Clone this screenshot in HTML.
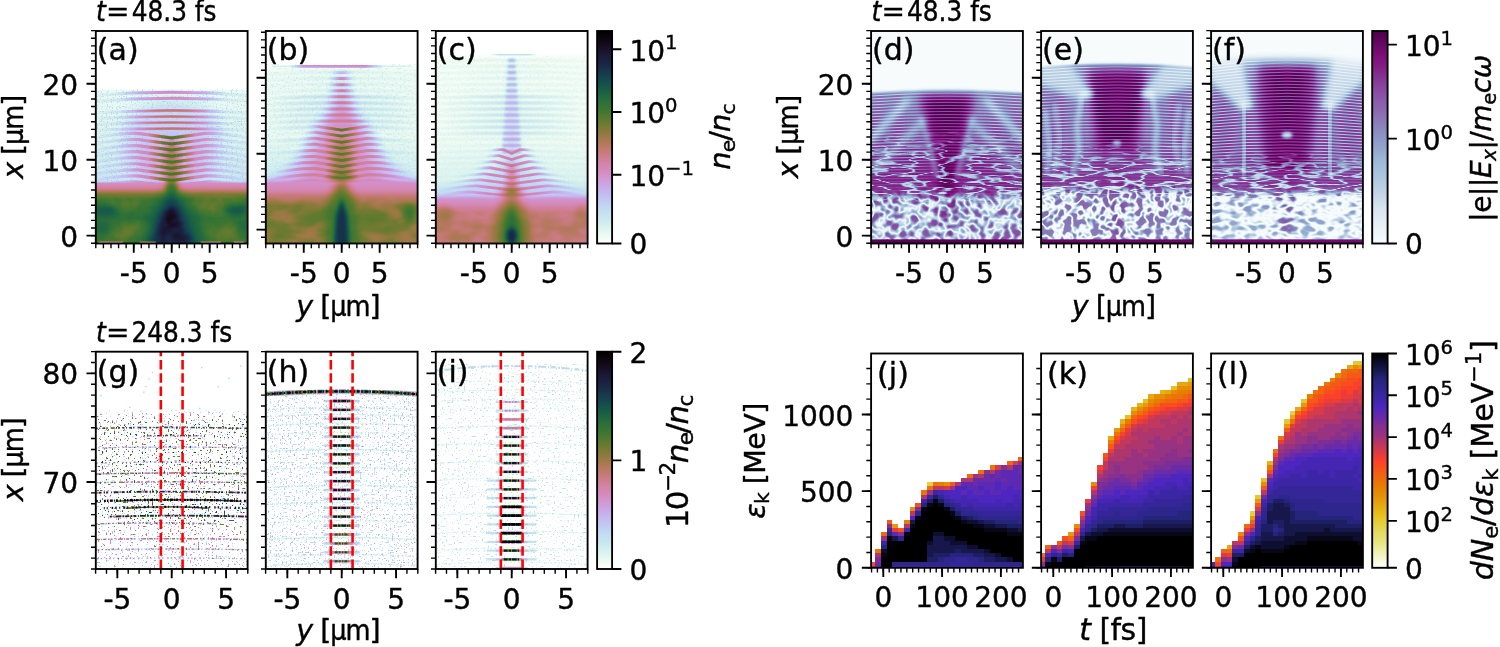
<!DOCTYPE html>
<html><head><meta charset="utf-8"><title>figure</title>
<style>html,body{margin:0;padding:0;background:#fff;overflow:hidden}svg{display:block}</style></head>
<body>
<svg width="1500" height="647" viewBox="0 0 1500 647" font-family="'DejaVu Sans','Liberation Sans',sans-serif" fill="#000">
<defs><linearGradient id="cb1" x1="0" y1="0" x2="0" y2="1"><stop offset="0" stop-color="#000000"/><stop offset="0.03" stop-color="#0b040c"/><stop offset="0.06" stop-color="#140a1b"/><stop offset="0.09" stop-color="#19122b"/><stop offset="0.12" stop-color="#1b1c3a"/><stop offset="0.16" stop-color="#192845"/><stop offset="0.19" stop-color="#17364c"/><stop offset="0.22" stop-color="#15444f"/><stop offset="0.25" stop-color="#15524c"/><stop offset="0.28" stop-color="#195e47"/><stop offset="0.31" stop-color="#22693f"/><stop offset="0.34" stop-color="#2f7137"/><stop offset="0.38" stop-color="#417731"/><stop offset="0.41" stop-color="#577a2f"/><stop offset="0.44" stop-color="#6f7b31"/><stop offset="0.47" stop-color="#877a3a"/><stop offset="0.5" stop-color="#9f7948"/><stop offset="0.53" stop-color="#b3795b"/><stop offset="0.56" stop-color="#c37a73"/><stop offset="0.59" stop-color="#ce7d8c"/><stop offset="0.62" stop-color="#d383a6"/><stop offset="0.66" stop-color="#d48cbe"/><stop offset="0.69" stop-color="#d297d2"/><stop offset="0.72" stop-color="#cca4e2"/><stop offset="0.75" stop-color="#c7b2ed"/><stop offset="0.78" stop-color="#c3c1f2"/><stop offset="0.81" stop-color="#c1cff3"/><stop offset="0.84" stop-color="#c4dcf2"/><stop offset="0.88" stop-color="#cae7f0"/><stop offset="0.91" stop-color="#d4efef"/><stop offset="0.94" stop-color="#e2f6f0"/><stop offset="0.97" stop-color="#f0fbf5"/><stop offset="1" stop-color="#ffffff"/></linearGradient><linearGradient id="cb2" x1="0" y1="0" x2="0" y2="1"><stop offset="0" stop-color="#4d004b"/><stop offset="0.03" stop-color="#580356"/><stop offset="0.06" stop-color="#650762"/><stop offset="0.09" stop-color="#730b6e"/><stop offset="0.12" stop-color="#800f7b"/><stop offset="0.16" stop-color="#831a83"/><stop offset="0.19" stop-color="#84278c"/><stop offset="0.22" stop-color="#863394"/><stop offset="0.25" stop-color="#88409c"/><stop offset="0.28" stop-color="#894ba2"/><stop offset="0.31" stop-color="#8a55a7"/><stop offset="0.34" stop-color="#8b60ac"/><stop offset="0.38" stop-color="#8c6ab1"/><stop offset="0.41" stop-color="#8c75b6"/><stop offset="0.44" stop-color="#8c80bb"/><stop offset="0.47" stop-color="#8c8bc0"/><stop offset="0.5" stop-color="#8c95c6"/><stop offset="0.53" stop-color="#909fcb"/><stop offset="0.56" stop-color="#95a8d0"/><stop offset="0.59" stop-color="#99b2d5"/><stop offset="0.62" stop-color="#9ebcda"/><stop offset="0.66" stop-color="#a6c2dd"/><stop offset="0.69" stop-color="#aec7e0"/><stop offset="0.72" stop-color="#b6cde3"/><stop offset="0.75" stop-color="#bfd3e6"/><stop offset="0.78" stop-color="#c7d9e9"/><stop offset="0.81" stop-color="#cfdfed"/><stop offset="0.84" stop-color="#d8e6f0"/><stop offset="0.88" stop-color="#e0ecf4"/><stop offset="0.91" stop-color="#e6f0f6"/><stop offset="0.94" stop-color="#ebf4f8"/><stop offset="0.97" stop-color="#f1f8fb"/><stop offset="1" stop-color="#f7fcfd"/></linearGradient><linearGradient id="cb3" x1="0" y1="0" x2="0" y2="1"><stop offset="0" stop-color="#000000"/><stop offset="0.03" stop-color="#0b040c"/><stop offset="0.06" stop-color="#140a1b"/><stop offset="0.09" stop-color="#19122b"/><stop offset="0.12" stop-color="#1b1c3a"/><stop offset="0.16" stop-color="#192845"/><stop offset="0.19" stop-color="#17364c"/><stop offset="0.22" stop-color="#15444f"/><stop offset="0.25" stop-color="#15524c"/><stop offset="0.28" stop-color="#195e47"/><stop offset="0.31" stop-color="#22693f"/><stop offset="0.34" stop-color="#2f7137"/><stop offset="0.38" stop-color="#417731"/><stop offset="0.41" stop-color="#577a2f"/><stop offset="0.44" stop-color="#6f7b31"/><stop offset="0.47" stop-color="#877a3a"/><stop offset="0.5" stop-color="#9f7948"/><stop offset="0.53" stop-color="#b3795b"/><stop offset="0.56" stop-color="#c37a73"/><stop offset="0.59" stop-color="#ce7d8c"/><stop offset="0.62" stop-color="#d383a6"/><stop offset="0.66" stop-color="#d48cbe"/><stop offset="0.69" stop-color="#d297d2"/><stop offset="0.72" stop-color="#cca4e2"/><stop offset="0.75" stop-color="#c7b2ed"/><stop offset="0.78" stop-color="#c3c1f2"/><stop offset="0.81" stop-color="#c1cff3"/><stop offset="0.84" stop-color="#c4dcf2"/><stop offset="0.88" stop-color="#cae7f0"/><stop offset="0.91" stop-color="#d4efef"/><stop offset="0.94" stop-color="#e2f6f0"/><stop offset="0.97" stop-color="#f0fbf5"/><stop offset="1" stop-color="#ffffff"/></linearGradient><linearGradient id="cb4" x1="0" y1="0" x2="0" y2="1"><stop offset="0" stop-color="#000000"/><stop offset="0.03" stop-color="#08081c"/><stop offset="0.06" stop-color="#12123c"/><stop offset="0.09" stop-color="#1c1c5c"/><stop offset="0.12" stop-color="#25257c"/><stop offset="0.16" stop-color="#2f268e"/><stop offset="0.19" stop-color="#38269e"/><stop offset="0.22" stop-color="#4226ae"/><stop offset="0.25" stop-color="#4c26be"/><stop offset="0.28" stop-color="#5e29b1"/><stop offset="0.31" stop-color="#712ca1"/><stop offset="0.34" stop-color="#843091"/><stop offset="0.38" stop-color="#983381"/><stop offset="0.41" stop-color="#b1366b"/><stop offset="0.44" stop-color="#ca3954"/><stop offset="0.47" stop-color="#e43c3e"/><stop offset="0.5" stop-color="#fd4028"/><stop offset="0.53" stop-color="#f94f1d"/><stop offset="0.56" stop-color="#f35f14"/><stop offset="0.59" stop-color="#ec6f0a"/><stop offset="0.62" stop-color="#e67f00"/><stop offset="0.66" stop-color="#e68f06"/><stop offset="0.69" stop-color="#e69f0d"/><stop offset="0.72" stop-color="#e6af13"/><stop offset="0.75" stop-color="#e6bf19"/><stop offset="0.78" stop-color="#e6c932"/><stop offset="0.81" stop-color="#e6d24c"/><stop offset="0.84" stop-color="#e6dc66"/><stop offset="0.88" stop-color="#e6e57f"/><stop offset="0.91" stop-color="#ecec9f"/><stop offset="0.94" stop-color="#f2f2bf"/><stop offset="0.97" stop-color="#f9f9df"/><stop offset="1" stop-color="#ffffff"/></linearGradient><filter id="cmCH" filterUnits="userSpaceOnUse" x="0" y="0" width="1500" height="647" color-interpolation-filters="sRGB"><feComponentTransfer><feFuncR type="table" tableValues="1.000 0.965 0.928 0.885 0.851 0.821 0.792 0.775 0.763 0.758 0.760 0.767 0.780 0.794 0.807 0.822 0.830 0.833 0.829 0.818 0.798 0.764 0.727 0.683 0.622 0.566 0.507 0.435 0.375 0.318 0.255 0.209 0.170 0.133 0.110 0.094 0.084 0.082 0.084 0.090 0.096 0.102 0.104 0.102 0.095 0.079 0.058 0.032 0.000"/><feFuncG type="table" tableValues="1.000 0.990 0.979 0.963 0.948 0.930 0.904 0.879 0.850 0.812 0.778 0.743 0.700 0.664 0.630 0.592 0.563 0.538 0.514 0.498 0.487 0.478 0.474 0.474 0.475 0.477 0.480 0.481 0.479 0.475 0.466 0.453 0.437 0.412 0.386 0.358 0.320 0.287 0.252 0.211 0.177 0.146 0.111 0.085 0.063 0.040 0.024 0.011 0.000"/><feFuncB type="table" tableValues="1.000 0.974 0.955 0.941 0.936 0.936 0.941 0.946 0.952 0.955 0.953 0.946 0.928 0.904 0.873 0.824 0.776 0.722 0.651 0.588 0.524 0.450 0.391 0.338 0.282 0.245 0.216 0.194 0.185 0.184 0.193 0.206 0.224 0.247 0.266 0.284 0.299 0.307 0.307 0.299 0.283 0.261 0.226 0.192 0.154 0.107 0.068 0.032 0.000"/></feComponentTransfer></filter><filter id="cmBP" filterUnits="userSpaceOnUse" x="0" y="0" width="1500" height="647" color-interpolation-filters="sRGB"><feComponentTransfer><feFuncR type="table" tableValues="0.969 0.954 0.940 0.923 0.909 0.895 0.878 0.858 0.837 0.813 0.793 0.772 0.748 0.728 0.707 0.683 0.663 0.642 0.619 0.608 0.597 0.583 0.572 0.561 0.549 0.549 0.549 0.549 0.549 0.549 0.549 0.546 0.544 0.541 0.538 0.536 0.533 0.528 0.524 0.519 0.515 0.510 0.500 0.468 0.436 0.398 0.366 0.334 0.302"/><feFuncG type="table" tableValues="0.988 0.978 0.969 0.957 0.947 0.937 0.925 0.910 0.894 0.876 0.861 0.845 0.827 0.813 0.798 0.781 0.767 0.753 0.736 0.712 0.689 0.661 0.637 0.614 0.586 0.559 0.533 0.501 0.474 0.448 0.416 0.391 0.365 0.334 0.308 0.282 0.250 0.220 0.189 0.152 0.121 0.090 0.057 0.048 0.039 0.028 0.018 0.009 0.000"/><feFuncB type="table" tableValues="0.992 0.987 0.981 0.974 0.969 0.963 0.957 0.948 0.939 0.929 0.920 0.912 0.902 0.894 0.887 0.878 0.871 0.863 0.854 0.842 0.829 0.815 0.802 0.790 0.775 0.762 0.749 0.734 0.721 0.708 0.693 0.680 0.668 0.653 0.641 0.629 0.613 0.592 0.572 0.548 0.527 0.507 0.481 0.451 0.421 0.385 0.354 0.324 0.294"/></feComponentTransfer></filter><filter id="bl0_6" x="-30%" y="-30%" width="160%" height="160%" color-interpolation-filters="sRGB"><feGaussianBlur stdDeviation="0.6"/></filter><filter id="bl1" x="-30%" y="-30%" width="160%" height="160%" color-interpolation-filters="sRGB"><feGaussianBlur stdDeviation="1"/></filter><filter id="bl1_5" x="-30%" y="-30%" width="160%" height="160%" color-interpolation-filters="sRGB"><feGaussianBlur stdDeviation="1.5"/></filter><filter id="bl2" x="-30%" y="-30%" width="160%" height="160%" color-interpolation-filters="sRGB"><feGaussianBlur stdDeviation="2"/></filter><filter id="bl3" x="-30%" y="-30%" width="160%" height="160%" color-interpolation-filters="sRGB"><feGaussianBlur stdDeviation="3"/></filter><filter id="bl4" x="-30%" y="-30%" width="160%" height="160%" color-interpolation-filters="sRGB"><feGaussianBlur stdDeviation="4"/></filter><filter id="bl6" x="-30%" y="-30%" width="160%" height="160%" color-interpolation-filters="sRGB"><feGaussianBlur stdDeviation="6"/></filter><filter id="bl9" x="-30%" y="-30%" width="160%" height="160%" color-interpolation-filters="sRGB"><feGaussianBlur stdDeviation="9"/></filter><filter id="blh" x="-30%" y="-30%" width="160%" height="160%" color-interpolation-filters="sRGB"><feGaussianBlur stdDeviation="6 1.2"/></filter><filter id="nzd1" x="0" y="0" width="1" height="1" color-interpolation-filters="sRGB"><feTurbulence type="fractalNoise" baseFrequency="0.1" numOctaves="2" seed="7"/><feColorMatrix type="matrix" values="0 0 0 0 0 0 0 0 0 0 0 0 0 0 0 1 0 0 0 0"/><feComponentTransfer><feFuncA type="table" tableValues="0 0 0 0.05 0.5 1 0.5 0.05 0 0 0"/></feComponentTransfer></filter><filter id="nzd2" x="0" y="0" width="1" height="1" color-interpolation-filters="sRGB"><feTurbulence type="fractalNoise" baseFrequency="0.035 0.17" numOctaves="2" seed="3"/><feColorMatrix type="matrix" values="0 0 0 0 0 0 0 0 0 0 0 0 0 0 0 1 0 0 0 0"/><feComponentTransfer><feFuncA type="table" tableValues="0 0 0 0 0 0 0 0 0 0 0 0 0 0 0 0 0 0 0.33 0.75 1 0.75 0.33 0 0 0 0 0 0 0 0 0 0 0 0 0 0 0 0 0 0"/></feComponentTransfer></filter><linearGradient id="mkd1g" gradientUnits="userSpaceOnUse" x1="0" y1="185" x2="0" y2="243"><stop offset="0" stop-color="#000000"/><stop offset="0.12" stop-color="#1a1a1a"/><stop offset="0.27" stop-color="#ffffff"/><stop offset="1" stop-color="#ffffff"/></linearGradient><mask id="mkd1" maskUnits="userSpaceOnUse" x="0" y="0" width="1500" height="647"><rect x="0" y="0" width="1500" height="185.5" fill="#000000"/><rect x="0" y="242.5" width="1500" height="404.5" fill="#ffffff"/><rect x="0" y="185" width="1500" height="58" fill="url(#mkd1g)"/></mask><linearGradient id="mkd2g" gradientUnits="userSpaceOnUse" x1="0" y1="128" x2="0" y2="205"><stop offset="0" stop-color="#000000"/><stop offset="0.35" stop-color="#999999"/><stop offset="0.85" stop-color="#cccccc"/><stop offset="1" stop-color="#000000"/></linearGradient><mask id="mkd2" maskUnits="userSpaceOnUse" x="0" y="0" width="1500" height="647"><rect x="0" y="0" width="1500" height="128.5" fill="#000000"/><rect x="0" y="204.5" width="1500" height="442.5" fill="#000000"/><rect x="0" y="128" width="1500" height="77" fill="url(#mkd2g)"/></mask><linearGradient id="mkdfg" gradientUnits="userSpaceOnUse" x1="0" y1="90.3" x2="0" y2="200"><stop offset="0" stop-color="#ffffff"/><stop offset="0.55" stop-color="#ffffff"/><stop offset="0.78" stop-color="#4c4c4c"/><stop offset="1" stop-color="#000000"/></linearGradient><mask id="mkdf" maskUnits="userSpaceOnUse" x="0" y="0" width="1500" height="647"><rect x="0" y="0" width="1500" height="90.8" fill="#ffffff"/><rect x="0" y="199.5" width="1500" height="447.5" fill="#000000"/><rect x="0" y="90.3" width="1500" height="109.7" fill="url(#mkdfg)"/></mask><clipPath id="cpd"><rect x="871.1" y="31" width="151.8" height="212.5"/></clipPath><linearGradient id="fgd" gradientUnits="userSpaceOnUse" x1="0" y1="84.3" x2="0" y2="243.5"><stop offset="0" stop-color="#262626"/><stop offset="0.06" stop-color="#9e9e9e"/><stop offset="0.26" stop-color="#bdbdbd"/><stop offset="0.46" stop-color="#d6d6d6"/><stop offset="0.7" stop-color="#d6d6d6"/><stop offset="0.75" stop-color="#bdbdbd"/><stop offset="1" stop-color="#b2b2b2"/></linearGradient><linearGradient id="fsd" gradientUnits="userSpaceOnUse" x1="871.1" y1="0" x2="1022.9" y2="0"><stop offset="0" stop-color="#080808" stop-opacity="0.66"/><stop offset="0.3" stop-color="#080808" stop-opacity="0.66"/><stop offset="0.42" stop-color="#080808" stop-opacity="0.32"/><stop offset="0.58" stop-color="#080808" stop-opacity="0.32"/><stop offset="0.7" stop-color="#080808" stop-opacity="0.66"/><stop offset="1" stop-color="#080808" stop-opacity="0.66"/></linearGradient><filter id="nze1" x="0" y="0" width="1" height="1" color-interpolation-filters="sRGB"><feTurbulence type="fractalNoise" baseFrequency="0.11" numOctaves="2" seed="11"/><feColorMatrix type="matrix" values="0 0 0 0 0 0 0 0 0 0 0 0 0 0 0 1 0 0 0 0"/><feComponentTransfer><feFuncA type="table" tableValues="0 0 0 0 0 0 0 0 0 0 0 0 0 0 0.08 0.27 0.46 0.65 0.85 1 1 1 0.85 0.65 0.46 0.27 0.08 0 0 0 0 0 0 0 0 0 0 0 0 0 0"/></feComponentTransfer></filter><filter id="nze2" x="0" y="0" width="1" height="1" color-interpolation-filters="sRGB"><feTurbulence type="fractalNoise" baseFrequency="0.035 0.17" numOctaves="2" seed="5"/><feColorMatrix type="matrix" values="0 0 0 0 0 0 0 0 0 0 0 0 0 0 0 1 0 0 0 0"/><feComponentTransfer><feFuncA type="table" tableValues="0 0 0 0 0 0 0 0 0 0 0 0 0 0 0 0 0 0 0.33 0.75 1 0.75 0.33 0 0 0 0 0 0 0 0 0 0 0 0 0 0 0 0 0 0"/></feComponentTransfer></filter><linearGradient id="mke1g" gradientUnits="userSpaceOnUse" x1="0" y1="180" x2="0" y2="243"><stop offset="0" stop-color="#000000"/><stop offset="0.1" stop-color="#1a1a1a"/><stop offset="0.22" stop-color="#ffffff"/><stop offset="1" stop-color="#ffffff"/></linearGradient><mask id="mke1" maskUnits="userSpaceOnUse" x="0" y="0" width="1500" height="647"><rect x="0" y="0" width="1500" height="180.5" fill="#000000"/><rect x="0" y="242.5" width="1500" height="404.5" fill="#ffffff"/><rect x="0" y="180" width="1500" height="63" fill="url(#mke1g)"/></mask><linearGradient id="mke2g" gradientUnits="userSpaceOnUse" x1="0" y1="140" x2="0" y2="200"><stop offset="0" stop-color="#000000"/><stop offset="0.4" stop-color="#b2b2b2"/><stop offset="0.85" stop-color="#e6e6e6"/><stop offset="1" stop-color="#000000"/></linearGradient><mask id="mke2" maskUnits="userSpaceOnUse" x="0" y="0" width="1500" height="647"><rect x="0" y="0" width="1500" height="140.5" fill="#000000"/><rect x="0" y="199.5" width="1500" height="447.5" fill="#000000"/><rect x="0" y="140" width="1500" height="60" fill="url(#mke2g)"/></mask><linearGradient id="mkefg" gradientUnits="userSpaceOnUse" x1="0" y1="63.8" x2="0" y2="195"><stop offset="0" stop-color="#ffffff"/><stop offset="0.62" stop-color="#ffffff"/><stop offset="0.82" stop-color="#595959"/><stop offset="1" stop-color="#000000"/></linearGradient><mask id="mkef" maskUnits="userSpaceOnUse" x="0" y="0" width="1500" height="647"><rect x="0" y="0" width="1500" height="64.3" fill="#ffffff"/><rect x="0" y="194.5" width="1500" height="452.5" fill="#000000"/><rect x="0" y="63.8" width="1500" height="131.2" fill="url(#mkefg)"/></mask><clipPath id="cpe"><rect x="1041.1" y="31" width="151.8" height="212.5"/></clipPath><linearGradient id="fge" gradientUnits="userSpaceOnUse" x1="0" y1="57.8" x2="0" y2="243.5"><stop offset="0.01" stop-color="#141414"/><stop offset="0.04" stop-color="#8c8c8c"/><stop offset="0.23" stop-color="#adadad"/><stop offset="0.5" stop-color="#bdbdbd"/><stop offset="0.7" stop-color="#d1d1d1"/><stop offset="0.74" stop-color="#a8a8a8"/><stop offset="1" stop-color="#8f8f8f"/></linearGradient><linearGradient id="fse" gradientUnits="userSpaceOnUse" x1="1041.1" y1="0" x2="1192.9" y2="0"><stop offset="0" stop-color="#080808" stop-opacity="0.68"/><stop offset="0.3" stop-color="#080808" stop-opacity="0.68"/><stop offset="0.42" stop-color="#080808" stop-opacity="0.36"/><stop offset="0.58" stop-color="#080808" stop-opacity="0.36"/><stop offset="0.7" stop-color="#080808" stop-opacity="0.68"/><stop offset="1" stop-color="#080808" stop-opacity="0.68"/></linearGradient><filter id="nzf1" x="0" y="0" width="1" height="1" color-interpolation-filters="sRGB"><feTurbulence type="fractalNoise" baseFrequency="0.07 0.12" numOctaves="2" seed="21"/><feColorMatrix type="matrix" values="0 0 0 0 0 0 0 0 0 0 0 0 0 0 0 1 0 0 0 0"/><feComponentTransfer><feFuncA type="table" tableValues="0 0 0 0 0 0 0 0 0 0 0 0 0 0.1 0.27 0.43 0.6 0.77 0.93 1 1 1 0.93 0.77 0.6 0.43 0.27 0.1 0 0 0 0 0 0 0 0 0 0 0 0 0"/></feComponentTransfer></filter><filter id="nzf2" x="0" y="0" width="1" height="1" color-interpolation-filters="sRGB"><feTurbulence type="fractalNoise" baseFrequency="0.035 0.17" numOctaves="2" seed="9"/><feColorMatrix type="matrix" values="0 0 0 0 0 0 0 0 0 0 0 0 0 0 0 1 0 0 0 0"/><feComponentTransfer><feFuncA type="table" tableValues="0 0 0 0 0 0 0 0 0 0 0 0 0 0 0 0 0 0 0.33 0.75 1 0.75 0.33 0 0 0 0 0 0 0 0 0 0 0 0 0 0 0 0 0 0"/></feComponentTransfer></filter><linearGradient id="mkf1g" gradientUnits="userSpaceOnUse" x1="0" y1="184" x2="0" y2="243"><stop offset="0" stop-color="#000000"/><stop offset="0.1" stop-color="#1a1a1a"/><stop offset="0.22" stop-color="#ffffff"/><stop offset="1" stop-color="#ffffff"/></linearGradient><mask id="mkf1" maskUnits="userSpaceOnUse" x="0" y="0" width="1500" height="647"><rect x="0" y="0" width="1500" height="184.5" fill="#000000"/><rect x="0" y="242.5" width="1500" height="404.5" fill="#ffffff"/><rect x="0" y="184" width="1500" height="59" fill="url(#mkf1g)"/></mask><linearGradient id="mkf2g" gradientUnits="userSpaceOnUse" x1="0" y1="150" x2="0" y2="204"><stop offset="0" stop-color="#000000"/><stop offset="0.4" stop-color="#b2b2b2"/><stop offset="0.85" stop-color="#e6e6e6"/><stop offset="1" stop-color="#000000"/></linearGradient><mask id="mkf2" maskUnits="userSpaceOnUse" x="0" y="0" width="1500" height="647"><rect x="0" y="0" width="1500" height="150.5" fill="#000000"/><rect x="0" y="203.5" width="1500" height="443.5" fill="#000000"/><rect x="0" y="150" width="1500" height="54" fill="url(#mkf2g)"/></mask><linearGradient id="mkffg" gradientUnits="userSpaceOnUse" x1="0" y1="57" x2="0" y2="200"><stop offset="0" stop-color="#ffffff"/><stop offset="0.66" stop-color="#ffffff"/><stop offset="0.84" stop-color="#595959"/><stop offset="1" stop-color="#000000"/></linearGradient><mask id="mkff" maskUnits="userSpaceOnUse" x="0" y="0" width="1500" height="647"><rect x="0" y="0" width="1500" height="57.5" fill="#ffffff"/><rect x="0" y="199.5" width="1500" height="447.5" fill="#000000"/><rect x="0" y="57" width="1500" height="143" fill="url(#mkffg)"/></mask><clipPath id="cpf"><rect x="1211.1" y="31" width="151.8" height="212.5"/></clipPath><linearGradient id="fgf" gradientUnits="userSpaceOnUse" x1="0" y1="51" x2="0" y2="243.5"><stop offset="-0.01" stop-color="#080808"/><stop offset="0.04" stop-color="#474747"/><stop offset="0.1" stop-color="#949494"/><stop offset="0.25" stop-color="#b2b2b2"/><stop offset="0.51" stop-color="#c2c2c2"/><stop offset="0.72" stop-color="#cccccc"/><stop offset="0.77" stop-color="#858585"/><stop offset="1" stop-color="#666666"/></linearGradient><linearGradient id="fsf" gradientUnits="userSpaceOnUse" x1="1211.1" y1="0" x2="1362.9" y2="0"><stop offset="0" stop-color="#080808" stop-opacity="0.68"/><stop offset="0.3" stop-color="#080808" stop-opacity="0.68"/><stop offset="0.42" stop-color="#080808" stop-opacity="0.36"/><stop offset="0.58" stop-color="#080808" stop-opacity="0.36"/><stop offset="0.7" stop-color="#080808" stop-opacity="0.68"/><stop offset="1" stop-color="#080808" stop-opacity="0.68"/></linearGradient><clipPath id="cpa"><rect x="95.8" y="31" width="151.8" height="212.5"/></clipPath><linearGradient id="abg" gradientUnits="userSpaceOnUse" x1="0" y1="88" x2="0" y2="190"><stop offset="0" stop-color="#0b0b0b"/><stop offset="0.04" stop-color="#0b0b0b"/><stop offset="0.5" stop-color="#121212"/><stop offset="0.9" stop-color="#1f1f1f"/><stop offset="1" stop-color="#333333"/></linearGradient><filter id="nza" x="0" y="0" width="1" height="1" color-interpolation-filters="sRGB"><feTurbulence type="fractalNoise" baseFrequency="0.8" numOctaves="1" seed="4"/><feColorMatrix type="matrix" values="0 0 0 0 0.27 0 0 0 0 0.27 0 0 0 0 0.27 1 0 0 0 0"/><feComponentTransfer><feFuncA type="table" tableValues="0 0 0 0 0 0 0 0 0 0 0 0 0 0 0 0 0 0 0 0 0 0 0 0.04 0.25 0.46 0.67 0.88 1 1 1 1 1 1 1 1 1 1 1 1 1"/></feComponentTransfer></filter><clipPath id="cpaz"><rect x="95.8" y="89.6" width="151.8" height="153.9"/></clipPath><linearGradient id="afg1" gradientUnits="userSpaceOnUse" x1="95.8" y1="0" x2="247.6" y2="0"><stop offset="0" stop-color="#5e5e5e" stop-opacity="0.08"/><stop offset="0.15" stop-color="#5e5e5e" stop-opacity="0.22"/><stop offset="0.28" stop-color="#5e5e5e" stop-opacity="0.7"/><stop offset="0.5" stop-color="#5e5e5e" stop-opacity="0.95"/><stop offset="0.72" stop-color="#5e5e5e" stop-opacity="0.7"/><stop offset="0.85" stop-color="#5e5e5e" stop-opacity="0.22"/><stop offset="1" stop-color="#5e5e5e" stop-opacity="0.08"/></linearGradient><linearGradient id="afg2" gradientUnits="userSpaceOnUse" x1="95.8" y1="0" x2="247.6" y2="0"><stop offset="0" stop-color="#5e5e5e" stop-opacity="0.1"/><stop offset="0.15" stop-color="#5e5e5e" stop-opacity="0.3"/><stop offset="0.3" stop-color="#5e5e5e" stop-opacity="0.9"/><stop offset="0.5" stop-color="#5e5e5e" stop-opacity="1"/><stop offset="0.7" stop-color="#5e5e5e" stop-opacity="0.9"/><stop offset="0.85" stop-color="#5e5e5e" stop-opacity="0.3"/><stop offset="1" stop-color="#5e5e5e" stop-opacity="0.1"/></linearGradient><linearGradient id="afg3" gradientUnits="userSpaceOnUse" x1="95.8" y1="0" x2="247.6" y2="0"><stop offset="0" stop-color="#a1a1a1" stop-opacity="0"/><stop offset="0.34" stop-color="#a1a1a1" stop-opacity="0"/><stop offset="0.44" stop-color="#a1a1a1" stop-opacity="0.8"/><stop offset="0.5" stop-color="#a1a1a1" stop-opacity="1"/><stop offset="0.56" stop-color="#a1a1a1" stop-opacity="0.8"/><stop offset="0.66" stop-color="#a1a1a1" stop-opacity="0"/><stop offset="1" stop-color="#a1a1a1" stop-opacity="0"/></linearGradient><linearGradient id="afg4" gradientUnits="userSpaceOnUse" x1="95.8" y1="0" x2="247.6" y2="0"><stop offset="0" stop-color="#808080" stop-opacity="0"/><stop offset="0.25" stop-color="#808080" stop-opacity="0"/><stop offset="0.4" stop-color="#808080" stop-opacity="0.7"/><stop offset="0.6" stop-color="#808080" stop-opacity="0.7"/><stop offset="0.75" stop-color="#808080" stop-opacity="0"/><stop offset="1" stop-color="#808080" stop-opacity="0"/></linearGradient><linearGradient id="abb" gradientUnits="userSpaceOnUse" x1="0" y1="181" x2="0" y2="243.5"><stop offset="0" stop-color="#4c4c4c" stop-opacity="0"/><stop offset="0.04" stop-color="#575757" stop-opacity="1"/><stop offset="0.11" stop-color="#616161" stop-opacity="1"/><stop offset="0.16" stop-color="#757575" stop-opacity="1"/><stop offset="0.22" stop-color="#919191" stop-opacity="1"/><stop offset="0.3" stop-color="#a1a1a1" stop-opacity="1"/><stop offset="0.6" stop-color="#a8a8a8" stop-opacity="1"/><stop offset="1" stop-color="#a1a1a1" stop-opacity="1"/></linearGradient><filter id="nza2" x="0" y="0" width="1" height="1" color-interpolation-filters="sRGB"><feTurbulence type="fractalNoise" baseFrequency="0.09" numOctaves="2" seed="8"/><feColorMatrix type="matrix" values="0 0 0 0 0.72 0 0 0 0 0.72 0 0 0 0 0.72 1 0 0 0 0"/><feComponentTransfer><feFuncA type="table" tableValues="0 0 0 0.2 0.6 1 1 1"/></feComponentTransfer></filter><clipPath id="cpb"><rect x="265.8" y="31" width="151.8" height="212.5"/></clipPath><linearGradient id="bbg" gradientUnits="userSpaceOnUse" x1="0" y1="60" x2="0" y2="188"><stop offset="0" stop-color="#000000"/><stop offset="0.05" stop-color="#080808"/><stop offset="0.6" stop-color="#0a0a0a"/><stop offset="0.9" stop-color="#1a1a1a"/><stop offset="1" stop-color="#333333"/></linearGradient><filter id="nzb" x="0" y="0" width="1" height="1" color-interpolation-filters="sRGB"><feTurbulence type="fractalNoise" baseFrequency="0.5" numOctaves="1" seed="14"/><feColorMatrix type="matrix" values="0 0 0 0 0.22 0 0 0 0 0.22 0 0 0 0 0.22 1 0 0 0 0"/><feComponentTransfer><feFuncA type="table" tableValues="0 0 0 0 0 0 0 0 0 0 0 0 0 0 0 0 0 0 0 0 0 0 0 0.21 0.42 0.62 0.83 1 1 1 1 1 1 1 1 1 1 1 1 1 1"/></feComponentTransfer></filter><linearGradient id="bfg0" gradientUnits="userSpaceOnUse" x1="265.8" y1="0" x2="417.6" y2="0"><stop offset="0" stop-color="#333333" stop-opacity="0.15"/><stop offset="0.3" stop-color="#333333" stop-opacity="0.3"/><stop offset="0.5" stop-color="#333333" stop-opacity="0.5"/><stop offset="0.7" stop-color="#333333" stop-opacity="0.3"/><stop offset="1" stop-color="#333333" stop-opacity="0.15"/></linearGradient><linearGradient id="bln" gradientUnits="userSpaceOnUse" x1="289.7" y1="0" x2="383.7" y2="0"><stop offset="0" stop-color="#737373" stop-opacity="0"/><stop offset="0.15" stop-color="#737373" stop-opacity="0.8"/><stop offset="0.8" stop-color="#737373" stop-opacity="0.9"/><stop offset="1" stop-color="#737373" stop-opacity="0"/></linearGradient><linearGradient id="bfgw" gradientUnits="userSpaceOnUse" x1="265.8" y1="0" x2="417.6" y2="0"><stop offset="0" stop-color="#4c4c4c" stop-opacity="0"/><stop offset="0.15" stop-color="#4c4c4c" stop-opacity="0.25"/><stop offset="0.5" stop-color="#4c4c4c" stop-opacity="0.6"/><stop offset="0.85" stop-color="#4c4c4c" stop-opacity="0.25"/><stop offset="1" stop-color="#4c4c4c" stop-opacity="0"/></linearGradient><mask id="cpbt" maskUnits="userSpaceOnUse" x="0" y="0" width="1500" height="647"><path d="M346.7 72L350.7 95L355.7 114L368.7 127L375.7 140L383.7 158L397.7 170L413.7 180L425.7 186L425.7 190L257.7 190L257.7 186L269.7 180L285.7 170L299.7 158L307.7 140L314.7 127L327.7 114L332.7 95L336.7 72z" fill="#fff" filter="url(#bl4)"/></mask><linearGradient id="bfg1" gradientUnits="userSpaceOnUse" x1="265.8" y1="0" x2="417.6" y2="0"><stop offset="0" stop-color="#666666" stop-opacity="0.2"/><stop offset="0.25" stop-color="#666666" stop-opacity="0.8"/><stop offset="0.5" stop-color="#666666" stop-opacity="1"/><stop offset="0.75" stop-color="#666666" stop-opacity="0.8"/><stop offset="1" stop-color="#666666" stop-opacity="0.2"/></linearGradient><linearGradient id="bfg2" gradientUnits="userSpaceOnUse" x1="265.8" y1="0" x2="417.6" y2="0"><stop offset="0" stop-color="#999999" stop-opacity="0"/><stop offset="0.38" stop-color="#999999" stop-opacity="0"/><stop offset="0.46" stop-color="#999999" stop-opacity="0.8"/><stop offset="0.5" stop-color="#999999" stop-opacity="1"/><stop offset="0.54" stop-color="#999999" stop-opacity="0.8"/><stop offset="0.62" stop-color="#999999" stop-opacity="0"/><stop offset="1" stop-color="#999999" stop-opacity="0"/></linearGradient><linearGradient id="bbb" gradientUnits="userSpaceOnUse" x1="0" y1="178" x2="0" y2="243.5"><stop offset="0" stop-color="#4c4c4c" stop-opacity="0"/><stop offset="0.08" stop-color="#545454" stop-opacity="1"/><stop offset="0.2" stop-color="#5e5e5e" stop-opacity="1"/><stop offset="0.3" stop-color="#757575" stop-opacity="1"/><stop offset="0.42" stop-color="#8c8c8c" stop-opacity="1"/><stop offset="0.7" stop-color="#919191" stop-opacity="1"/><stop offset="1" stop-color="#8c8c8c" stop-opacity="1"/></linearGradient><filter id="nzb2" x="0" y="0" width="1" height="1" color-interpolation-filters="sRGB"><feTurbulence type="fractalNoise" baseFrequency="0.05 0.09" numOctaves="2" seed="18"/><feColorMatrix type="matrix" values="0 0 0 0 0.42 0 0 0 0 0.42 0 0 0 0 0.42 1 0 0 0 0"/><feComponentTransfer><feFuncA type="table" tableValues="0 0 0 0.2 0.7 1 1 1"/></feComponentTransfer></filter><clipPath id="cpc"><rect x="435.8" y="31" width="151.8" height="212.5"/></clipPath><linearGradient id="cbg" gradientUnits="userSpaceOnUse" x1="0" y1="52" x2="0" y2="202"><stop offset="0" stop-color="#000000"/><stop offset="0.04" stop-color="#050505"/><stop offset="0.6" stop-color="#080808"/><stop offset="0.85" stop-color="#121212"/><stop offset="1" stop-color="#333333"/></linearGradient><filter id="nzc" x="0" y="0" width="1" height="1" color-interpolation-filters="sRGB"><feTurbulence type="fractalNoise" baseFrequency="0.5" numOctaves="1" seed="24"/><feColorMatrix type="matrix" values="0 0 0 0 0.2 0 0 0 0 0.2 0 0 0 0 0.2 1 0 0 0 0"/><feComponentTransfer><feFuncA type="table" tableValues="0 0 0 0 0 0 0 0 0 0 0 0 0 0 0 0 0 0 0 0 0 0 0 0.12 0.33 0.54 0.75 0.96 1 1 1 1 1 1 1 1 1 1 1 1 1"/></feComponentTransfer></filter><linearGradient id="cfg0" gradientUnits="userSpaceOnUse" x1="435.8" y1="0" x2="587.6" y2="0"><stop offset="0" stop-color="#292929" stop-opacity="0.2"/><stop offset="0.5" stop-color="#292929" stop-opacity="0.5"/><stop offset="1" stop-color="#292929" stop-opacity="0.2"/></linearGradient><linearGradient id="cln" gradientUnits="userSpaceOnUse" x1="489.7" y1="0" x2="537.7" y2="0"><stop offset="0" stop-color="#474747" stop-opacity="0"/><stop offset="0.2" stop-color="#474747" stop-opacity="0.55"/><stop offset="0.8" stop-color="#474747" stop-opacity="0.55"/><stop offset="1" stop-color="#474747" stop-opacity="0"/></linearGradient><linearGradient id="cfgw" gradientUnits="userSpaceOnUse" x1="435.8" y1="0" x2="587.6" y2="0"><stop offset="0" stop-color="#424242" stop-opacity="0"/><stop offset="0.2" stop-color="#424242" stop-opacity="0.2"/><stop offset="0.5" stop-color="#424242" stop-opacity="0.6"/><stop offset="0.8" stop-color="#424242" stop-opacity="0.2"/><stop offset="1" stop-color="#424242" stop-opacity="0"/></linearGradient><linearGradient id="cfg1" gradientUnits="userSpaceOnUse" x1="435.8" y1="0" x2="587.6" y2="0"><stop offset="0" stop-color="#616161" stop-opacity="0"/><stop offset="0.15" stop-color="#616161" stop-opacity="0.3"/><stop offset="0.35" stop-color="#616161" stop-opacity="0.9"/><stop offset="0.5" stop-color="#616161" stop-opacity="1"/><stop offset="0.65" stop-color="#616161" stop-opacity="0.9"/><stop offset="0.85" stop-color="#616161" stop-opacity="0.3"/><stop offset="1" stop-color="#616161" stop-opacity="0"/></linearGradient><linearGradient id="cfg2" gradientUnits="userSpaceOnUse" x1="435.8" y1="0" x2="587.6" y2="0"><stop offset="0" stop-color="#949494" stop-opacity="0"/><stop offset="0.42" stop-color="#949494" stop-opacity="0"/><stop offset="0.48" stop-color="#949494" stop-opacity="0.9"/><stop offset="0.52" stop-color="#949494" stop-opacity="0.9"/><stop offset="0.58" stop-color="#949494" stop-opacity="0"/><stop offset="1" stop-color="#949494" stop-opacity="0"/></linearGradient><mask id="cpct" maskUnits="userSpaceOnUse" x="0" y="0" width="1500" height="647"><path d="M519.1 58L521.2 110L524.7 140L530.3 158L548.5 175L579.3 188L629.7 197L629.7 203L393.7 203L393.7 197L444.1 188L474.9 175L493.1 158L498.7 140L502.2 110L504.3 58z" fill="#fff" filter="url(#bl4)"/></mask><linearGradient id="cbb" gradientUnits="userSpaceOnUse" x1="0" y1="194" x2="0" y2="243.5"><stop offset="0" stop-color="#474747" stop-opacity="0"/><stop offset="0.1" stop-color="#525252" stop-opacity="1"/><stop offset="0.25" stop-color="#5e5e5e" stop-opacity="1"/><stop offset="0.4" stop-color="#737373" stop-opacity="1"/><stop offset="0.7" stop-color="#787878" stop-opacity="1"/><stop offset="1" stop-color="#707070" stop-opacity="1"/></linearGradient><filter id="nzc2" x="0" y="0" width="1" height="1" color-interpolation-filters="sRGB"><feTurbulence type="fractalNoise" baseFrequency="0.05 0.09" numOctaves="2" seed="28"/><feColorMatrix type="matrix" values="0 0 0 0 0.38 0 0 0 0 0.38 0 0 0 0 0.38 1 0 0 0 0"/><feComponentTransfer><feFuncA type="table" tableValues="0 0 0 0.2 0.7 1 1 1"/></feComponentTransfer></filter><clipPath id="cpg"><rect x="95.8" y="351.7" width="151.8" height="217.3"/></clipPath><mask id="mkg" maskUnits="userSpaceOnUse" x="0" y="0" width="1500" height="647"><rect x="92.8" y="348.7" width="157.8" height="223.3" fill="#9e9e9e"/><g filter="url(#bl0_6)"><rect x="95.8" y="414.7" width="151.8" height="2.6" fill="#b2b2b2"/><rect x="95.8" y="423.82" width="151.8" height="2.6" fill="#c4c4c4"/><rect x="95.8" y="433.28" width="151.8" height="2.6" fill="#bebebe"/><rect x="95.8" y="442.71" width="151.8" height="2.6" fill="#767676"/><rect x="95.8" y="451.35" width="151.8" height="2.6" fill="#d3d3d3"/><rect x="95.8" y="460.3" width="151.8" height="2.6" fill="#cfcfcf"/><rect x="95.8" y="468.33" width="151.8" height="2.6" fill="#a3a3a3"/><rect x="95.8" y="476.58" width="151.8" height="2.6" fill="#aaaaaa"/><rect x="95.8" y="485.41" width="151.8" height="2.6" fill="#747474"/><rect x="95.8" y="493.61" width="151.8" height="2.6" fill="#8f8f8f"/><rect x="95.8" y="503.03" width="151.8" height="2.6" fill="#c1c1c1"/><rect x="95.8" y="511.13" width="151.8" height="2.6" fill="#c4c4c4"/><rect x="95.8" y="519.2" width="151.8" height="2.6" fill="#b2b2b2"/><rect x="95.8" y="527.25" width="151.8" height="2.6" fill="#737373"/><rect x="95.8" y="536.59" width="151.8" height="2.6" fill="#888888"/><rect x="95.8" y="544.79" width="151.8" height="2.6" fill="#d7d7d7"/><rect x="95.8" y="554.14" width="151.8" height="2.6" fill="#909090"/><rect x="95.8" y="563.63" width="151.8" height="2.6" fill="#aaaaaa"/></g></mask><linearGradient id="mkgvg" gradientUnits="userSpaceOnUse" x1="0" y1="408" x2="0" y2="569"><stop offset="0" stop-color="#000000"/><stop offset="0.07" stop-color="#ffffff"/><stop offset="0.7" stop-color="#ffffff"/><stop offset="0.82" stop-color="#999999"/><stop offset="1" stop-color="#737373"/></linearGradient><mask id="mkgv" maskUnits="userSpaceOnUse" x="0" y="0" width="1500" height="647"><rect x="0" y="0" width="1500" height="408.5" fill="#000000"/><rect x="0" y="568.5" width="1500" height="78.5" fill="#737373"/><rect x="0" y="408" width="1500" height="161" fill="url(#mkgvg)"/></mask><filter id="dtg1" x="0" y="0" width="1" height="1" color-interpolation-filters="sRGB"><feTurbulence type="fractalNoise" baseFrequency="0.5" numOctaves="1" seed="31"/><feColorMatrix type="matrix" values="0 0 0 0 0.97 0 0 0 0 0.97 0 0 0 0 0.97 1 0 0 0 0"/><feComponentTransfer><feFuncA type="table" tableValues="0 0 0 0 0 0 0 0 0 0 0 0 0 0 0 0 0 0 0 0 0 0 0 0 0 0 0 0.33 1 1 1 1 1 1 1 1 1 1 1 1 1"/></feComponentTransfer></filter><filter id="dtg2" x="0" y="0" width="1" height="1" color-interpolation-filters="sRGB"><feTurbulence type="fractalNoise" baseFrequency="0.5" numOctaves="1" seed="32"/><feColorMatrix type="matrix" values="0 0 0 0 0.36 0 0 0 0 0.36 0 0 0 0 0.36 1 0 0 0 0"/><feComponentTransfer><feFuncA type="table" tableValues="0 0 0 0 0 0 0 0 0 0 0 0 0 0 0 0 0 0 0 0 0 0 0 0 0 0 0 0 0 0.33 1 1 1 1 1 1 1 1 1 1 1"/></feComponentTransfer></filter><filter id="dtg3" x="0" y="0" width="1" height="1" color-interpolation-filters="sRGB"><feTurbulence type="fractalNoise" baseFrequency="0.5" numOctaves="1" seed="33"/><feColorMatrix type="matrix" values="0 0 0 0 0.2 0 0 0 0 0.2 0 0 0 0 0.2 1 0 0 0 0"/><feComponentTransfer><feFuncA type="table" tableValues="0 0 0 0 0 0 0 0 0 0 0 0 0 0 0 0 0 0 0 0 0 0 0 0 0 0 0 0 0.33 1 1 1 1 1 1 1 1 1 1 1 1"/></feComponentTransfer></filter><clipPath id="cph"><rect x="265.8" y="351.7" width="151.8" height="217.3"/></clipPath><mask id="mkh" maskUnits="userSpaceOnUse" x="0" y="0" width="1500" height="647"><rect x="262.8" y="348.7" width="157.8" height="223.3" fill="#4c4c4c"/><g filter="url(#bl1)"><rect x="265.8" y="399.4" width="151.8" height="3.2" fill="#909090"/><rect x="265.8" y="408.3" width="151.8" height="3.2" fill="#808080"/><rect x="265.8" y="417.2" width="151.8" height="3.2" fill="#adadad"/><rect x="265.8" y="426.1" width="151.8" height="3.2" fill="#797979"/><rect x="265.8" y="435" width="151.8" height="3.2" fill="#a3a3a3"/><rect x="265.8" y="443.9" width="151.8" height="3.2" fill="#939393"/><rect x="265.8" y="452.8" width="151.8" height="3.2" fill="#787878"/><rect x="265.8" y="461.7" width="151.8" height="3.2" fill="#a0a0a0"/><rect x="265.8" y="470.6" width="151.8" height="3.2" fill="#767676"/><rect x="265.8" y="479.5" width="151.8" height="3.2" fill="#999999"/><rect x="265.8" y="488.4" width="151.8" height="3.2" fill="#797979"/><rect x="265.8" y="497.3" width="151.8" height="3.2" fill="#7b7b7b"/><rect x="265.8" y="506.2" width="151.8" height="3.2" fill="#999999"/><rect x="265.8" y="515.1" width="151.8" height="3.2" fill="#bdbdbd"/><rect x="265.8" y="524" width="151.8" height="3.2" fill="#7e7e7e"/><rect x="265.8" y="532.9" width="151.8" height="3.2" fill="#878787"/><rect x="265.8" y="541.8" width="151.8" height="3.2" fill="#ababab"/><rect x="265.8" y="550.7" width="151.8" height="3.2" fill="#c7c7c7"/><rect x="265.8" y="559.6" width="151.8" height="3.2" fill="#a6a6a6"/><rect x="265.8" y="568.5" width="151.8" height="3.2" fill="#969696"/></g></mask><linearGradient id="mkhvg" gradientUnits="userSpaceOnUse" x1="0" y1="390" x2="0" y2="400"><stop offset="0" stop-color="#000000"/><stop offset="0.5" stop-color="#ffffff"/><stop offset="1" stop-color="#ffffff"/></linearGradient><mask id="mkhv" maskUnits="userSpaceOnUse" x="0" y="0" width="1500" height="647"><rect x="0" y="0" width="1500" height="390.5" fill="#000000"/><rect x="0" y="399.5" width="1500" height="247.5" fill="#ffffff"/><rect x="0" y="390" width="1500" height="10" fill="url(#mkhvg)"/></mask><filter id="dth2" x="0" y="0" width="1" height="1" color-interpolation-filters="sRGB"><feTurbulence type="fractalNoise" baseFrequency="0.5" numOctaves="1" seed="42"/><feColorMatrix type="matrix" values="0 0 0 0 0.36 0 0 0 0 0.36 0 0 0 0 0.36 1 0 0 0 0"/><feComponentTransfer><feFuncA type="table" tableValues="0 0 0 0 0 0 0 0 0 0 0 0 0 0 0 0 0 0 0 0 0 0 0 0 0 0 0 0.33 1 1 1 1 1 1 1 1 1 1 1 1 1"/></feComponentTransfer></filter><filter id="dth3" x="0" y="0" width="1" height="1" color-interpolation-filters="sRGB"><feTurbulence type="fractalNoise" baseFrequency="0.5" numOctaves="1" seed="43"/><feColorMatrix type="matrix" values="0 0 0 0 0.25 0 0 0 0 0.25 0 0 0 0 0.25 1 0 0 0 0"/><feComponentTransfer><feFuncA type="table" tableValues="0 0 0 0 0 0 0 0 0 0 0 0 0 0 0 0 0 0 0 0 0 0 0 0 0 0 0 0 0.83 1 1 1 1 1 1 1 1 1 1 1 1"/></feComponentTransfer></filter><filter id="dth4" x="0" y="0" width="1" height="1" color-interpolation-filters="sRGB"><feTurbulence type="fractalNoise" baseFrequency="0.5" numOctaves="1" seed="44"/><feColorMatrix type="matrix" values="0 0 0 0 0.9 0 0 0 0 0.9 0 0 0 0 0.9 1 0 0 0 0"/><feComponentTransfer><feFuncA type="table" tableValues="0 0 0 0 0 0 0 0 0 0 0 0 0 0 0 0 0 0 0 0 0 0 0 0 0 0 0 0 0 0.33 1 1 1 1 1 1 1 1 1 1 1"/></feComponentTransfer></filter><clipPath id="cpi"><rect x="435.8" y="351.7" width="151.8" height="217.3"/></clipPath><mask id="mki" maskUnits="userSpaceOnUse" x="0" y="0" width="1500" height="647"><rect x="432.8" y="348.7" width="157.8" height="223.3" fill="#2e2e2e"/><g filter="url(#bl1)"><rect x="435.8" y="374.3" width="151.8" height="2.6" fill="#707070"/><rect x="435.8" y="383.05" width="151.8" height="2.6" fill="#696969"/><rect x="435.8" y="391.8" width="151.8" height="2.6" fill="#575757"/><rect x="435.8" y="400.55" width="151.8" height="2.6" fill="#8f8f8f"/><rect x="435.8" y="409.3" width="151.8" height="2.6" fill="#4d4d4d"/><rect x="435.8" y="418.05" width="151.8" height="2.6" fill="#737373"/><rect x="435.8" y="426.8" width="151.8" height="2.6" fill="#919191"/><rect x="435.8" y="435.55" width="151.8" height="2.6" fill="#535353"/><rect x="435.8" y="444.3" width="151.8" height="2.6" fill="#777777"/><rect x="435.8" y="453.05" width="151.8" height="2.6" fill="#7c7c7c"/><rect x="435.8" y="461.8" width="151.8" height="2.6" fill="#505050"/><rect x="435.8" y="470.55" width="151.8" height="2.6" fill="#696969"/><rect x="435.8" y="479.3" width="151.8" height="2.6" fill="#828282"/><rect x="435.8" y="488.05" width="151.8" height="2.6" fill="#6f6f6f"/><rect x="435.8" y="496.8" width="151.8" height="2.6" fill="#848484"/><rect x="435.8" y="505.55" width="151.8" height="2.6" fill="#595959"/><rect x="435.8" y="514.3" width="151.8" height="2.6" fill="#5f5f5f"/><rect x="435.8" y="523.05" width="151.8" height="2.6" fill="#555555"/><rect x="435.8" y="531.8" width="151.8" height="2.6" fill="#737373"/><rect x="435.8" y="540.55" width="151.8" height="2.6" fill="#939393"/><rect x="435.8" y="549.3" width="151.8" height="2.6" fill="#7a7a7a"/><rect x="435.8" y="558.05" width="151.8" height="2.6" fill="#888888"/><rect x="435.8" y="566.8" width="151.8" height="2.6" fill="#6a6a6a"/></g></mask><filter id="dti2" x="0" y="0" width="1" height="1" color-interpolation-filters="sRGB"><feTurbulence type="fractalNoise" baseFrequency="0.5" numOctaves="1" seed="52"/><feColorMatrix type="matrix" values="0 0 0 0 0.32 0 0 0 0 0.32 0 0 0 0 0.32 1 0 0 0 0"/><feComponentTransfer><feFuncA type="table" tableValues="0 0 0 0 0 0 0 0 0 0 0 0 0 0 0 0 0 0 0 0 0 0 0 0 0 0 0 0 0.67 1 1 1 1 1 1 1 1 1 1 1 1"/></feComponentTransfer></filter><filter id="dti3" x="0" y="0" width="1" height="1" color-interpolation-filters="sRGB"><feTurbulence type="fractalNoise" baseFrequency="0.5" numOctaves="1" seed="53"/><feColorMatrix type="matrix" values="0 0 0 0 0.22 0 0 0 0 0.22 0 0 0 0 0.22 1 0 0 0 0"/><feComponentTransfer><feFuncA type="table" tableValues="0 0 0 0 0 0 0 0 0 0 0 0 0 0 0 0 0 0 0 0 0 0 0 0 0 0 0 0 0.5 1 1 1 1 1 1 1 1 1 1 1 1"/></feComponentTransfer></filter></defs>
<rect width="1500" height="647" fill="#fff"/>
<g shape-rendering="crispEdges">
<path fill="#e6cf42" d="M926.78 482.1H932.5V486.28H926.78z"/>
<path fill="#e6990a" d="M892.46 523.9H898.18V528.08H892.46z"/>
<path fill="#e68d05" d="M909.62 507.18H915.34V511.36H909.62zM943.94 482.1H949.66V486.28H943.94z"/>
<path fill="#e67f00" d="M903.9 519.72H909.62V523.9H903.9zM938.22 482.1H943.94V486.28H938.22z"/>
<path fill="#eb7308" d="M875.3 548.98H881.02V553.16H875.3zM921.06 490.46H926.78V494.64H921.06zM926.78 486.28H932.5V490.46H926.78zM932.5 482.1H938.22V486.28H932.5zM978.26 469.56H983.98V473.74H978.26zM989.7 465.38H995.42V469.56H989.7z"/>
<path fill="#ef670f" d="M881.02 532.26H886.74V536.44H881.02zM966.82 473.74H972.54V477.92H966.82zM1006.86 461.2H1012.58V465.38H1006.86zM1018.3 457.02H1022.9V461.2H1018.3z"/>
<path fill="#f55917" d="M898.18 528.08H903.9V532.26H898.18zM886.74 519.72H892.46V523.9H886.74zM949.66 482.1H955.38V486.28H949.66z"/>
<path fill="#fa4d1e" d="M871.1 561.52H875.3V565.7H871.1zM915.34 503H921.06V507.18H915.34z"/>
<path fill="#ea3d38" d="M892.46 528.08H898.18V532.26H892.46z"/>
<path fill="#d73b49" d="M943.94 486.28H949.66V490.46H943.94zM995.42 465.38H1001.14V469.56H995.42zM1012.58 461.2H1018.3V465.38H1012.58z"/>
<path fill="#c1385d" d="M909.62 511.36H915.34V515.54H909.62zM932.5 486.28H943.94V490.46H932.5z"/>
<path fill="#ad366e" d="M871.1 565.7H875.3V567.8H871.1zM875.3 553.16H881.02V557.34H875.3zM903.9 523.9H909.62V528.08H903.9zM921.06 494.64H926.78V498.82H921.06zM955.38 482.1H961.1V486.28H955.38zM961.1 477.92H972.54V482.1H961.1zM978.26 473.74H983.98V477.92H978.26zM989.7 469.56H995.42V473.74H989.7zM1006.86 465.38H1012.58V469.56H1006.86z"/>
<path fill="#983381" d="M881.02 536.44H886.74V540.62H881.02zM926.78 490.46H932.5V494.64H926.78zM949.66 486.28H955.38V490.46H949.66zM972.54 473.74H978.26V477.92H972.54zM1018.3 461.2H1022.9V465.38H1018.3z"/>
<path fill="#89308d" d="M898.18 532.26H903.9V536.44H898.18zM886.74 523.9H892.46V528.08H886.74zM983.98 469.56H989.7V473.74H983.98zM1001.14 465.38H1006.86V469.56H1001.14z"/>
<path fill="#7b2e99" d="M875.3 557.34H881.02V561.52H875.3zM915.34 507.18H921.06V511.36H915.34z"/>
<path fill="#6a2ba7" d="M875.3 561.52H881.02V565.7H875.3zM972.54 477.92H978.26V486.28H972.54zM978.26 477.92H995.42V482.1H978.26zM1001.14 477.92H1006.86V482.1H1001.14zM983.98 473.74H989.7V477.92H983.98zM995.42 469.56H1001.14V477.92H995.42zM1018.3 465.38H1022.9V473.74H1018.3z"/>
<path fill="#5b29b3" d="M875.3 565.7H881.02V567.8H875.3zM892.46 532.26H898.18V536.44H892.46zM961.1 490.46H966.82V494.64H961.1zM972.54 490.46H983.98V494.64H972.54zM989.7 490.46H1001.14V494.64H989.7zM966.82 486.28H978.26V490.46H966.82zM983.98 482.1H995.42V490.46H983.98zM1001.14 482.1H1006.86V490.46H1001.14zM1012.58 473.74H1022.9V490.46H1012.58zM961.1 482.1H972.54V486.28H961.1zM978.26 482.1H983.98V486.28H978.26zM1006.86 469.56H1012.58V486.28H1006.86zM995.42 477.92H1001.14V482.1H995.42zM989.7 473.74H995.42V477.92H989.7zM1001.14 469.56H1006.86V477.92H1001.14zM1012.58 465.38H1018.3V473.74H1012.58z"/>
<path fill="#4c26be" d="M1012.58 565.7H1018.3V567.8H1012.58zM909.62 515.54H915.34V519.72H909.62zM978.26 494.64H995.42V503H978.26zM1001.14 490.46H1012.58V503H1001.14zM949.66 490.46H961.1V498.82H949.66zM966.82 494.64H978.26V498.82H966.82zM995.42 494.64H1001.14V498.82H995.42zM1018.3 490.46H1022.9V498.82H1018.3zM943.94 490.46H949.66V494.64H943.94zM966.82 490.46H972.54V494.64H966.82zM983.98 490.46H989.7V494.64H983.98zM1012.58 490.46H1018.3V494.64H1012.58zM955.38 486.28H966.82V490.46H955.38zM978.26 486.28H983.98V490.46H978.26zM995.42 482.1H1001.14V490.46H995.42zM1006.86 486.28H1012.58V490.46H1006.86z"/>
<path fill="#4426b2" d="M892.46 565.7H1012.58V567.8H892.46zM1018.3 565.7H1022.9V567.8H1018.3zM903.9 528.08H909.62V532.26H903.9zM961.1 494.64H966.82V507.18H961.1zM972.54 503H1006.86V507.18H972.54zM1012.58 494.64H1018.3V507.18H1012.58zM955.38 498.82H961.1V503H955.38zM966.82 498.82H978.26V503H966.82zM995.42 498.82H1001.14V503H995.42zM1018.3 498.82H1022.9V503H1018.3zM943.94 494.64H949.66V498.82H943.94zM938.22 490.46H943.94V494.64H938.22z"/>
<path fill="#3d26a6" d="M881.02 540.62H886.74V544.8H881.02zM886.74 528.08H892.46V532.26H886.74zM972.54 507.18H1022.9V511.36H972.54zM966.82 503H972.54V507.18H966.82zM1006.86 503H1012.58V507.18H1006.86zM1018.3 503H1022.9V507.18H1018.3zM921.06 498.82H926.78V503H921.06zM949.66 498.82H955.38V503H949.66zM926.78 494.64H932.5V498.82H926.78zM932.5 490.46H938.22V494.64H932.5z"/>
<path fill="#352698" d="M949.66 561.52H972.54V565.7H949.66zM955.38 557.34H966.82V561.52H955.38zM978.26 511.36H1022.9V515.54H978.26zM961.1 507.18H972.54V511.36H961.1zM955.38 503H961.1V507.18H955.38zM943.94 498.82H949.66V503H943.94zM938.22 494.64H943.94V498.82H938.22z"/>
<path fill="#2e268c" d="M892.46 561.52H949.66V565.7H892.46zM972.54 561.52H1022.9V565.7H972.54zM943.94 557.34H955.38V561.52H943.94zM966.82 557.34H978.26V561.52H966.82zM898.18 536.44H903.9V540.62H898.18zM1018.3 515.54H1022.9V523.9H1018.3zM978.26 515.54H1018.3V519.72H978.26zM915.34 511.36H921.06V515.54H915.34zM961.1 511.36H978.26V515.54H961.1zM955.38 507.18H961.1V511.36H955.38zM949.66 503H955.38V507.18H949.66z"/>
<path fill="#25257c" d="M938.22 557.34H943.94V561.52H938.22zM978.26 557.34H983.98V561.52H978.26zM949.66 553.16H972.54V557.34H949.66zM881.02 544.8H886.74V548.98H881.02zM886.74 532.26H892.46V536.44H886.74zM995.42 519.72H1018.3V523.9H995.42zM972.54 515.54H978.26V519.72H972.54zM921.06 503H926.78V507.18H921.06zM943.94 503H949.66V507.18H943.94z"/>
<path fill="#1e1e64" d="M926.78 557.34H938.22V561.52H926.78zM983.98 557.34H995.42V561.52H983.98zM932.5 553.16H949.66V557.34H932.5zM972.54 553.16H983.98V557.34H972.54zM955.38 548.98H961.1V553.16H955.38zM1006.86 523.9H1022.9V528.08H1006.86zM983.98 519.72H995.42V523.9H983.98zM966.82 515.54H972.54V519.72H966.82zM955.38 511.36H961.1V515.54H955.38zM949.66 507.18H955.38V511.36H949.66zM926.78 498.82H932.5V503H926.78zM938.22 498.82H943.94V503H938.22zM932.5 494.64H938.22V498.82H932.5z"/>
<path fill="#17174c" d="M995.42 557.34H1006.86V561.52H995.42zM926.78 544.8H932.5V557.34H926.78zM983.98 553.16H995.42V557.34H983.98zM932.5 544.8H955.38V553.16H932.5zM961.1 548.98H983.98V553.16H961.1zM955.38 544.8H966.82V548.98H955.38zM932.5 540.62H949.66V544.8H932.5zM892.46 536.44H898.18V540.62H892.46zM932.5 536.44H943.94V540.62H932.5zM1018.3 528.08H1022.9V532.26H1018.3zM995.42 523.9H1006.86V528.08H995.42zM909.62 519.72H915.34V523.9H909.62zM978.26 519.72H983.98V523.9H978.26zM961.1 515.54H966.82V519.72H961.1z"/>
<path fill="#0e0e30" d="M1006.86 557.34H1012.58V561.52H1006.86zM995.42 553.16H1001.14V557.34H995.42zM881.02 548.98H886.74V553.16H881.02zM983.98 548.98H989.7V553.16H983.98zM966.82 544.8H978.26V548.98H966.82zM926.78 540.62H932.5V544.8H926.78zM949.66 540.62H966.82V544.8H949.66zM943.94 536.44H955.38V540.62H943.94zM932.5 532.26H943.94V536.44H932.5zM1006.86 528.08H1018.3V532.26H1006.86zM983.98 523.9H995.42V528.08H983.98zM966.82 519.72H978.26V523.9H966.82z"/>
<path fill="#070718" d="M881.02 553.16H886.74V557.34H881.02zM886.74 536.44H892.46V540.62H886.74zM903.9 532.26H909.62V536.44H903.9zM1006.86 532.26H1022.9V536.44H1006.86zM983.98 528.08H1006.86V532.26H983.98zM909.62 523.9H915.34V528.08H909.62zM972.54 523.9H983.98V528.08H972.54zM961.1 519.72H966.82V523.9H961.1zM915.34 515.54H921.06V519.72H915.34zM955.38 515.54H961.1V519.72H955.38zM949.66 511.36H955.38V515.54H949.66zM921.06 507.18H926.78V511.36H921.06zM943.94 507.18H949.66V511.36H943.94zM926.78 503H932.5V507.18H926.78zM938.22 503H943.94V507.18H938.22zM932.5 498.82H938.22V503H932.5z"/>
<path fill="#000000" d="M881.02 557.34H892.46V567.8H881.02zM892.46 540.62H926.78V561.52H892.46zM1012.58 536.44H1022.9V561.52H1012.58zM886.74 540.62H892.46V557.34H886.74zM1001.14 536.44H1012.58V557.34H1001.14zM989.7 532.26H1001.14V553.16H989.7zM978.26 532.26H989.7V548.98H978.26zM966.82 528.08H978.26V544.8H966.82zM903.9 536.44H932.5V540.62H903.9zM955.38 523.9H966.82V540.62H955.38zM909.62 528.08H932.5V536.44H909.62zM943.94 515.54H955.38V536.44H943.94zM1001.14 532.26H1006.86V536.44H1001.14zM932.5 507.18H943.94V532.26H932.5zM978.26 528.08H983.98V532.26H978.26zM915.34 519.72H932.5V528.08H915.34zM966.82 523.9H972.54V528.08H966.82zM955.38 519.72H961.1V523.9H955.38zM921.06 511.36H932.5V519.72H921.06zM943.94 511.36H949.66V515.54H943.94zM926.78 507.18H932.5V511.36H926.78zM932.5 503H938.22V507.18H932.5z"/>
</g>
<g shape-rendering="crispEdges">
<path fill="#e6bf19" d="M1125.38 415.22H1131.1V419.4H1125.38zM1142.54 398.5H1148.26V402.68H1142.54zM1171.14 385.96H1176.86V390.14H1171.14zM1188.3 377.6H1192.9V381.78H1188.3z"/>
<path fill="#e6b315" d="M1119.66 419.4H1125.38V423.58H1119.66zM1131.1 406.86H1136.82V411.04H1131.1zM1136.82 402.68H1142.54V406.86H1136.82zM1159.7 390.14H1165.42V394.32H1159.7z"/>
<path fill="#e6a710" d="M1108.22 436.12H1113.94V440.3H1108.22zM1148.26 394.32H1153.98V398.5H1148.26zM1165.42 390.14H1171.14V394.32H1165.42zM1176.86 381.78H1188.3V385.96H1176.86z"/>
<path fill="#e6990a" d="M1068.18 532.26H1073.9V536.44H1068.18zM1113.94 427.76H1119.66V431.94H1113.94zM1142.54 402.68H1148.26V406.86H1142.54zM1188.3 381.78H1192.9V385.96H1188.3z"/>
<path fill="#e68d05" d="M1073.9 523.9H1079.62V528.08H1073.9zM1091.06 482.1H1096.78V486.28H1091.06zM1119.66 423.58H1125.38V427.76H1119.66zM1131.1 411.04H1136.82V415.22H1131.1zM1136.82 406.86H1142.54V411.04H1136.82zM1148.26 398.5H1153.98V402.68H1148.26zM1153.98 394.32H1165.42V398.5H1153.98zM1171.14 390.14H1176.86V394.32H1171.14zM1176.86 385.96H1192.9V390.14H1176.86z"/>
<path fill="#e67f00" d="M1108.22 440.3H1113.94V444.48H1108.22zM1125.38 419.4H1131.1V423.58H1125.38zM1148.26 402.68H1153.98V406.86H1148.26zM1153.98 398.5H1159.7V402.68H1153.98zM1165.42 394.32H1171.14V398.5H1165.42zM1176.86 390.14H1188.3V394.32H1176.86z"/>
<path fill="#eb7308" d="M1041.1 553.16H1045.3V557.34H1041.1zM1113.94 431.94H1119.66V436.12H1113.94zM1136.82 411.04H1142.54V415.22H1136.82zM1142.54 406.86H1148.26V411.04H1142.54zM1159.7 398.5H1165.42V402.68H1159.7zM1171.14 394.32H1182.58V398.5H1171.14zM1188.3 390.14H1192.9V394.32H1188.3z"/>
<path fill="#ef670f" d="M1045.3 544.8H1051.02V548.98H1045.3zM1068.18 536.44H1073.9V540.62H1068.18zM1119.66 427.76H1125.38V431.94H1119.66zM1131.1 415.22H1136.82V419.4H1131.1zM1153.98 402.68H1159.7V406.86H1153.98zM1165.42 398.5H1176.86V402.68H1165.42zM1182.58 394.32H1188.3V398.5H1182.58z"/>
<path fill="#f55917" d="M1056.74 540.62H1062.46V544.8H1056.74zM1102.5 452.84H1108.22V457.02H1102.5zM1108.22 444.48H1113.94V448.66H1108.22zM1125.38 423.58H1131.1V427.76H1125.38zM1142.54 411.04H1148.26V415.22H1142.54zM1148.26 406.86H1153.98V411.04H1148.26zM1176.86 398.5H1188.3V402.68H1176.86zM1188.3 394.32H1192.9V398.5H1188.3z"/>
<path fill="#fa4d1e" d="M1062.46 536.44H1068.18V540.62H1062.46zM1073.9 528.08H1079.62V532.26H1073.9zM1079.62 511.36H1085.34V515.54H1079.62zM1113.94 436.12H1119.66V440.3H1113.94zM1131.1 419.4H1136.82V423.58H1131.1zM1136.82 415.22H1142.54V419.4H1136.82zM1153.98 406.86H1159.7V411.04H1153.98zM1159.7 402.68H1176.86V406.86H1159.7z"/>
<path fill="#fd4028" d="M1091.06 486.28H1096.78V490.46H1091.06zM1096.78 465.38H1102.5V469.56H1096.78zM1102.5 457.02H1108.22V461.2H1102.5zM1119.66 431.94H1125.38V436.12H1119.66zM1142.54 415.22H1148.26V419.4H1142.54zM1148.26 411.04H1153.98V415.22H1148.26zM1159.7 406.86H1165.42V411.04H1159.7zM1176.86 402.68H1182.58V406.86H1176.86zM1188.3 398.5H1192.9V402.68H1188.3z"/>
<path fill="#ea3d38" d="M1041.1 557.34H1045.3V561.52H1041.1zM1085.34 498.82H1091.06V503H1085.34zM1108.22 448.66H1113.94V452.84H1108.22zM1113.94 440.3H1119.66V444.48H1113.94zM1125.38 427.76H1131.1V431.94H1125.38zM1136.82 419.4H1142.54V423.58H1136.82zM1153.98 411.04H1159.7V415.22H1153.98zM1165.42 406.86H1176.86V411.04H1165.42zM1182.58 402.68H1192.9V406.86H1182.58z"/>
<path fill="#d73b49" d="M1068.18 540.62H1073.9V544.8H1068.18zM1096.78 469.56H1102.5V473.74H1096.78zM1119.66 436.12H1125.38V440.3H1119.66zM1125.38 431.94H1131.1V436.12H1125.38zM1131.1 423.58H1136.82V427.76H1131.1zM1142.54 419.4H1148.26V423.58H1142.54zM1148.26 415.22H1153.98V419.4H1148.26zM1159.7 411.04H1171.14V415.22H1159.7zM1176.86 406.86H1188.3V411.04H1176.86z"/>
<path fill="#c1385d" d="M1045.3 548.98H1051.02V553.16H1045.3zM1056.74 544.8H1062.46V548.98H1056.74zM1062.46 540.62H1068.18V544.8H1062.46zM1073.9 532.26H1079.62V536.44H1073.9zM1079.62 515.54H1085.34V519.72H1079.62zM1102.5 461.2H1108.22V469.56H1102.5zM1108.22 452.84H1113.94V457.02H1108.22zM1113.94 444.48H1125.38V448.66H1113.94zM1119.66 440.3H1131.1V444.48H1119.66zM1125.38 436.12H1136.82V440.3H1125.38zM1131.1 427.76H1136.82V431.94H1131.1zM1142.54 423.58H1148.26V431.94H1142.54zM1136.82 423.58H1142.54V427.76H1136.82zM1148.26 423.58H1165.42V427.76H1148.26zM1148.26 419.4H1159.7V423.58H1148.26zM1171.14 419.4H1176.86V423.58H1171.14zM1153.98 415.22H1171.14V419.4H1153.98zM1176.86 411.04H1182.58V419.4H1176.86zM1188.3 415.22H1192.9V419.4H1188.3zM1171.14 411.04H1176.86V415.22H1171.14zM1182.58 411.04H1188.3V415.22H1182.58zM1188.3 406.86H1192.9V411.04H1188.3z"/>
<path fill="#ad366e" d="M1091.06 490.46H1096.78V494.64H1091.06zM1096.78 473.74H1102.5V477.92H1096.78zM1108.22 457.02H1125.38V461.2H1108.22zM1113.94 448.66H1131.1V457.02H1113.94zM1142.54 452.84H1148.26V457.02H1142.54zM1136.82 427.76H1142.54V452.84H1136.82zM1125.38 444.48H1136.82V448.66H1125.38zM1142.54 444.48H1153.98V448.66H1142.54zM1131.1 440.3H1136.82V444.48H1131.1zM1142.54 431.94H1148.26V444.48H1142.54zM1176.86 436.12H1182.58V444.48H1176.86zM1148.26 427.76H1153.98V440.3H1148.26zM1159.7 427.76H1171.14V440.3H1159.7zM1131.1 431.94H1136.82V436.12H1131.1zM1153.98 427.76H1159.7V436.12H1153.98zM1171.14 423.58H1176.86V436.12H1171.14zM1182.58 431.94H1192.9V436.12H1182.58zM1176.86 419.4H1182.58V431.94H1176.86zM1188.3 419.4H1192.9V431.94H1188.3zM1165.42 419.4H1171.14V427.76H1165.42zM1182.58 415.22H1188.3V427.76H1182.58zM1159.7 419.4H1165.42V423.58H1159.7zM1171.14 415.22H1176.86V419.4H1171.14zM1188.3 411.04H1192.9V415.22H1188.3z"/>
<path fill="#983381" d="M1051.02 544.8H1056.74V548.98H1051.02zM1085.34 503H1091.06V507.18H1085.34zM1096.78 477.92H1102.5V482.1H1096.78zM1102.5 469.56H1108.22V477.92H1102.5zM1108.22 461.2H1113.94V473.74H1108.22zM1119.66 461.2H1136.82V473.74H1119.66zM1136.82 465.38H1148.26V469.56H1136.82zM1113.94 461.2H1119.66V465.38H1113.94zM1136.82 452.84H1142.54V465.38H1136.82zM1125.38 457.02H1136.82V461.2H1125.38zM1142.54 457.02H1159.7V461.2H1142.54zM1131.1 448.66H1136.82V457.02H1131.1zM1148.26 448.66H1165.42V457.02H1148.26zM1176.86 452.84H1192.9V457.02H1176.86zM1142.54 448.66H1148.26V452.84H1142.54zM1165.42 440.3H1171.14V452.84H1165.42zM1176.86 444.48H1188.3V452.84H1176.86zM1153.98 440.3H1165.42V448.66H1153.98zM1171.14 436.12H1176.86V448.66H1171.14zM1188.3 436.12H1192.9V448.66H1188.3zM1148.26 440.3H1153.98V444.48H1148.26zM1182.58 436.12H1188.3V444.48H1182.58zM1153.98 436.12H1159.7V440.3H1153.98zM1176.86 431.94H1182.58V436.12H1176.86zM1182.58 427.76H1188.3V431.94H1182.58z"/>
<path fill="#89308d" d="M1041.1 561.52H1045.3V565.7H1041.1zM1068.18 544.8H1073.9V548.98H1068.18zM1079.62 519.72H1085.34V523.9H1079.62zM1085.34 507.18H1091.06V511.36H1085.34zM1091.06 494.64H1096.78V498.82H1091.06zM1102.5 477.92H1108.22V482.1H1102.5zM1131.1 473.74H1136.82V482.1H1131.1zM1108.22 473.74H1119.66V477.92H1108.22zM1125.38 473.74H1131.1V477.92H1125.38zM1136.82 469.56H1142.54V477.92H1136.82zM1113.94 465.38H1119.66V473.74H1113.94zM1148.26 461.2H1153.98V469.56H1148.26zM1142.54 461.2H1148.26V465.38H1142.54zM1153.98 461.2H1165.42V465.38H1153.98zM1159.7 457.02H1182.58V461.2H1159.7zM1165.42 452.84H1176.86V457.02H1165.42zM1171.14 448.66H1176.86V452.84H1171.14zM1188.3 448.66H1192.9V452.84H1188.3z"/>
<path fill="#7b2e99" d="M1056.74 548.98H1062.46V553.16H1056.74zM1062.46 544.8H1068.18V548.98H1062.46zM1073.9 536.44H1079.62V540.62H1073.9zM1096.78 482.1H1102.5V490.46H1096.78zM1102.5 482.1H1108.22V486.28H1102.5zM1131.1 482.1H1136.82V486.28H1131.1zM1108.22 477.92H1113.94V482.1H1108.22zM1119.66 477.92H1131.1V482.1H1119.66zM1136.82 477.92H1142.54V482.1H1136.82zM1119.66 473.74H1125.38V477.92H1119.66zM1142.54 469.56H1153.98V473.74H1142.54zM1153.98 465.38H1171.14V469.56H1153.98zM1165.42 461.2H1192.9V465.38H1165.42zM1182.58 457.02H1192.9V461.2H1182.58z"/>
<path fill="#6a2ba7" d="M1079.62 523.9H1085.34V528.08H1079.62zM1085.34 511.36H1091.06V515.54H1085.34zM1091.06 498.82H1096.78V503H1091.06zM1096.78 490.46H1102.5V494.64H1096.78zM1102.5 486.28H1113.94V490.46H1102.5zM1131.1 486.28H1136.82V490.46H1131.1zM1108.22 482.1H1131.1V486.28H1108.22zM1113.94 477.92H1119.66V482.1H1113.94zM1142.54 473.74H1148.26V482.1H1142.54zM1148.26 473.74H1153.98V477.92H1148.26zM1153.98 469.56H1176.86V473.74H1153.98zM1171.14 465.38H1192.9V469.56H1171.14z"/>
<path fill="#5b29b3" d="M1041.1 565.7H1045.3V567.8H1041.1zM1091.06 503H1096.78V507.18H1091.06zM1096.78 494.64H1102.5V498.82H1096.78zM1102.5 490.46H1113.94V494.64H1102.5zM1119.66 486.28H1125.38V494.64H1119.66zM1113.94 486.28H1119.66V490.46H1113.94zM1125.38 486.28H1131.1V490.46H1125.38zM1136.82 482.1H1142.54V490.46H1136.82zM1142.54 482.1H1148.26V486.28H1142.54zM1148.26 477.92H1153.98V482.1H1148.26zM1153.98 473.74H1171.14V477.92H1153.98zM1176.86 469.56H1192.9V473.74H1176.86z"/>
<path fill="#4c26be" d="M1045.3 553.16H1051.02V557.34H1045.3zM1051.02 548.98H1056.74V553.16H1051.02zM1085.34 515.54H1091.06V519.72H1085.34zM1102.5 494.64H1119.66V498.82H1102.5zM1131.1 490.46H1136.82V498.82H1131.1zM1113.94 490.46H1119.66V494.64H1113.94zM1125.38 490.46H1131.1V494.64H1125.38zM1136.82 490.46H1148.26V494.64H1136.82zM1142.54 486.28H1153.98V490.46H1142.54zM1148.26 482.1H1165.42V486.28H1148.26zM1176.86 473.74H1182.58V486.28H1176.86zM1153.98 477.92H1176.86V482.1H1153.98zM1188.3 473.74H1192.9V482.1H1188.3zM1171.14 473.74H1176.86V477.92H1171.14zM1182.58 473.74H1188.3V477.92H1182.58z"/>
<path fill="#4426b2" d="M1068.18 548.98H1073.9V553.16H1068.18zM1079.62 528.08H1085.34V532.26H1079.62zM1085.34 519.72H1091.06V523.9H1085.34zM1091.06 507.18H1096.78V515.54H1091.06zM1096.78 498.82H1113.94V503H1096.78zM1119.66 498.82H1142.54V503H1119.66zM1119.66 494.64H1131.1V498.82H1119.66zM1136.82 494.64H1148.26V498.82H1136.82zM1153.98 486.28H1159.7V494.64H1153.98zM1159.7 486.28H1171.14V490.46H1159.7zM1176.86 486.28H1188.3V490.46H1176.86zM1165.42 482.1H1176.86V486.28H1165.42zM1182.58 482.1H1192.9V486.28H1182.58zM1182.58 477.92H1188.3V482.1H1182.58z"/>
<path fill="#3d26a6" d="M1056.74 553.16H1062.46V557.34H1056.74zM1062.46 548.98H1068.18V553.16H1062.46zM1073.9 540.62H1079.62V544.8H1073.9zM1091.06 515.54H1096.78V519.72H1091.06zM1096.78 503H1108.22V511.36H1096.78zM1108.22 503H1142.54V507.18H1108.22zM1113.94 498.82H1119.66V503H1113.94zM1142.54 498.82H1153.98V503H1142.54zM1148.26 494.64H1182.58V498.82H1148.26zM1148.26 490.46H1153.98V494.64H1148.26zM1159.7 490.46H1192.9V494.64H1159.7zM1171.14 486.28H1176.86V490.46H1171.14zM1188.3 486.28H1192.9V490.46H1188.3z"/>
<path fill="#352698" d="M1085.34 523.9H1091.06V528.08H1085.34zM1091.06 519.72H1096.78V523.9H1091.06zM1096.78 511.36H1113.94V515.54H1096.78zM1119.66 507.18H1136.82V515.54H1119.66zM1108.22 507.18H1119.66V511.36H1108.22zM1136.82 507.18H1148.26V511.36H1136.82zM1142.54 503H1182.58V507.18H1142.54zM1153.98 498.82H1192.9V503H1153.98zM1182.58 494.64H1192.9V498.82H1182.58z"/>
<path fill="#2e268c" d="M1051.02 553.16H1056.74V557.34H1051.02zM1079.62 532.26H1085.34V536.44H1079.62zM1085.34 528.08H1091.06V532.26H1085.34zM1091.06 523.9H1096.78V528.08H1091.06zM1096.78 515.54H1102.5V523.9H1096.78zM1102.5 515.54H1142.54V519.72H1102.5zM1113.94 511.36H1119.66V515.54H1113.94zM1136.82 511.36H1176.86V515.54H1136.82zM1148.26 507.18H1192.9V511.36H1148.26zM1182.58 503H1192.9V507.18H1182.58z"/>
<path fill="#25257c" d="M1045.3 557.34H1051.02V561.52H1045.3zM1068.18 553.16H1073.9V557.34H1068.18zM1102.5 519.72H1142.54V523.9H1102.5zM1142.54 515.54H1192.9V519.72H1142.54zM1176.86 511.36H1192.9V515.54H1176.86z"/>
<path fill="#1e1e64" d="M1119.66 565.7H1159.7V567.8H1119.66zM1056.74 557.34H1062.46V561.52H1056.74zM1062.46 553.16H1068.18V557.34H1062.46zM1073.9 544.8H1079.62V548.98H1073.9zM1091.06 528.08H1096.78V532.26H1091.06zM1096.78 523.9H1113.94V528.08H1096.78zM1125.38 523.9H1142.54V528.08H1125.38zM1142.54 519.72H1192.9V523.9H1142.54z"/>
<path fill="#17174c" d="M1096.78 565.7H1119.66V567.8H1096.78zM1159.7 565.7H1182.58V567.8H1159.7zM1079.62 536.44H1085.34V540.62H1079.62zM1085.34 532.26H1091.06V536.44H1085.34zM1096.78 528.08H1108.22V532.26H1096.78zM1113.94 523.9H1125.38V528.08H1113.94zM1142.54 523.9H1192.9V528.08H1142.54z"/>
<path fill="#0e0e30" d="M1085.34 565.7H1096.78V567.8H1085.34zM1182.58 565.7H1192.9V567.8H1182.58zM1091.06 532.26H1102.5V536.44H1091.06zM1108.22 528.08H1192.9V532.26H1108.22z"/>
<path fill="#070718" d="M1045.3 561.52H1051.02V565.7H1045.3zM1051.02 557.34H1056.74V561.52H1051.02zM1079.62 540.62H1085.34V544.8H1079.62zM1085.34 536.44H1096.78V540.62H1085.34zM1102.5 532.26H1192.9V536.44H1102.5z"/>
<path fill="#000000" d="M1045.3 565.7H1085.34V567.8H1045.3zM1051.02 561.52H1192.9V565.7H1051.02zM1062.46 557.34H1192.9V561.52H1062.46zM1073.9 548.98H1192.9V557.34H1073.9zM1079.62 544.8H1192.9V548.98H1079.62zM1085.34 540.62H1192.9V544.8H1085.34zM1096.78 536.44H1192.9V540.62H1096.78z"/>
</g>
<g shape-rendering="crispEdges">
<path fill="#e6cf42" d="M1249.62 511.36H1255.34V515.54H1249.62zM1289.66 411.04H1295.38V415.22H1289.66z"/>
<path fill="#e6c72f" d="M1255.34 494.64H1261.06V498.82H1255.34zM1283.94 419.4H1289.66V423.58H1283.94zM1301.1 398.5H1306.82V402.68H1301.1zM1352.58 360.88H1362.9V365.06H1352.58z"/>
<path fill="#e6bf19" d="M1261.06 477.92H1266.78V482.1H1261.06z"/>
<path fill="#e6b315" d="M1266.78 461.2H1272.5V465.38H1266.78z"/>
<path fill="#e6a710" d="M1226.74 544.8H1232.46V548.98H1226.74zM1289.66 415.22H1295.38V419.4H1289.66zM1295.38 406.86H1301.1V411.04H1295.38zM1346.86 365.06H1352.58V369.24H1346.86z"/>
<path fill="#e6990a" d="M1249.62 515.54H1255.34V519.72H1249.62zM1255.34 498.82H1261.06V503H1255.34zM1283.94 423.58H1289.66V427.76H1283.94zM1301.1 402.68H1306.82V406.86H1301.1zM1358.3 365.06H1362.9V369.24H1358.3z"/>
<path fill="#e68d05" d="M1238.18 532.26H1243.9V536.44H1238.18zM1261.06 482.1H1266.78V486.28H1261.06zM1335.42 373.42H1341.14V377.6H1335.42zM1352.58 365.06H1358.3V369.24H1352.58z"/>
<path fill="#e67f00" d="M1266.78 465.38H1272.5V469.56H1266.78zM1306.82 394.32H1312.54V398.5H1306.82zM1329.7 377.6H1335.42V381.78H1329.7z"/>
<path fill="#eb7308" d="M1215.3 557.34H1221.02V561.52H1215.3zM1272.5 448.66H1278.22V452.84H1272.5zM1278.22 436.12H1283.94V440.3H1278.22zM1289.66 419.4H1295.38V423.58H1289.66zM1312.54 390.14H1318.26V394.32H1312.54zM1323.98 381.78H1329.7V385.96H1323.98zM1341.14 369.24H1346.86V373.42H1341.14z"/>
<path fill="#ef670f" d="M1221.02 548.98H1232.46V553.16H1221.02zM1243.9 523.9H1249.62V528.08H1243.9zM1249.62 519.72H1255.34V523.9H1249.62zM1295.38 411.04H1301.1V415.22H1295.38zM1301.1 406.86H1306.82V411.04H1301.1zM1318.26 385.96H1323.98V394.32H1318.26zM1341.14 373.42H1346.86V377.6H1341.14zM1346.86 369.24H1358.3V373.42H1346.86z"/>
<path fill="#f55917" d="M1255.34 503H1261.06V507.18H1255.34zM1261.06 486.28H1266.78V490.46H1261.06zM1283.94 427.76H1289.66V431.94H1283.94zM1306.82 398.5H1318.26V402.68H1306.82zM1312.54 394.32H1318.26V398.5H1312.54zM1323.98 385.96H1335.42V390.14H1323.98zM1329.7 381.78H1341.14V385.96H1329.7zM1335.42 377.6H1346.86V381.78H1335.42zM1346.86 373.42H1362.9V377.6H1346.86zM1358.3 369.24H1362.9V373.42H1358.3z"/>
<path fill="#fa4d1e" d="M1238.18 536.44H1243.9V540.62H1238.18zM1266.78 469.56H1272.5V473.74H1266.78zM1306.82 402.68H1312.54V406.86H1306.82zM1318.26 394.32H1323.98V398.5H1318.26zM1323.98 390.14H1335.42V394.32H1323.98zM1335.42 385.96H1341.14V390.14H1335.42zM1341.14 381.78H1352.58V385.96H1341.14zM1346.86 377.6H1358.3V381.78H1346.86z"/>
<path fill="#fd4028" d="M1215.3 561.52H1221.02V565.7H1215.3zM1272.5 452.84H1278.22V457.02H1272.5zM1295.38 415.22H1301.1V419.4H1295.38zM1301.1 411.04H1306.82V415.22H1301.1zM1306.82 406.86H1312.54V411.04H1306.82zM1312.54 402.68H1318.26V406.86H1312.54zM1318.26 398.5H1323.98V402.68H1318.26zM1323.98 394.32H1341.14V398.5H1323.98zM1335.42 390.14H1341.14V394.32H1335.42zM1346.86 385.96H1352.58V394.32H1346.86zM1341.14 385.96H1346.86V390.14H1341.14zM1352.58 381.78H1358.3V390.14H1352.58zM1358.3 377.6H1362.9V385.96H1358.3z"/>
<path fill="#ea3d38" d="M1226.74 553.16H1232.46V557.34H1226.74zM1243.9 528.08H1249.62V532.26H1243.9zM1249.62 523.9H1255.34V528.08H1249.62zM1278.22 440.3H1283.94V444.48H1278.22zM1289.66 423.58H1295.38V427.76H1289.66zM1301.1 415.22H1306.82V419.4H1301.1zM1318.26 402.68H1323.98V406.86H1318.26zM1323.98 398.5H1341.14V402.68H1323.98zM1341.14 394.32H1352.58V398.5H1341.14zM1341.14 390.14H1346.86V394.32H1341.14zM1358.3 385.96H1362.9V394.32H1358.3z"/>
<path fill="#d73b49" d="M1221.02 553.16H1226.74V557.34H1221.02zM1255.34 507.18H1261.06V511.36H1255.34zM1283.94 431.94H1289.66V436.12H1283.94zM1295.38 419.4H1301.1V423.58H1295.38zM1306.82 411.04H1312.54V419.4H1306.82zM1312.54 406.86H1323.98V415.22H1312.54zM1323.98 402.68H1335.42V406.86H1323.98zM1341.14 398.5H1352.58V402.68H1341.14zM1358.3 394.32H1362.9V402.68H1358.3zM1352.58 390.14H1358.3V398.5H1352.58z"/>
<path fill="#c1385d" d="M1215.3 565.7H1221.02V567.8H1215.3zM1232.46 540.62H1243.9V544.8H1232.46zM1261.06 490.46H1266.78V494.64H1261.06zM1283.94 436.12H1289.66V440.3H1283.94zM1289.66 427.76H1295.38V436.12H1289.66zM1295.38 423.58H1301.1V431.94H1295.38zM1301.1 419.4H1306.82V427.76H1301.1zM1312.54 415.22H1335.42V419.4H1312.54zM1323.98 406.86H1335.42V415.22H1323.98zM1335.42 402.68H1346.86V411.04H1335.42zM1352.58 406.86H1358.3V411.04H1352.58zM1346.86 402.68H1352.58V406.86H1346.86zM1358.3 402.68H1362.9V406.86H1358.3zM1352.58 398.5H1358.3V402.68H1352.58z"/>
<path fill="#ad366e" d="M1266.78 473.74H1272.5V477.92H1266.78zM1272.5 457.02H1278.22V461.2H1272.5zM1278.22 444.48H1283.94V448.66H1278.22zM1283.94 440.3H1295.38V444.48H1283.94zM1289.66 436.12H1295.38V440.3H1289.66zM1301.1 427.76H1306.82V436.12H1301.1zM1306.82 419.4H1318.26V431.94H1306.82zM1318.26 419.4H1323.98V427.76H1318.26zM1323.98 419.4H1341.14V423.58H1323.98zM1335.42 415.22H1362.9V419.4H1335.42zM1335.42 411.04H1358.3V415.22H1335.42zM1346.86 406.86H1352.58V411.04H1346.86zM1358.3 406.86H1362.9V411.04H1358.3zM1352.58 402.68H1358.3V406.86H1352.58z"/>
<path fill="#983381" d="M1226.74 557.34H1232.46V561.52H1226.74zM1249.62 528.08H1255.34V532.26H1249.62zM1272.5 461.2H1278.22V465.38H1272.5zM1278.22 448.66H1283.94V452.84H1278.22zM1283.94 444.48H1295.38V448.66H1283.94zM1295.38 436.12H1306.82V444.48H1295.38zM1318.26 427.76H1329.7V440.3H1318.26zM1295.38 431.94H1301.1V436.12H1295.38zM1306.82 431.94H1318.26V436.12H1306.82zM1329.7 423.58H1335.42V436.12H1329.7zM1341.14 431.94H1346.86V436.12H1341.14zM1335.42 423.58H1341.14V431.94H1335.42zM1323.98 423.58H1329.7V427.76H1323.98zM1341.14 419.4H1346.86V427.76H1341.14zM1352.58 419.4H1362.9V427.76H1352.58zM1346.86 419.4H1352.58V423.58H1346.86zM1358.3 411.04H1362.9V415.22H1358.3z"/>
<path fill="#89308d" d="M1221.02 557.34H1226.74V561.52H1221.02zM1243.9 532.26H1249.62V536.44H1243.9zM1255.34 511.36H1261.06V515.54H1255.34zM1278.22 452.84H1283.94V457.02H1278.22zM1283.94 448.66H1289.66V452.84H1283.94zM1295.38 444.48H1301.1V448.66H1295.38zM1306.82 436.12H1318.26V444.48H1306.82zM1329.7 436.12H1346.86V440.3H1329.7zM1335.42 431.94H1341.14V436.12H1335.42zM1346.86 423.58H1352.58V436.12H1346.86zM1341.14 427.76H1346.86V431.94H1341.14zM1352.58 427.76H1362.9V431.94H1352.58z"/>
<path fill="#7b2e99" d="M1232.46 544.8H1238.18V548.98H1232.46zM1272.5 465.38H1278.22V469.56H1272.5zM1278.22 457.02H1283.94V461.2H1278.22zM1283.94 452.84H1289.66V457.02H1283.94zM1289.66 448.66H1301.1V452.84H1289.66zM1301.1 444.48H1312.54V448.66H1301.1zM1318.26 440.3H1323.98V448.66H1318.26zM1323.98 440.3H1335.42V444.48H1323.98zM1341.14 440.3H1346.86V444.48H1341.14zM1346.86 436.12H1352.58V440.3H1346.86zM1358.3 431.94H1362.9V440.3H1358.3zM1352.58 431.94H1358.3V436.12H1352.58z"/>
<path fill="#6a2ba7" d="M1238.18 544.8H1243.9V548.98H1238.18zM1261.06 494.64H1266.78V498.82H1261.06zM1289.66 452.84H1295.38V457.02H1289.66zM1301.1 448.66H1318.26V452.84H1301.1zM1312.54 444.48H1318.26V448.66H1312.54zM1323.98 444.48H1346.86V448.66H1323.98zM1352.58 436.12H1358.3V448.66H1352.58zM1335.42 440.3H1341.14V444.48H1335.42zM1346.86 440.3H1352.58V444.48H1346.86zM1358.3 440.3H1362.9V444.48H1358.3z"/>
<path fill="#5b29b3" d="M1266.78 477.92H1272.5V482.1H1266.78zM1272.5 469.56H1278.22V473.74H1272.5zM1278.22 461.2H1283.94V465.38H1278.22zM1283.94 457.02H1295.38V461.2H1283.94zM1295.38 452.84H1312.54V457.02H1295.38zM1318.26 448.66H1335.42V452.84H1318.26zM1341.14 448.66H1346.86V452.84H1341.14zM1352.58 448.66H1358.3V452.84H1352.58zM1346.86 444.48H1352.58V448.66H1346.86zM1358.3 444.48H1362.9V448.66H1358.3z"/>
<path fill="#4c26be" d="M1221.02 561.52H1232.46V565.7H1221.02zM1243.9 536.44H1249.62V540.62H1243.9zM1249.62 532.26H1255.34V536.44H1249.62zM1266.78 482.1H1272.5V486.28H1266.78zM1272.5 473.74H1278.22V477.92H1272.5zM1278.22 465.38H1283.94V473.74H1278.22zM1283.94 461.2H1295.38V469.56H1283.94zM1295.38 457.02H1301.1V465.38H1295.38zM1301.1 457.02H1306.82V461.2H1301.1zM1346.86 448.66H1352.58V461.2H1346.86zM1312.54 452.84H1346.86V457.02H1312.54zM1352.58 452.84H1362.9V457.02H1352.58zM1335.42 448.66H1341.14V452.84H1335.42zM1358.3 448.66H1362.9V452.84H1358.3z"/>
<path fill="#4426b2" d="M1211.1 561.52H1215.3V565.7H1211.1zM1255.34 515.54H1261.06V519.72H1255.34zM1261.06 498.82H1266.78V503H1261.06zM1266.78 486.28H1272.5V490.46H1266.78zM1272.5 477.92H1278.22V482.1H1272.5zM1358.3 477.92H1362.9V482.1H1358.3zM1278.22 473.74H1289.66V477.92H1278.22zM1301.1 461.2H1306.82V477.92H1301.1zM1329.7 457.02H1335.42V477.92H1329.7zM1352.58 473.74H1358.3V477.92H1352.58zM1283.94 469.56H1301.1V473.74H1283.94zM1318.26 457.02H1323.98V473.74H1318.26zM1358.3 457.02H1362.9V473.74H1358.3zM1295.38 465.38H1301.1V469.56H1295.38zM1306.82 457.02H1318.26V469.56H1306.82zM1323.98 457.02H1329.7V469.56H1323.98zM1335.42 461.2H1352.58V469.56H1335.42zM1352.58 457.02H1358.3V465.38H1352.58zM1335.42 457.02H1346.86V461.2H1335.42z"/>
<path fill="#3d26a6" d="M1232.46 548.98H1243.9V553.16H1232.46zM1255.34 519.72H1261.06V523.9H1255.34zM1261.06 503H1266.78V507.18H1261.06zM1266.78 490.46H1272.5V494.64H1266.78zM1272.5 482.1H1278.22V490.46H1272.5zM1352.58 482.1H1362.9V490.46H1352.58zM1278.22 477.92H1352.58V486.28H1278.22zM1352.58 477.92H1358.3V482.1H1352.58zM1289.66 473.74H1301.1V477.92H1289.66zM1306.82 473.74H1329.7V477.92H1306.82zM1335.42 469.56H1352.58V477.92H1335.42zM1358.3 473.74H1362.9V477.92H1358.3zM1306.82 469.56H1318.26V473.74H1306.82zM1323.98 469.56H1329.7V473.74H1323.98zM1352.58 465.38H1358.3V473.74H1352.58z"/>
<path fill="#352698" d="M1226.74 565.7H1232.46V567.8H1226.74zM1243.9 540.62H1249.62V544.8H1243.9zM1255.34 523.9H1261.06V528.08H1255.34zM1261.06 507.18H1266.78V511.36H1261.06zM1323.98 490.46H1362.9V503H1323.98zM1266.78 494.64H1278.22V498.82H1266.78zM1289.66 486.28H1323.98V498.82H1289.66zM1272.5 490.46H1289.66V494.64H1272.5zM1278.22 486.28H1289.66V490.46H1278.22zM1323.98 486.28H1352.58V490.46H1323.98z"/>
<path fill="#2e268c" d="M1221.02 565.7H1226.74V567.8H1221.02zM1249.62 536.44H1255.34V540.62H1249.62zM1255.34 528.08H1261.06V536.44H1255.34zM1272.5 528.08H1278.22V532.26H1272.5zM1261.06 511.36H1266.78V519.72H1261.06zM1352.58 503H1362.9V519.72H1352.58zM1318.26 503H1352.58V515.54H1318.26zM1295.38 498.82H1318.26V511.36H1295.38zM1266.78 498.82H1272.5V503H1266.78zM1289.66 498.82H1295.38V503H1289.66zM1318.26 498.82H1323.98V503H1318.26zM1278.22 494.64H1289.66V498.82H1278.22z"/>
<path fill="#25257c" d="M1211.1 565.7H1215.3V567.8H1211.1zM1272.5 532.26H1278.22V536.44H1272.5zM1278.22 528.08H1283.94V532.26H1278.22zM1272.5 523.9H1278.22V528.08H1272.5zM1261.06 519.72H1266.78V523.9H1261.06zM1346.86 519.72H1362.9V523.9H1346.86zM1295.38 515.54H1352.58V519.72H1295.38zM1295.38 511.36H1318.26V515.54H1295.38zM1289.66 503H1295.38V511.36H1289.66zM1283.94 498.82H1289.66V503H1283.94z"/>
<path fill="#1e1e64" d="M1232.46 553.16H1243.9V557.34H1232.46zM1243.9 544.8H1249.62V548.98H1243.9zM1249.62 540.62H1255.34V544.8H1249.62zM1255.34 536.44H1261.06V540.62H1255.34zM1278.22 532.26H1283.94V536.44H1278.22zM1261.06 523.9H1272.5V532.26H1261.06zM1278.22 519.72H1283.94V528.08H1278.22zM1335.42 523.9H1362.9V528.08H1335.42zM1272.5 519.72H1278.22V523.9H1272.5zM1289.66 519.72H1346.86V523.9H1289.66zM1289.66 511.36H1295.38V519.72H1289.66zM1266.78 503H1272.5V511.36H1266.78zM1283.94 503H1289.66V507.18H1283.94zM1272.5 498.82H1283.94V503H1272.5z"/>
<path fill="#17174c" d="M1261.06 565.7H1362.9V567.8H1261.06zM1255.34 540.62H1261.06V544.8H1255.34zM1261.06 536.44H1283.94V540.62H1261.06zM1261.06 532.26H1272.5V536.44H1261.06zM1283.94 523.9H1295.38V536.44H1283.94zM1295.38 523.9H1323.98V532.26H1295.38zM1329.7 528.08H1362.9V532.26H1329.7zM1323.98 523.9H1335.42V528.08H1323.98zM1266.78 511.36H1272.5V523.9H1266.78zM1283.94 507.18H1289.66V523.9H1283.94zM1272.5 503H1283.94V519.72H1272.5z"/>
<path fill="#0e0e30" d="M1232.46 557.34H1238.18V561.52H1232.46zM1243.9 548.98H1249.62V553.16H1243.9zM1249.62 544.8H1255.34V548.98H1249.62zM1261.06 540.62H1283.94V548.98H1261.06zM1283.94 536.44H1295.38V544.8H1283.94zM1295.38 532.26H1306.82V540.62H1295.38zM1352.58 532.26H1362.9V540.62H1352.58zM1306.82 532.26H1352.58V536.44H1306.82zM1323.98 528.08H1329.7V532.26H1323.98z"/>
<path fill="#070718" d="M1232.46 561.52H1238.18V565.7H1232.46zM1249.62 548.98H1255.34V553.16H1249.62zM1261.06 548.98H1283.94V553.16H1261.06zM1255.34 544.8H1261.06V548.98H1255.34zM1283.94 544.8H1289.66V548.98H1283.94zM1295.38 540.62H1306.82V544.8H1295.38zM1358.3 540.62H1362.9V544.8H1358.3zM1306.82 536.44H1352.58V540.62H1306.82z"/>
<path fill="#000000" d="M1232.46 565.7H1261.06V567.8H1232.46zM1238.18 557.34H1362.9V565.7H1238.18zM1243.9 553.16H1362.9V557.34H1243.9zM1255.34 548.98H1261.06V553.16H1255.34zM1283.94 548.98H1362.9V553.16H1283.94zM1289.66 544.8H1362.9V548.98H1289.66zM1306.82 540.62H1358.3V544.8H1306.82z"/>
</g>
<g clip-path="url(#cpd)"><g filter="url(#cmBP)">
<rect x="869.1" y="29" width="155.8" height="216.5" fill="#000000"/>
<path d="M866.1 93.3Q947 87.3 1027.9 93.3V251.5H866.1z" fill="url(#fgd)" filter="url(#bl1_5)"/>
<path d="M919 96L975 96L968 125L960 152L954 194L940 194L934 152L926 125z" fill="#ffffff" fill-opacity="0.95" filter="url(#bl4)"/>
<ellipse cx="947" cy="203" rx="30" ry="8" fill="#f2f2f2" fill-opacity="0.5" filter="url(#bl4)"/>
<ellipse cx="947" cy="225" rx="9" ry="18" fill="#e6e6e6" fill-opacity="0.45" filter="url(#bl4)"/>
<path d="M866.1 96.3Q947 90.3 1027.9 96.3M866.1 99.25Q947 93.41 1027.9 99.25M866.1 102.21Q947 96.51 1027.9 102.21M866.1 105.17Q947 99.61 1027.9 105.17M866.1 108.12Q947 102.72 1027.9 108.12M866.1 111.08Q947 105.83 1027.9 111.08M866.1 114.03Q947 108.93 1027.9 114.03M866.1 116.98Q947 112.04 1027.9 116.98M866.1 119.94Q947 115.14 1027.9 119.94M866.1 122.9Q947 118.25 1027.9 122.9M866.1 125.85Q947 121.35 1027.9 125.85M866.1 128.81Q947 124.46 1027.9 128.81M866.1 131.76Q947 127.56 1027.9 131.76M866.1 134.72Q947 130.66 1027.9 134.72M866.1 137.67Q947 133.77 1027.9 137.67M866.1 140.62Q947 136.88 1027.9 140.62M866.1 143.58Q947 139.98 1027.9 143.58M866.1 146.53Q947 143.09 1027.9 146.53M866.1 149.49Q947 146.19 1027.9 149.49M866.1 152.44Q947 149.3 1027.9 152.44M866.1 155.4Q947 152.4 1027.9 155.4M866.1 158.36Q947 155.5 1027.9 158.36M866.1 161.31Q947 158.61 1027.9 161.31M866.1 164.27Q947 161.72 1027.9 164.27M866.1 167.22Q947 164.82 1027.9 167.22M866.1 170.18Q947 167.93 1027.9 170.18M866.1 173.13Q947 171.03 1027.9 173.13M866.1 176.09Q947 174.14 1027.9 176.09M866.1 179.04Q947 177.24 1027.9 179.04M866.1 182Q947 180.35 1027.9 182M866.1 184.95Q947 183.45 1027.9 184.95M866.1 187.91Q947 186.56 1027.9 187.91M866.1 190.86Q947 189.66 1027.9 190.86M866.1 193.82Q947 192.77 1027.9 193.82M866.1 196.77Q947 195.87 1027.9 196.77M866.1 199.73Q947 198.98 1027.9 199.73" fill="none" stroke="url(#fsd)" stroke-width="0.95" mask="url(#mkdf)"/>
<path d="M907 101L887 122L869 141" fill="none" stroke="#000000" stroke-opacity="0.6" stroke-width="6" stroke-linecap="round" stroke-linejoin="round" filter="url(#bl3)"/>
<path d="M987 101L1007 122L1025 141" fill="none" stroke="#000000" stroke-opacity="0.6" stroke-width="6" stroke-linecap="round" stroke-linejoin="round" filter="url(#bl3)"/>
<path d="M923 121L899 145L875 168" fill="none" stroke="#000000" stroke-opacity="0.42" stroke-width="5.5" stroke-linecap="round" stroke-linejoin="round" filter="url(#bl3)"/>
<path d="M971 121L995 145L1019 168" fill="none" stroke="#000000" stroke-opacity="0.42" stroke-width="5.5" stroke-linecap="round" stroke-linejoin="round" filter="url(#bl3)"/>
<path d="M921 118L930 148L937 176" fill="none" stroke="#000000" stroke-opacity="0.4" stroke-width="3.5" stroke-linecap="round" stroke-linejoin="round" filter="url(#bl2)"/>
<path d="M973 118L964 148L957 176" fill="none" stroke="#000000" stroke-opacity="0.4" stroke-width="3.5" stroke-linecap="round" stroke-linejoin="round" filter="url(#bl2)"/>
<rect x="871.1" y="128" width="151.8" height="77" fill="#000" filter="url(#nzd2)" mask="url(#mkd2)"/>
<rect x="871.1" y="185" width="151.8" height="55.5" fill="#000" filter="url(#nzd1)" mask="url(#mkd1)"/>
<rect x="871.1" y="239.3" width="151.8" height="4.2" fill="#f7f7f7"/>
</g></g>
<g clip-path="url(#cpe)"><g filter="url(#cmBP)">
<rect x="1039.1" y="29" width="155.8" height="216.5" fill="#000000"/>
<path d="M1036.1 67.3Q1117 60.3 1197.9 67.3V251.5H1036.1z" fill="url(#fge)" filter="url(#bl1)"/>
<path d="M1087 70L1147 70L1141 120L1135 150L1099 150L1093 120z" fill="#ffffff" fill-opacity="0.95" filter="url(#bl4)"/>
<ellipse cx="1101" cy="150" rx="11" ry="18" fill="#f2f2f2" fill-opacity="0.45" filter="url(#bl4)"/>
<ellipse cx="1133" cy="150" rx="11" ry="18" fill="#f2f2f2" fill-opacity="0.45" filter="url(#bl4)"/>
<ellipse cx="1117" cy="178" rx="10" ry="14" fill="#e6e6e6" fill-opacity="0.4" filter="url(#bl4)"/>
<ellipse cx="1117" cy="220" rx="9" ry="22" fill="#d9d9d9" fill-opacity="0.5" filter="url(#bl4)"/>
<ellipse cx="1055" cy="115" rx="9" ry="30" fill="#e6e6e6" fill-opacity="0.25" filter="url(#bl4)"/>
<ellipse cx="1179" cy="115" rx="9" ry="30" fill="#e6e6e6" fill-opacity="0.25" filter="url(#bl4)"/>
<path d="M1036.1 70.3Q1117 63.3 1197.9 70.3M1036.1 73.25Q1117 66.41 1197.9 73.25M1036.1 76.2Q1117 69.52 1197.9 76.2M1036.1 79.16Q1117 72.62 1197.9 79.16M1036.1 82.11Q1117 75.73 1197.9 82.11M1036.1 85.06Q1117 78.84 1197.9 85.06M1036.1 88.01Q1117 81.95 1197.9 88.01M1036.1 90.97Q1117 85.05 1197.9 90.97M1036.1 93.92Q1117 88.16 1197.9 93.92M1036.1 96.87Q1117 91.27 1197.9 96.87M1036.1 99.82Q1117 94.38 1197.9 99.82M1036.1 102.77Q1117 97.49 1197.9 102.77M1036.1 105.73Q1117 100.59 1197.9 105.73M1036.1 108.68Q1117 103.7 1197.9 108.68M1036.1 111.63Q1117 106.81 1197.9 111.63M1036.1 114.58Q1117 109.92 1197.9 114.58M1036.1 117.54Q1117 113.02 1197.9 117.54M1036.1 120.49Q1117 116.13 1197.9 120.49M1036.1 123.44Q1117 119.24 1197.9 123.44M1036.1 126.39Q1117 122.35 1197.9 126.39M1036.1 129.34Q1117 125.46 1197.9 129.34M1036.1 132.3Q1117 128.56 1197.9 132.3M1036.1 135.25Q1117 131.67 1197.9 135.25M1036.1 138.2Q1117 134.78 1197.9 138.2M1036.1 141.15Q1117 137.89 1197.9 141.15M1036.1 144.11Q1117 140.99 1197.9 144.11M1036.1 147.06Q1117 144.1 1197.9 147.06M1036.1 150.01Q1117 147.21 1197.9 150.01M1036.1 152.96Q1117 150.32 1197.9 152.96M1036.1 155.91Q1117 153.43 1197.9 155.91M1036.1 158.87Q1117 156.53 1197.9 158.87M1036.1 161.82Q1117 159.64 1197.9 161.82M1036.1 164.77Q1117 162.75 1197.9 164.77M1036.1 167.72Q1117 165.86 1197.9 167.72M1036.1 170.68Q1117 168.96 1197.9 170.68M1036.1 173.63Q1117 172.07 1197.9 173.63M1036.1 176.58Q1117 175.18 1197.9 176.58M1036.1 179.53Q1117 178.29 1197.9 179.53M1036.1 182.48Q1117 181.4 1197.9 182.48M1036.1 185.44Q1117 184.5 1197.9 185.44M1036.1 188.39Q1117 187.61 1197.9 188.39M1036.1 191.34Q1117 190.72 1197.9 191.34M1036.1 194.29Q1117 193.83 1197.9 194.29" fill="none" stroke="url(#fse)" stroke-width="0.95" mask="url(#mkef)"/>
<path d="M1039.1 63L1071.1 66L1091 92L1083 101L1039.1 84z" fill="#000000" fill-opacity="0.52" filter="url(#bl3)"/>
<path d="M1194.9 63L1162.9 66L1143 92L1151 101L1194.9 84z" fill="#000000" fill-opacity="0.52" filter="url(#bl3)"/>
<ellipse cx="1086" cy="94" rx="7" ry="4" fill="#000000" fill-opacity="0.6" filter="url(#bl2)"/>
<ellipse cx="1148" cy="94" rx="7" ry="4" fill="#000000" fill-opacity="0.6" filter="url(#bl2)"/>
<path d="M1081 100L1077 125L1079 150L1073 172" fill="none" stroke="#000000" stroke-opacity="0.45" stroke-width="5" stroke-linecap="round" stroke-linejoin="round" filter="url(#bl2)"/>
<path d="M1153 100L1157 125L1155 150L1161 172" fill="none" stroke="#000000" stroke-opacity="0.45" stroke-width="5" stroke-linecap="round" stroke-linejoin="round" filter="url(#bl2)"/>
<path d="M1055 106L1060 140L1054 170" fill="none" stroke="#000000" stroke-opacity="0.3" stroke-width="5" stroke-linecap="round" stroke-linejoin="round" filter="url(#bl2)"/>
<path d="M1179 106L1174 140L1180 170" fill="none" stroke="#000000" stroke-opacity="0.3" stroke-width="5" stroke-linecap="round" stroke-linejoin="round" filter="url(#bl2)"/>
<path d="M1045.1 112L1050.1 150L1047.1 172" fill="none" stroke="#000000" stroke-opacity="0.4" stroke-width="5" stroke-linecap="round" stroke-linejoin="round" filter="url(#bl2)"/>
<path d="M1188.9 112L1183.9 150L1186.9 172" fill="none" stroke="#000000" stroke-opacity="0.4" stroke-width="5" stroke-linecap="round" stroke-linejoin="round" filter="url(#bl2)"/>
<ellipse cx="1117" cy="143" rx="4" ry="2.5" fill="#000000" fill-opacity="0.6" filter="url(#bl1_5)"/>
<rect x="1041.1" y="140" width="151.8" height="60" fill="#000" filter="url(#nze2)" mask="url(#mke2)"/>
<rect x="1041.1" y="180" width="151.8" height="61.1" fill="#000" filter="url(#nze1)" mask="url(#mke1)"/>
<rect x="1041.1" y="239.3" width="151.8" height="4.2" fill="#ededed"/>
</g></g>
<g clip-path="url(#cpf)"><g filter="url(#cmBP)">
<rect x="1209.1" y="29" width="155.8" height="216.5" fill="#000000"/>
<path d="M1206.1 63.5Q1287 50.5 1367.9 63.5V251.5H1206.1z" fill="url(#fgf)" filter="url(#bl3)"/>
<path d="M1257 66L1317 66L1315 120L1309 172L1265 172L1259 120z" fill="#ffffff" fill-opacity="0.93" filter="url(#bl4)"/>
<ellipse cx="1287" cy="205" rx="12" ry="34" fill="#e6e6e6" fill-opacity="0.5" filter="url(#bl4)"/>
<ellipse cx="1223" cy="120" rx="10" ry="40" fill="#e6e6e6" fill-opacity="0.3" filter="url(#bl4)"/>
<ellipse cx="1351" cy="120" rx="10" ry="40" fill="#e6e6e6" fill-opacity="0.3" filter="url(#bl4)"/>
<path d="M1206.1 66.5Q1287 53.5 1367.9 66.5M1206.1 69.4Q1287 56.66 1367.9 69.4M1206.1 72.3Q1287 59.82 1367.9 72.3M1206.1 75.2Q1287 62.98 1367.9 75.2M1206.1 78.1Q1287 66.14 1367.9 78.1M1206.1 81Q1287 69.3 1367.9 81M1206.1 83.9Q1287 72.46 1367.9 83.9M1206.1 86.8Q1287 75.62 1367.9 86.8M1206.1 89.7Q1287 78.78 1367.9 89.7M1206.1 92.6Q1287 81.94 1367.9 92.6M1206.1 95.5Q1287 85.1 1367.9 95.5M1206.1 98.4Q1287 88.26 1367.9 98.4M1206.1 101.3Q1287 91.42 1367.9 101.3M1206.1 104.2Q1287 94.58 1367.9 104.2M1206.1 107.1Q1287 97.74 1367.9 107.1M1206.1 110Q1287 100.9 1367.9 110M1206.1 112.9Q1287 104.06 1367.9 112.9M1206.1 115.8Q1287 107.22 1367.9 115.8M1206.1 118.7Q1287 110.38 1367.9 118.7M1206.1 121.6Q1287 113.54 1367.9 121.6M1206.1 124.5Q1287 116.7 1367.9 124.5M1206.1 127.4Q1287 119.86 1367.9 127.4M1206.1 130.3Q1287 123.02 1367.9 130.3M1206.1 133.2Q1287 126.18 1367.9 133.2M1206.1 136.1Q1287 129.34 1367.9 136.1M1206.1 139Q1287 132.5 1367.9 139M1206.1 141.9Q1287 135.66 1367.9 141.9M1206.1 144.8Q1287 138.82 1367.9 144.8M1206.1 147.7Q1287 141.98 1367.9 147.7M1206.1 150.6Q1287 145.14 1367.9 150.6M1206.1 153.5Q1287 148.3 1367.9 153.5M1206.1 156.4Q1287 151.46 1367.9 156.4M1206.1 159.3Q1287 154.62 1367.9 159.3M1206.1 162.2Q1287 157.78 1367.9 162.2M1206.1 165.1Q1287 160.94 1367.9 165.1M1206.1 168Q1287 164.1 1367.9 168M1206.1 170.9Q1287 167.26 1367.9 170.9M1206.1 173.8Q1287 170.42 1367.9 173.8M1206.1 176.7Q1287 173.58 1367.9 176.7M1206.1 179.6Q1287 176.74 1367.9 179.6M1206.1 182.5Q1287 179.9 1367.9 182.5M1206.1 185.4Q1287 183.06 1367.9 185.4M1206.1 188.3Q1287 186.22 1367.9 188.3M1206.1 191.2Q1287 189.38 1367.9 191.2M1206.1 194.1Q1287 192.54 1367.9 194.1M1206.1 197Q1287 195.7 1367.9 197M1206.1 199.9Q1287 198.86 1367.9 199.9" fill="none" stroke="url(#fsf)" stroke-width="0.95" mask="url(#mkff)"/>
<path d="M1209.1 54L1241.1 58L1251 100L1241 110L1209.1 80z" fill="#000000" fill-opacity="0.64" filter="url(#bl3)"/>
<path d="M1364.9 54L1332.9 58L1323 100L1333 110L1364.9 80z" fill="#000000" fill-opacity="0.64" filter="url(#bl3)"/>
<ellipse cx="1246" cy="105" rx="7" ry="4.5" fill="#000000" fill-opacity="0.55" filter="url(#bl2)"/>
<ellipse cx="1328" cy="105" rx="7" ry="4.5" fill="#000000" fill-opacity="0.55" filter="url(#bl2)"/>
<path d="M1244 108L1245 150L1243 174" fill="none" stroke="#000000" stroke-opacity="0.5" stroke-width="5" stroke-linecap="round" stroke-linejoin="round" filter="url(#bl2)"/>
<path d="M1330 108L1329 150L1331 174" fill="none" stroke="#000000" stroke-opacity="0.5" stroke-width="5" stroke-linecap="round" stroke-linejoin="round" filter="url(#bl2)"/>
<ellipse cx="1287" cy="135" rx="5.5" ry="3" fill="#000000" fill-opacity="0.8" filter="url(#bl1_5)"/>
<rect x="1211.1" y="150" width="151.8" height="54" fill="#000" filter="url(#nzf2)" mask="url(#mkf2)"/>
<rect x="1211.1" y="184" width="151.8" height="56.9" fill="#000" filter="url(#nzf1)" mask="url(#mkf1)"/>
<rect x="1211.1" y="239.3" width="151.8" height="4.2" fill="#e6e6e6"/>
</g></g>
<g clip-path="url(#cpa)"><g filter="url(#cmCH)">
<rect x="93.8" y="29" width="155.8" height="216.5" fill="#000000"/>
<path d="M91.8 90Q171.7 89 251.6 90V190H91.8z" fill="url(#abg)" filter="url(#bl0_6)"/>
<rect x="95.8" y="89.5" width="151.8" height="100.5" fill="#000" filter="url(#nza)" opacity="0.45"/>
<g clip-path="url(#cpaz)"><ellipse cx="171.7" cy="140" rx="46" ry="40" fill="#4c4c4c" fill-opacity="0.45" filter="url(#bl9)"/><ellipse cx="171.7" cy="165" rx="30" ry="30" fill="#5c5c5c" fill-opacity="0.45" filter="url(#bl9)"/></g>
<path d="M91.8 95.7Q171.7 88.7 251.6 95.7M91.8 101.47Q171.7 95.07 251.6 101.47M91.8 113.01Q171.7 107.81 251.6 113.01M91.8 118.78Q171.7 114.18 251.6 118.78M91.8 124.55Q171.7 120.55 251.6 124.55M91.8 130.32Q171.7 126.92 251.6 130.32" fill="none" stroke="url(#afg1)" stroke-width="3.0" filter="url(#bl0_6)"/>
<path d="M91.8 138.69Q117.7 132.99 137.7 133.44L171.7 137.94L205.7 133.44Q225.7 132.99 251.6 138.69M91.8 144.76Q117.7 139.06 137.7 139.51L171.7 144.01L205.7 139.51Q225.7 139.06 251.6 144.76M91.8 150.83Q117.7 145.13 137.7 145.58L171.7 150.08L205.7 145.58Q225.7 145.13 251.6 150.83M91.8 156.9Q117.7 151.2 137.7 151.65L171.7 156.15L205.7 151.65Q225.7 151.2 251.6 156.9M91.8 162.97Q117.7 157.27 137.7 157.72L171.7 162.22L205.7 157.72Q225.7 157.27 251.6 162.97M91.8 169.04Q117.7 163.34 137.7 163.79L171.7 168.29L205.7 163.79Q225.7 163.34 251.6 169.04M91.8 175.11Q117.7 169.41 137.7 169.86L171.7 174.36L205.7 169.86Q225.7 169.41 251.6 175.11M91.8 181.18Q117.7 175.48 137.7 175.93L171.7 180.43L205.7 175.93Q225.7 175.48 251.6 181.18M91.8 187.25Q117.7 181.55 137.7 182L171.7 186.5L205.7 182Q225.7 181.55 251.6 187.25" fill="none" stroke="url(#afg2)" stroke-width="3.2" filter="url(#bl0_6)"/>
<ellipse cx="171.7" cy="166" rx="7" ry="28" fill="#9e9e9e" fill-opacity="0.6" filter="url(#bl3)"/>
<path d="M91.8 138.69Q117.7 132.99 137.7 133.44L171.7 137.94L205.7 133.44Q225.7 132.99 251.6 138.69M91.8 144.76Q117.7 139.06 137.7 139.51L171.7 144.01L205.7 139.51Q225.7 139.06 251.6 144.76M91.8 150.83Q117.7 145.13 137.7 145.58L171.7 150.08L205.7 145.58Q225.7 145.13 251.6 150.83M91.8 156.9Q117.7 151.2 137.7 151.65L171.7 156.15L205.7 151.65Q225.7 151.2 251.6 156.9M91.8 162.97Q117.7 157.27 137.7 157.72L171.7 162.22L205.7 157.72Q225.7 157.27 251.6 162.97M91.8 169.04Q117.7 163.34 137.7 163.79L171.7 168.29L205.7 163.79Q225.7 163.34 251.6 169.04M91.8 175.11Q117.7 169.41 137.7 169.86L171.7 174.36L205.7 169.86Q225.7 169.41 251.6 175.11M91.8 181.18Q117.7 175.48 137.7 175.93L171.7 180.43L205.7 175.93Q225.7 175.48 251.6 181.18M91.8 187.25Q117.7 181.55 137.7 182L171.7 186.5L205.7 182Q225.7 181.55 251.6 187.25" fill="none" stroke="url(#afg3)" stroke-width="3.0" filter="url(#bl0_6)"/>
<path d="M91.8 113.01Q171.7 107.81 251.6 113.01M91.8 118.78Q171.7 114.18 251.6 118.78M91.8 124.55Q171.7 120.55 251.6 124.55M91.8 130.32Q171.7 126.92 251.6 130.32" fill="none" stroke="url(#afg4)" stroke-width="1.6" filter="url(#bl0_6)"/>
<rect x="95.8" y="89.5" width="151.8" height="96.5" fill="#000" filter="url(#nza)" opacity="0.15"/>
<rect x="95.8" y="181" width="151.8" height="62.5" fill="url(#abb)"/>
<ellipse cx="133.8" cy="232" rx="26" ry="8" fill="#808080" fill-opacity="0.55" filter="url(#bl4)"/>
<ellipse cx="217.6" cy="205" rx="24" ry="10" fill="#808080" fill-opacity="0.5" filter="url(#bl4)"/>
<ellipse cx="223.6" cy="232" rx="20" ry="8" fill="#808080" fill-opacity="0.5" filter="url(#bl4)"/>
<ellipse cx="125.8" cy="203" rx="22" ry="6" fill="#858585" fill-opacity="0.4" filter="url(#bl4)"/>
<ellipse cx="171.7" cy="189" rx="6" ry="9" fill="#a3a3a3" fill-opacity="0.85" filter="url(#bl2)"/>
<path d="M171.7 184C179.5 200.1 197.7 211.6 197.7 230L213.7 245.5H129.7L145.7 230C145.7 211.6 163.9 200.1 171.7 184z" fill="#c2c2c2" fill-opacity="0.7" filter="url(#bl6)"/>
<path d="M171.7 196C175.9 207.9 185.7 216.4 185.7 230L195.7 245.5H147.7L157.7 230C157.7 216.4 167.5 207.9 171.7 196z" fill="#ededed" fill-opacity="0.85" filter="url(#bl4)"/>
<ellipse cx="171.7" cy="219" rx="5" ry="11" fill="#fafafa" fill-opacity="0.7" filter="url(#bl2)"/>
<ellipse cx="105.8" cy="211" rx="12" ry="5" fill="#cccccc" fill-opacity="0.7" filter="url(#bl3)"/>
<ellipse cx="235.6" cy="210" rx="12" ry="5" fill="#d1d1d1" fill-opacity="0.7" filter="url(#bl3)"/>
<ellipse cx="103.8" cy="228" rx="8" ry="8" fill="#bdbdbd" fill-opacity="0.5" filter="url(#bl3)"/>
<ellipse cx="243.6" cy="228" rx="5" ry="8" fill="#bdbdbd" fill-opacity="0.5" filter="url(#bl3)"/>
<rect x="95.8" y="198" width="151.8" height="45.5" fill="#000" filter="url(#nza2)" opacity="0.25"/>
<path d="M98.8 242.3h24M139.8 242.3h16M200.8 242.3h20M233.8 242.3h10" stroke="#141414" stroke-width="1.1" stroke-opacity="0.8"/>
</g></g>
<g clip-path="url(#cpb)"><g filter="url(#cmCH)">
<rect x="263.8" y="29" width="155.8" height="216.5" fill="#000000"/>
<path d="M261.8 68Q341.7 60 421.6 68V188H261.8z" fill="url(#bbg)" filter="url(#bl1_5)"/>
<rect x="265.8" y="64" width="151.8" height="124" fill="#000" filter="url(#nzb)" opacity="0.28"/>
<path d="M261.8 74.5Q341.7 69.5 421.6 74.5M261.8 80.57Q341.7 75.57 421.6 80.57M261.8 86.64Q341.7 81.64 421.6 86.64M261.8 92.71Q341.7 87.71 421.6 92.71M261.8 98.78Q341.7 93.78 421.6 98.78M261.8 104.85Q341.7 99.85 421.6 104.85M261.8 110.92Q341.7 105.92 421.6 110.92M261.8 116.99Q341.7 111.99 421.6 116.99M261.8 123.06Q341.7 118.06 421.6 123.06M261.8 129.13Q341.7 124.13 421.6 129.13M261.8 135.2Q341.7 130.2 421.6 135.2M261.8 141.27Q341.7 136.27 421.6 141.27M261.8 147.34Q341.7 142.34 421.6 147.34M261.8 153.41Q341.7 148.41 421.6 153.41M261.8 159.48Q341.7 154.48 421.6 159.48M261.8 165.55Q341.7 160.55 421.6 165.55M261.8 171.62Q341.7 166.62 421.6 171.62M261.8 177.69Q341.7 172.69 421.6 177.69M261.8 183.76Q341.7 178.76 421.6 183.76" fill="none" stroke="url(#bfg0)" stroke-width="2.4" filter="url(#bl1)"/>
<rect x="289.7" y="65" width="94" height="2.6" fill="url(#bln)"/>
<rect x="271.7" y="65.4" width="140" height="1.6" fill="#333333" fill-opacity="0.35"/>
<path d="M261.8 98.78Q341.7 94.78 421.6 98.78M261.8 104.85Q341.7 100.85 421.6 104.85M261.8 110.92Q341.7 106.92 421.6 110.92M261.8 116.99Q341.7 112.99 421.6 116.99M261.8 123.06Q341.7 119.06 421.6 123.06M261.8 129.13Q341.7 125.13 421.6 129.13M261.8 141.27Q341.7 137.27 421.6 141.27M261.8 153.41Q341.7 149.41 421.6 153.41" fill="none" stroke="url(#bfgw)" stroke-width="2.6" filter="url(#bl1)"/>
<path d="M342.7 72L346.7 95L351.7 114L364.7 127L371.7 140L379.7 158L393.7 170L409.7 180L421.7 186L421.7 190L261.7 190L261.7 186L273.7 180L289.7 170L303.7 158L311.7 140L318.7 127L331.7 114L336.7 95L340.7 72z" fill="#4c4c4c" fill-opacity="0.7" filter="url(#bl6)"/>
<path d="M343.7 105L355.7 122L363.7 150L373.7 170L389.7 186L389.7 190L293.7 190L293.7 186L309.7 170L319.7 150L327.7 122L339.7 105z" fill="#616161" fill-opacity="0.6" filter="url(#bl4)"/>
<g mask="url(#cpbt)"><path d="M261.8 74Q341.7 71 421.6 74M261.8 80.07Q341.7 77.07 421.6 80.07M261.8 86.14Q341.7 83.14 421.6 86.14M261.8 92.21Q341.7 89.21 421.6 92.21M261.8 98.28Q341.7 95.28 421.6 98.28M261.8 104.35Q341.7 101.35 421.6 104.35M261.8 110.42Q341.7 107.42 421.6 110.42M261.8 116.49Q341.7 113.49 421.6 116.49M261.8 122.56Q341.7 119.56 421.6 122.56M261.8 132.13Q295.7 125.73 315.7 126.13L341.7 130.13L367.7 126.13Q387.7 125.73 421.6 132.13M261.8 138.2Q295.7 131.8 315.7 132.2L341.7 136.2L367.7 132.2Q387.7 131.8 421.6 138.2M261.8 144.27Q295.7 137.87 315.7 138.27L341.7 142.27L367.7 138.27Q387.7 137.87 421.6 144.27M261.8 150.34Q295.7 143.94 315.7 144.34L341.7 148.34L367.7 144.34Q387.7 143.94 421.6 150.34M261.8 156.41Q295.7 150.01 315.7 150.41L341.7 154.41L367.7 150.41Q387.7 150.01 421.6 156.41M261.8 162.48Q295.7 156.08 315.7 156.48L341.7 160.48L367.7 156.48Q387.7 156.08 421.6 162.48M261.8 168.55Q295.7 162.15 315.7 162.55L341.7 166.55L367.7 162.55Q387.7 162.15 421.6 168.55M261.8 174.62Q295.7 168.22 315.7 168.62L341.7 172.62L367.7 168.62Q387.7 168.22 421.6 174.62M261.8 180.69Q295.7 174.29 315.7 174.69L341.7 178.69L367.7 174.69Q387.7 174.29 421.6 180.69M261.8 186.76Q295.7 180.36 315.7 180.76L341.7 184.76L367.7 180.76Q387.7 180.36 421.6 186.76M261.8 192.83Q295.7 186.43 315.7 186.83L341.7 190.83L367.7 186.83Q387.7 186.43 421.6 192.83" fill="none" stroke="url(#bfg1)" stroke-width="3.0" filter="url(#bl0_6)"/></g>
<ellipse cx="341.7" cy="166" rx="9" ry="30" fill="#8f8f8f" fill-opacity="0.6" filter="url(#bl4)"/>
<ellipse cx="341.7" cy="186" rx="15" ry="12" fill="#9e9e9e" fill-opacity="0.7" filter="url(#bl4)"/>
<path d="M261.8 132.13Q295.7 125.73 315.7 126.13L341.7 130.13L367.7 126.13Q387.7 125.73 421.6 132.13M261.8 138.2Q295.7 131.8 315.7 132.2L341.7 136.2L367.7 132.2Q387.7 131.8 421.6 138.2M261.8 144.27Q295.7 137.87 315.7 138.27L341.7 142.27L367.7 138.27Q387.7 137.87 421.6 144.27M261.8 150.34Q295.7 143.94 315.7 144.34L341.7 148.34L367.7 144.34Q387.7 143.94 421.6 150.34M261.8 156.41Q295.7 150.01 315.7 150.41L341.7 154.41L367.7 150.41Q387.7 150.01 421.6 156.41M261.8 162.48Q295.7 156.08 315.7 156.48L341.7 160.48L367.7 156.48Q387.7 156.08 421.6 162.48M261.8 168.55Q295.7 162.15 315.7 162.55L341.7 166.55L367.7 162.55Q387.7 162.15 421.6 168.55M261.8 174.62Q295.7 168.22 315.7 168.62L341.7 172.62L367.7 168.62Q387.7 168.22 421.6 174.62M261.8 180.69Q295.7 174.29 315.7 174.69L341.7 178.69L367.7 174.69Q387.7 174.29 421.6 180.69M261.8 186.76Q295.7 180.36 315.7 180.76L341.7 184.76L367.7 180.76Q387.7 180.36 421.6 186.76M261.8 192.83Q295.7 186.43 315.7 186.83L341.7 190.83L367.7 186.83Q387.7 186.43 421.6 192.83" fill="none" stroke="url(#bfg2)" stroke-width="2.8" filter="url(#bl0_6)"/>
<rect x="265.8" y="178" width="151.8" height="65.5" fill="url(#bbb)"/>
<rect x="265.8" y="196" width="151.8" height="47.5" fill="#000" filter="url(#nzb2)" opacity="0.4"/>
<ellipse cx="311.7" cy="215" rx="18" ry="10" fill="#9e9e9e" fill-opacity="0.45" filter="url(#bl4)"/>
<ellipse cx="375.7" cy="222" rx="20" ry="10" fill="#9e9e9e" fill-opacity="0.45" filter="url(#bl4)"/>
<ellipse cx="279.8" cy="236" rx="12" ry="5" fill="#a3a3a3" fill-opacity="0.5" filter="url(#bl3)"/>
<ellipse cx="409.6" cy="213" rx="7" ry="9" fill="#adadad" fill-opacity="0.7" filter="url(#bl3)"/>
<path d="M341.7 176C346.5 189.65 357.7 199.4 357.7 215L359.7 245.5H323.7L325.7 215C325.7 199.4 336.9 189.65 341.7 176z" fill="#a8a8a8" fill-opacity="0.75" filter="url(#bl4)"/>
<path d="M341.7 198C343.5 206.4 347.7 212.4 347.7 222L349.2 245.5H334.2L335.7 222C335.7 212.4 339.9 206.4 341.7 198z" fill="#dbdbdb" fill-opacity="0.85" filter="url(#bl2)"/>
</g></g>
<g clip-path="url(#cpc)"><g filter="url(#cmCH)">
<rect x="433.8" y="29" width="155.8" height="216.5" fill="#000000"/>
<rect x="435.8" y="52" width="151.8" height="150" fill="url(#cbg)"/>
<rect x="435.8" y="56" width="151.8" height="146" fill="#000" filter="url(#nzc)" opacity="0.16"/>
<path d="M431.8 61.5Q511.7 58.5 591.6 61.5M431.8 67.57Q511.7 64.57 591.6 67.57M431.8 73.64Q511.7 70.64 591.6 73.64M431.8 79.71Q511.7 76.71 591.6 79.71M431.8 85.78Q511.7 82.78 591.6 85.78M431.8 91.85Q511.7 88.85 591.6 91.85M431.8 97.92Q511.7 94.92 591.6 97.92M431.8 103.99Q511.7 100.99 591.6 103.99M431.8 110.06Q511.7 107.06 591.6 110.06M431.8 116.13Q511.7 113.13 591.6 116.13M431.8 122.2Q511.7 119.2 591.6 122.2M431.8 128.27Q511.7 125.27 591.6 128.27M431.8 134.34Q511.7 131.34 591.6 134.34M431.8 140.41Q511.7 137.41 591.6 140.41M431.8 146.48Q511.7 143.48 591.6 146.48M431.8 152.55Q511.7 149.55 591.6 152.55M431.8 158.62Q511.7 155.62 591.6 158.62M431.8 164.69Q511.7 161.69 591.6 164.69M431.8 170.76Q511.7 167.76 591.6 170.76M431.8 176.83Q511.7 173.83 591.6 176.83M431.8 182.9Q511.7 179.9 591.6 182.9M431.8 188.97Q511.7 185.97 591.6 188.97M431.8 195.04Q511.7 192.04 591.6 195.04" fill="none" stroke="url(#cfg0)" stroke-width="2.2" filter="url(#bl1)"/>
<rect x="489.7" y="53.9" width="48" height="1.5" fill="url(#cln)"/>
<path d="M512.7 58L514.2 110L516.7 140L520.7 158L533.7 175L555.7 188L591.7 197L591.7 203L431.7 203L431.7 197L467.7 188L489.7 175L502.7 158L506.7 140L509.2 110L510.7 58z" fill="#3d3d3d" fill-opacity="0.5" filter="url(#bl4)"/>
<path d="M509.2 60.5h5M508.8 66.57h5.8M508.4 72.64h6.6M508 78.71h7.4M507.6 84.78h8.2M507.2 90.85h9M506.8 96.92h9.8M506.4 102.99h10.6M506 109.06h11.4M505.6 115.13h12.2M505.2 121.2h13M504.8 127.27h13.8M504.4 133.34h14.6M504 139.41h15.4M503.6 145.48h16.2M503.2 151.55h17" stroke="#666666" stroke-width="2.6" stroke-linecap="round" filter="url(#bl1)" stroke-opacity="0.75"/>
<path d="M431.8 98.42Q511.7 95.42 591.6 98.42M431.8 104.49Q511.7 101.49 591.6 104.49M431.8 110.56Q511.7 107.56 591.6 110.56M431.8 116.63Q511.7 113.63 591.6 116.63M431.8 122.7Q511.7 119.7 591.6 122.7M431.8 128.77Q511.7 125.77 591.6 128.77M431.8 134.84Q511.7 131.84 591.6 134.84" fill="none" stroke="url(#cfgw)" stroke-width="2.4" filter="url(#bl1)"/>
<g mask="url(#cpct)"><path d="M431.8 156.55Q483.7 149.15 503.7 149.55L511.7 153.55L519.7 149.55Q539.7 149.15 591.6 156.55M431.8 162.62Q479.2 155.22 499.2 155.62L511.7 159.62L524.2 155.62Q544.2 155.22 591.6 162.62M431.8 168.69Q474.7 161.29 494.7 161.69L511.7 165.69L528.7 161.69Q548.7 161.29 591.6 168.69M431.8 174.76Q470.2 167.36 490.2 167.76L511.7 171.76L533.2 167.76Q553.2 167.36 591.6 174.76M431.8 180.83Q465.7 173.43 485.7 173.83L511.7 177.83L537.7 173.83Q557.7 173.43 591.6 180.83M431.8 186.9Q461.2 179.5 481.2 179.9L511.7 183.9L542.2 179.9Q562.2 179.5 591.6 186.9M431.8 192.97Q456.7 185.57 476.7 185.97L511.7 189.97L546.7 185.97Q566.7 185.57 591.6 192.97M431.8 199.04Q452.2 191.64 472.2 192.04L511.7 196.04L551.2 192.04Q571.2 191.64 591.6 199.04M431.8 205.11Q447.7 197.71 467.7 198.11L511.7 202.11L555.7 198.11Q575.7 197.71 591.6 205.11" fill="none" stroke="url(#cfg1)" stroke-width="2.8" filter="url(#bl0_6)"/></g>
<ellipse cx="511.7" cy="180" rx="5" ry="18" fill="#808080" fill-opacity="0.65" filter="url(#bl3)"/>
<ellipse cx="511.7" cy="196" rx="12" ry="9" fill="#949494" fill-opacity="0.7" filter="url(#bl4)"/>
<rect x="435.8" y="194" width="151.8" height="49.5" fill="url(#cbb)"/>
<rect x="435.8" y="206" width="151.8" height="37.5" fill="#000" filter="url(#nzc2)" opacity="0.5"/>
<ellipse cx="443.8" cy="215" rx="10" ry="8" fill="#8a8a8a" fill-opacity="0.6" filter="url(#bl3)"/>
<ellipse cx="457.8" cy="238" rx="18" ry="5" fill="#858585" fill-opacity="0.5" filter="url(#bl3)"/>
<ellipse cx="581.6" cy="214" rx="6" ry="8" fill="#858585" fill-opacity="0.5" filter="url(#bl3)"/>
<path d="M511.7 190C516.8 201.2 528.7 209.2 528.7 222L531.7 245.5H491.7L494.7 222C494.7 209.2 506.6 201.2 511.7 190z" fill="#949494" fill-opacity="0.75" filter="url(#bl4)"/>
<path d="M511.7 204C514.1 212.4 519.7 218.4 519.7 228L521.7 245.5H501.7L503.7 228C503.7 218.4 509.3 212.4 511.7 204z" fill="#b2b2b2" fill-opacity="0.8" filter="url(#bl3)"/>
<ellipse cx="511.7" cy="236" rx="5" ry="8" fill="#e0e0e0" fill-opacity="0.85" filter="url(#bl2)"/>
</g></g>
<g clip-path="url(#cpg)"><g filter="url(#cmCH)">
<rect x="93.8" y="349.7" width="155.8" height="221.3" fill="#000000"/>
<g mask="url(#mkgv)">
<rect x="95.8" y="405" width="151.8" height="164" fill="#000" filter="url(#dtg3)"/>
<rect x="95.8" y="405" width="151.8" height="164" fill="#000" filter="url(#dtg2)"/>
<g mask="url(#mkg)">
<rect x="95.8" y="405" width="151.8" height="164" fill="#000" filter="url(#dtg1)"/>
</g></g>
<path d="M95.8 428.4Q171.7 426.4 247.6 428.4" fill="none" stroke="#f7f7f7" stroke-width="1.6" stroke-opacity="0.75" stroke-dasharray="2 1.5 1 2 3 1 1.5 3 4 1.2 1 1 2 2.5" stroke-dashoffset="0"/>
<path d="M143.7 435.9Q172.7 435.3 201.7 435.9" fill="none" stroke="#f7f7f7" stroke-width="1.5" stroke-opacity="0.7" stroke-dasharray="1 1 3 2 1.5 1 2 3 1 1.5 5 1" stroke-dashoffset="3.7"/>
<path d="M95.8 448Q171.7 446 247.6 448" fill="none" stroke="#e6e6e6" stroke-width="1.3" stroke-opacity="0.45" stroke-dasharray="3 1 1 1 2 2 1 3 2 1 1.5 1.5" stroke-dashoffset="7.4"/>
<path d="M95.8 463Q171.7 461 247.6 463" fill="none" stroke="#f2f2f2" stroke-width="1.3" stroke-opacity="0.5" stroke-dasharray="1.5 2.5 1 3 2 2 1 4 1.5 2" stroke-dashoffset="11.1"/>
<path d="M95.8 474Q171.7 472 247.6 474" fill="none" stroke="#f2f2f2" stroke-width="1.4" stroke-opacity="0.55" stroke-dasharray="4 1 2 1 3 1.5 1 1 6 1 2 1" stroke-dashoffset="14.8"/>
<path d="M95.8 482.8Q171.7 480.8 247.6 482.8" fill="none" stroke="#f2f2f2" stroke-width="1.4" stroke-opacity="0.55" stroke-dasharray="2 1.5 1 2 3 1 1.5 3 4 1.2 1 1 2 2.5" stroke-dashoffset="18.5"/>
<path d="M95.8 492.8Q171.7 490.4 247.6 492.8" fill="none" stroke="#fafafa" stroke-width="1.9" stroke-opacity="0.85" stroke-dasharray="1 1 3 2 1.5 1 2 3 1 1.5 5 1" stroke-dashoffset="22.2"/>
<path d="M95.8 501.2Q171.7 498.4 247.6 501.2" fill="none" stroke="#ffffff" stroke-width="2.4" stroke-opacity="0.95" stroke-dasharray="3 1 1 1 2 2 1 3 2 1 1.5 1.5" stroke-dashoffset="25.9"/>
<path d="M103.8 508.3Q175.7 505.5 247.6 508.3" fill="none" stroke="#ffffff" stroke-width="2.2" stroke-opacity="0.92" stroke-dasharray="1.5 2.5 1 3 2 2 1 4 1.5 2" stroke-dashoffset="29.6"/>
<path d="M109.7 516.6Q178.65 514.6 247.6 516.6" fill="none" stroke="#fafafa" stroke-width="1.9" stroke-opacity="0.85" stroke-dasharray="4 1 2 1 3 1.5 1 1 6 1 2 1" stroke-dashoffset="33.3"/>
<path d="M95.8 523.8Q156.25 522.2 216.7 523.8" fill="none" stroke="#f2f2f2" stroke-width="1.4" stroke-opacity="0.5" stroke-dasharray="2 1.5 1 2 3 1 1.5 3 4 1.2 1 1 2 2.5" stroke-dashoffset="37"/>
<path d="M95.8 539.5Q171.7 537.9 247.6 539.5" fill="none" stroke="#f2f2f2" stroke-width="1.4" stroke-opacity="0.5" stroke-dasharray="1 1 3 2 1.5 1 2 3 1 1.5 5 1" stroke-dashoffset="40.7"/>
<path d="M95.8 549.8Q171.7 548.2 247.6 549.8" fill="none" stroke="#f2f2f2" stroke-width="1.3" stroke-opacity="0.45" stroke-dasharray="3 1 1 1 2 2 1 3 2 1 1.5 1.5" stroke-dashoffset="44.4"/>
<path d="M95.8 558.8Q171.7 557.2 247.6 558.8" fill="none" stroke="#f2f2f2" stroke-width="1.3" stroke-opacity="0.4" stroke-dasharray="1.5 2.5 1 3 2 2 1 4 1.5 2" stroke-dashoffset="48.1"/>
<path d="M115.8 501.2Q171.7 498.4 241.6 501.2M125.8 508.2Q171.7 505.6 207.6 508.2" stroke="#ffffff" stroke-width="1.4" stroke-opacity="0.75" fill="none"/>
<path d="M129.25 407.34h1.4M199.11 408.5h1.4M228.32 378.45h1.4M151.74 372.47h1.4M120.75 367.93h1.4M143.14 392.14h1.4M100.29 395.51h1.4M148.39 378.95h1.4M217.5 386.63h1.4M145.21 386.65h1.4M201.13 367.57h1.4M240.02 366.03h1.4" stroke="#4c4c4c" stroke-width="1.3" stroke-opacity="0.7"/>
</g>
<path d="M160.83 569V351.7M182.57 569V351.7" stroke="#ff0000" stroke-width="2.6" stroke-dasharray="9.5 3.8" fill="none"/>
</g>
<g clip-path="url(#cph)"><g filter="url(#cmCH)">
<rect x="263.8" y="349.7" width="155.8" height="221.3" fill="#000000"/>
<g mask="url(#mkhv)">
<rect x="265.8" y="388" width="151.8" height="181" fill="#000" filter="url(#dth3)" opacity="0.8"/>
<g mask="url(#mkh)">
<rect x="265.8" y="388" width="151.8" height="181" fill="#000" filter="url(#dth2)" opacity="0.85"/>
<rect x="265.8" y="388" width="151.8" height="181" fill="#000" filter="url(#dth4)" opacity="0.6"/>
</g></g>
<path d="M263.8 394.4Q341.7 388.2 419.6 394.4" stroke="#6b6b6b" stroke-width="5.6" fill="none" stroke-opacity="0.5" filter="url(#bl0_6)"/>
<path d="M263.8 394.4Q341.7 388.2 419.6 394.4" stroke="#b8b8b8" stroke-width="3.6" fill="none" stroke-opacity="0.85" stroke-dasharray="5 1 3 1.2 7 1 2 1.5"/>
<path d="M263.8 394.4Q341.7 388.2 419.6 394.4" stroke="#ffffff" stroke-width="2.2" fill="none" stroke-dasharray="3 1.5 1.5 2 4 1 1 1.5" stroke-opacity="0.9"/>
<path d="M265.8 409.7Q341.7 405.3 417.6 409.7" fill="none" stroke="#4c4c4c" stroke-width="1.5" stroke-opacity="0.4" stroke-dasharray="2 1.5 1 2 3 1 1.5 3 4 1.2 1 1 2 2.5" stroke-dashoffset="0"/>
<path d="M265.8 416.7Q341.7 412.3 417.6 416.7" fill="none" stroke="#4c4c4c" stroke-width="1.5" stroke-opacity="0.4" stroke-dasharray="1 1 3 2 1.5 1 2 3 1 1.5 5 1" stroke-dashoffset="5.1"/>
<path d="M265.8 425.7Q341.7 421.3 417.6 425.7" fill="none" stroke="#4c4c4c" stroke-width="1.5" stroke-opacity="0.4" stroke-dasharray="3 1 1 1 2 2 1 3 2 1 1.5 1.5" stroke-dashoffset="10.2"/>
<path d="M265.8 434.7Q341.7 430.3 417.6 434.7" fill="none" stroke="#4c4c4c" stroke-width="1.5" stroke-opacity="0.4" stroke-dasharray="1.5 2.5 1 3 2 2 1 4 1.5 2" stroke-dashoffset="15.3"/>
<path d="M265.8 451.7Q341.7 447.3 417.6 451.7" fill="none" stroke="#4c4c4c" stroke-width="1.5" stroke-opacity="0.4" stroke-dasharray="4 1 2 1 3 1.5 1 1 6 1 2 1" stroke-dashoffset="20.4"/>
<path d="M265.8 469.7Q341.7 465.3 417.6 469.7" fill="none" stroke="#4c4c4c" stroke-width="1.5" stroke-opacity="0.4" stroke-dasharray="2 1.5 1 2 3 1 1.5 3 4 1.2 1 1 2 2.5" stroke-dashoffset="25.5"/>
<path d="M265.8 487.7Q341.7 483.3 417.6 487.7" fill="none" stroke="#4c4c4c" stroke-width="1.5" stroke-opacity="0.4" stroke-dasharray="1 1 3 2 1.5 1 2 3 1 1.5 5 1" stroke-dashoffset="30.6"/>
<path d="M265.8 504.7Q341.7 500.3 417.6 504.7" fill="none" stroke="#4c4c4c" stroke-width="1.5" stroke-opacity="0.4" stroke-dasharray="3 1 1 1 2 2 1 3 2 1 1.5 1.5" stroke-dashoffset="35.7"/>
<path d="M265.8 522.7Q341.7 518.3 417.6 522.7" fill="none" stroke="#4c4c4c" stroke-width="1.5" stroke-opacity="0.4" stroke-dasharray="1.5 2.5 1 3 2 2 1 4 1.5 2" stroke-dashoffset="40.8"/>
<path d="M265.8 539.7Q341.7 535.3 417.6 539.7" fill="none" stroke="#4c4c4c" stroke-width="1.5" stroke-opacity="0.4" stroke-dasharray="4 1 2 1 3 1.5 1 1 6 1 2 1" stroke-dashoffset="45.9"/>
<path d="M265.8 556.7Q341.7 552.3 417.6 556.7" fill="none" stroke="#4c4c4c" stroke-width="1.5" stroke-opacity="0.4" stroke-dasharray="2 1.5 1 2 3 1 1.5 3 4 1.2 1 1 2 2.5" stroke-dashoffset="51"/>
<path d="M265.8 565.7Q341.7 561.3 417.6 565.7" fill="none" stroke="#4c4c4c" stroke-width="1.5" stroke-opacity="0.4" stroke-dasharray="1 1 3 2 1.5 1 2 3 1 1.5 5 1" stroke-dashoffset="56.1"/>
<g filter="url(#bl0_6)">
<path d="M324.7 401h34M324.7 409.9h34M324.7 418.8h34M324.7 427.7h34M324.7 436.6h34M324.7 445.5h34M324.7 454.4h34M324.7 463.3h34M324.7 472.2h34M324.7 481.1h34M324.7 490h34M324.7 498.9h34M324.7 507.8h34M324.7 516.7h34M324.7 525.6h34M324.7 534.5h34M324.7 543.4h34M324.7 552.3h34M324.7 561.2h34M324.7 570.1h34" stroke="#575757" stroke-width="2.6" stroke-opacity="0.5" fill="none" stroke-linecap="round"/>
<path d="M331.2 401h21M331.2 409.9h21M331.2 418.8h21M331.2 427.7h21M331.2 436.6h21M331.2 445.5h21M331.2 454.4h21M331.2 463.3h21M331.2 472.2h21M331.2 481.1h21M331.2 490h21M331.2 498.9h21M331.2 507.8h21M331.2 516.7h21M331.2 525.6h21M331.2 534.5h21M331.2 543.4h21M331.2 552.3h21M331.2 561.2h21M331.2 570.1h21" stroke="#808080" stroke-width="2.8" stroke-opacity="0.6" fill="none" stroke-linecap="round"/>
</g>
<path d="M333.2 401h17M333.2 409.9h17M333.2 418.8h17M333.2 427.7h17M333.2 436.6h17M333.2 445.5h17M333.2 454.4h17M333.2 463.3h17M333.2 472.2h17M333.2 481.1h17M333.2 490h17M333.2 498.9h17M333.2 507.8h17M333.2 516.7h17M333.2 525.6h17" stroke="#f7f7f7" stroke-width="2.3" stroke-opacity="0.9" fill="none" stroke-dasharray="4 0.8 2.5 0.7 5 0.9 1.5 0.6"/>
<path d="M334.7 534.5h14M334.7 543.4h14M334.7 552.3h14M334.7 561.2h14M334.7 570.1h14" stroke="#e6e6e6" stroke-width="2.0" stroke-opacity="0.75" fill="none" stroke-dasharray="3 1 2 1.2 1.5 1"/>
</g>
<path d="M330.83 569V351.7M352.57 569V351.7" stroke="#ff0000" stroke-width="2.6" stroke-dasharray="9.5 3.8" fill="none"/>
</g>
<g clip-path="url(#cpi)"><g filter="url(#cmCH)">
<rect x="433.8" y="349.7" width="155.8" height="221.3" fill="#000000"/>
<rect x="435.8" y="364" width="151.8" height="205" fill="#000" filter="url(#dti3)" opacity="0.7"/>
<g mask="url(#mki)">
<rect x="435.8" y="364" width="151.8" height="205" fill="#000" filter="url(#dti2)" opacity="0.7"/>
</g>
<path d="M433.8 371Q511.7 361 589.6 371" stroke="#3d3d3d" stroke-width="2.0" fill="none" stroke-opacity="0.7" stroke-dasharray="5 2 2 1.5 8 2 1 2"/>
<path d="M435.8 383.5Q511.7 378.5 587.6 383.5" fill="none" stroke="#333333" stroke-width="1.4" stroke-opacity="0.4" stroke-dasharray="2 1.5 1 2 3 1 1.5 3 4 1.2 1 1 2 2.5" stroke-dashoffset="0"/>
<path d="M435.8 392.5Q511.7 387.5 587.6 392.5" fill="none" stroke="#333333" stroke-width="1.4" stroke-opacity="0.4" stroke-dasharray="1 1 3 2 1.5 1 2 3 1 1.5 5 1" stroke-dashoffset="4.3"/>
<path d="M435.8 401.5Q511.7 396.5 587.6 401.5" fill="none" stroke="#333333" stroke-width="1.4" stroke-opacity="0.4" stroke-dasharray="3 1 1 1 2 2 1 3 2 1 1.5 1.5" stroke-dashoffset="8.6"/>
<path d="M435.8 410.5Q511.7 405.5 587.6 410.5" fill="none" stroke="#333333" stroke-width="1.4" stroke-opacity="0.4" stroke-dasharray="1.5 2.5 1 3 2 2 1 4 1.5 2" stroke-dashoffset="12.9"/>
<path d="M435.8 428.5Q511.7 423.5 587.6 428.5" fill="none" stroke="#333333" stroke-width="1.4" stroke-opacity="0.4" stroke-dasharray="4 1 2 1 3 1.5 1 1 6 1 2 1" stroke-dashoffset="17.2"/>
<path d="M435.8 445.5Q511.7 440.5 587.6 445.5" fill="none" stroke="#333333" stroke-width="1.4" stroke-opacity="0.4" stroke-dasharray="2 1.5 1 2 3 1 1.5 3 4 1.2 1 1 2 2.5" stroke-dashoffset="21.5"/>
<path d="M435.8 463.5Q511.7 458.5 587.6 463.5" fill="none" stroke="#333333" stroke-width="1.4" stroke-opacity="0.4" stroke-dasharray="1 1 3 2 1.5 1 2 3 1 1.5 5 1" stroke-dashoffset="25.8"/>
<path d="M435.8 480.5Q511.7 475.5 587.6 480.5" fill="none" stroke="#333333" stroke-width="1.4" stroke-opacity="0.4" stroke-dasharray="3 1 1 1 2 2 1 3 2 1 1.5 1.5" stroke-dashoffset="30.1"/>
<path d="M435.8 498.5Q511.7 493.5 587.6 498.5" fill="none" stroke="#333333" stroke-width="1.4" stroke-opacity="0.4" stroke-dasharray="1.5 2.5 1 3 2 2 1 4 1.5 2" stroke-dashoffset="34.4"/>
<path d="M435.8 515.5Q511.7 510.5 587.6 515.5" fill="none" stroke="#333333" stroke-width="1.4" stroke-opacity="0.4" stroke-dasharray="4 1 2 1 3 1.5 1 1 6 1 2 1" stroke-dashoffset="38.7"/>
<path d="M435.8 533.5Q511.7 528.5 587.6 533.5" fill="none" stroke="#333333" stroke-width="1.4" stroke-opacity="0.4" stroke-dasharray="2 1.5 1 2 3 1 1.5 3 4 1.2 1 1 2 2.5" stroke-dashoffset="43"/>
<path d="M435.8 550.5Q511.7 545.5 587.6 550.5" fill="none" stroke="#333333" stroke-width="1.4" stroke-opacity="0.4" stroke-dasharray="1 1 3 2 1.5 1 2 3 1 1.5 5 1" stroke-dashoffset="47.3"/>
<path d="M435.8 564.5Q511.7 559.5 587.6 564.5" fill="none" stroke="#333333" stroke-width="1.4" stroke-opacity="0.4" stroke-dasharray="3 1 1 1 2 2 1 3 2 1 1.5 1.5" stroke-dashoffset="51.6"/>
<g filter="url(#bl0_6)">
<path d="M496.7 401.9h30M496.7 410.65h30M496.7 419.4h30M496.7 428.15h30M496.7 436.9h30M496.7 445.65h30M496.7 454.4h30M496.7 463.15h30M496.7 471.9h30M496.7 480.65h30M496.7 489.4h30M496.7 498.15h30M496.7 506.9h30M496.7 515.65h30M496.7 524.4h30M496.7 533.15h30M496.7 541.9h30M496.7 550.65h30M496.7 559.4h30M496.7 568.15h30" stroke="#545454" stroke-width="2.4" stroke-opacity="0.45" fill="none" stroke-linecap="round"/>
<path d="M487.7 480.65h48M487.7 489.4h48M487.7 498.15h48M487.7 506.9h48M487.7 515.65h48M487.7 524.4h48M487.7 533.15h48M487.7 541.9h48M487.7 550.65h48M487.7 559.4h48" stroke="#4f4f4f" stroke-width="2.2" stroke-opacity="0.45" fill="none" stroke-linecap="round"/>
<path d="M502.2 419.4h19M502.2 428.15h19M502.2 436.9h19M502.2 445.65h19M502.2 454.4h19M502.2 463.15h19M502.2 471.9h19M502.2 480.65h19M502.2 489.4h19M502.2 498.15h19M502.2 506.9h19M502.2 515.65h19M502.2 524.4h19M502.2 533.15h19M502.2 541.9h19M502.2 550.65h19M502.2 559.4h19M502.2 568.15h19" stroke="#808080" stroke-width="2.6" stroke-opacity="0.6" fill="none" stroke-linecap="round"/>
</g>
<path d="M503.7 436.9h16M503.7 445.65h16M503.7 454.4h16M503.7 463.15h16M503.7 471.9h16M503.7 480.65h16M503.7 489.4h16M503.7 498.15h16M503.7 506.9h16M503.7 515.65h16M503.7 524.4h16M503.7 533.15h16M503.7 541.9h16M503.7 550.65h16M503.7 559.4h16" stroke="#f7f7f7" stroke-width="2.2" stroke-opacity="0.9" fill="none" stroke-dasharray="4 0.8 2.5 0.7 5 0.9 1.5 0.6"/>
<path d="M500.7 506.9h22M500.7 515.65h22M500.7 524.4h22M500.7 533.15h22M500.7 541.9h22" stroke="#ffffff" stroke-width="2.8" stroke-opacity="0.92" fill="none" stroke-dasharray="6 0.7 3 0.6 4 0.8"/>
<path d="M504.7 401.9h14M504.7 410.65h14M504.7 419.4h14M504.7 428.15h14" stroke="#737373" stroke-width="2.0" stroke-opacity="0.7" fill="none" stroke-dasharray="3 1 2 1.2 1.5 1"/>
</g>
<path d="M500.83 569V351.7M522.57 569V351.7" stroke="#ff0000" stroke-width="2.6" stroke-dasharray="9.5 3.8" fill="none"/>
</g>
<rect x="597.1" y="31" width="15" height="212.5" fill="url(#cb1)"/>
<path d="M612.1 49.3h9.3M612.1 112h9.3M612.1 174.7h9.3M612.1 243.5h9.3" stroke="#000" stroke-width="1.87" fill="none"/>
<rect x="597.1" y="31" width="15" height="212.5" fill="none" stroke="#000" stroke-width="1.87"/>
<rect x="1372.2" y="31" width="15.4" height="212.5" fill="url(#cb2)"/>
<path d="M1387.6 44.6h9.3M1387.6 138.6h9.3M1387.6 243.5h9.3" stroke="#000" stroke-width="1.87" fill="none"/>
<rect x="1372.2" y="31" width="15.4" height="212.5" fill="none" stroke="#000" stroke-width="1.87"/>
<rect x="597.1" y="351.7" width="15" height="217.3" fill="url(#cb3)"/>
<path d="M612.1 351.7h9.3M612.1 460.35h9.3M612.1 569h9.3" stroke="#000" stroke-width="1.87" fill="none"/>
<rect x="597.1" y="351.7" width="15" height="217.3" fill="none" stroke="#000" stroke-width="1.87"/>
<rect x="1372.2" y="353.5" width="15.4" height="214.3" fill="url(#cb4)"/>
<path d="M1387.6 353.5h9.3M1387.6 395.3h9.3M1387.6 437.1h9.3M1387.6 478.9h9.3M1387.6 520.9h9.3M1387.6 567.8h9.3" stroke="#000" stroke-width="1.87" fill="none"/>
<rect x="1372.2" y="353.5" width="15.4" height="214.3" fill="none" stroke="#000" stroke-width="1.87"/>
<path d="M95.8 243.5v4.8M103.39 243.5v4.8M110.98 243.5v4.8M118.57 243.5v4.8M126.16 243.5v4.8M133.75 243.5v4.8M141.34 243.5v4.8M148.93 243.5v4.8M156.52 243.5v4.8M164.11 243.5v4.8M171.7 243.5v4.8M179.29 243.5v4.8M186.88 243.5v4.8M194.47 243.5v4.8M202.06 243.5v4.8M209.65 243.5v4.8M217.24 243.5v4.8M224.83 243.5v4.8M232.42 243.5v4.8M240.01 243.5v4.8M247.6 243.5v4.8M95.8 243.19h-4.8M95.8 235.6h-4.8M95.8 228.01h-4.8M95.8 220.42h-4.8M95.8 212.83h-4.8M95.8 205.24h-4.8M95.8 197.65h-4.8M95.8 190.06h-4.8M95.8 182.47h-4.8M95.8 174.88h-4.8M95.8 167.29h-4.8M95.8 159.7h-4.8M95.8 152.11h-4.8M95.8 144.52h-4.8M95.8 136.93h-4.8M95.8 129.34h-4.8M95.8 121.75h-4.8M95.8 114.16h-4.8M95.8 106.57h-4.8M95.8 98.98h-4.8M95.8 91.39h-4.8M95.8 83.8h-4.8M95.8 76.21h-4.8M95.8 68.62h-4.8M95.8 61.03h-4.8M95.8 53.44h-4.8M95.8 45.85h-4.8M95.8 38.26h-4.8M95.8 30.67h-4.8" stroke="#000" stroke-width="1.4" fill="none"/>
<path d="M133.75 243.5v9.3M171.7 243.5v9.3M209.65 243.5v9.3M95.8 235.6h-9.3M95.8 159.7h-9.3M95.8 83.8h-9.3" stroke="#000" stroke-width="1.87" fill="none"/>
<rect x="95.8" y="31" width="151.8" height="212.5" fill="none" stroke="#000" stroke-width="1.87"/>
<path d="M265.8 243.5v4.8M273.39 243.5v4.8M280.98 243.5v4.8M288.57 243.5v4.8M296.16 243.5v4.8M303.75 243.5v4.8M311.34 243.5v4.8M318.93 243.5v4.8M326.52 243.5v4.8M334.11 243.5v4.8M341.7 243.5v4.8M349.29 243.5v4.8M356.88 243.5v4.8M364.47 243.5v4.8M372.06 243.5v4.8M379.65 243.5v4.8M387.24 243.5v4.8M394.83 243.5v4.8M402.42 243.5v4.8M410.01 243.5v4.8M417.6 243.5v4.8M265.8 237.19h-4.8M265.8 229.6h-4.8M265.8 222.01h-4.8M265.8 214.42h-4.8M265.8 206.83h-4.8M265.8 199.24h-4.8M265.8 191.65h-4.8M265.8 184.06h-4.8M265.8 176.47h-4.8M265.8 168.88h-4.8M265.8 161.29h-4.8M265.8 153.7h-4.8M265.8 146.11h-4.8M265.8 138.52h-4.8M265.8 130.93h-4.8M265.8 123.34h-4.8M265.8 115.75h-4.8M265.8 108.16h-4.8M265.8 100.57h-4.8M265.8 92.98h-4.8M265.8 85.39h-4.8M265.8 77.8h-4.8M265.8 70.21h-4.8M265.8 62.62h-4.8M265.8 55.03h-4.8M265.8 47.44h-4.8M265.8 39.85h-4.8M265.8 32.26h-4.8" stroke="#000" stroke-width="1.4" fill="none"/>
<path d="M303.75 243.5v9.3M341.7 243.5v9.3M379.65 243.5v9.3M265.8 229.6h-9.3M265.8 153.7h-9.3M265.8 77.8h-9.3" stroke="#000" stroke-width="1.87" fill="none"/>
<rect x="265.8" y="31" width="151.8" height="212.5" fill="none" stroke="#000" stroke-width="1.87"/>
<path d="M435.8 243.5v4.8M443.39 243.5v4.8M450.98 243.5v4.8M458.57 243.5v4.8M466.16 243.5v4.8M473.75 243.5v4.8M481.34 243.5v4.8M488.93 243.5v4.8M496.52 243.5v4.8M504.11 243.5v4.8M511.7 243.5v4.8M519.29 243.5v4.8M526.88 243.5v4.8M534.47 243.5v4.8M542.06 243.5v4.8M549.65 243.5v4.8M557.24 243.5v4.8M564.83 243.5v4.8M572.42 243.5v4.8M580.01 243.5v4.8M587.6 243.5v4.8M435.8 243.19h-4.8M435.8 235.6h-4.8M435.8 228.01h-4.8M435.8 220.42h-4.8M435.8 212.83h-4.8M435.8 205.24h-4.8M435.8 197.65h-4.8M435.8 190.06h-4.8M435.8 182.47h-4.8M435.8 174.88h-4.8M435.8 167.29h-4.8M435.8 159.7h-4.8M435.8 152.11h-4.8M435.8 144.52h-4.8M435.8 136.93h-4.8M435.8 129.34h-4.8M435.8 121.75h-4.8M435.8 114.16h-4.8M435.8 106.57h-4.8M435.8 98.98h-4.8M435.8 91.39h-4.8M435.8 83.8h-4.8M435.8 76.21h-4.8M435.8 68.62h-4.8M435.8 61.03h-4.8M435.8 53.44h-4.8M435.8 45.85h-4.8M435.8 38.26h-4.8M435.8 30.67h-4.8" stroke="#000" stroke-width="1.4" fill="none"/>
<path d="M473.75 243.5v9.3M511.7 243.5v9.3M549.65 243.5v9.3M435.8 235.6h-9.3M435.8 159.7h-9.3M435.8 83.8h-9.3" stroke="#000" stroke-width="1.87" fill="none"/>
<rect x="435.8" y="31" width="151.8" height="212.5" fill="none" stroke="#000" stroke-width="1.87"/>
<path d="M871.1 243.5v4.8M878.69 243.5v4.8M886.28 243.5v4.8M893.87 243.5v4.8M901.46 243.5v4.8M909.05 243.5v4.8M916.64 243.5v4.8M924.23 243.5v4.8M931.82 243.5v4.8M939.41 243.5v4.8M947 243.5v4.8M954.59 243.5v4.8M962.18 243.5v4.8M969.77 243.5v4.8M977.36 243.5v4.8M984.95 243.5v4.8M992.54 243.5v4.8M1000.13 243.5v4.8M1007.72 243.5v4.8M1015.31 243.5v4.8M1022.9 243.5v4.8M871.1 243.19h-4.8M871.1 235.6h-4.8M871.1 228.01h-4.8M871.1 220.42h-4.8M871.1 212.83h-4.8M871.1 205.24h-4.8M871.1 197.65h-4.8M871.1 190.06h-4.8M871.1 182.47h-4.8M871.1 174.88h-4.8M871.1 167.29h-4.8M871.1 159.7h-4.8M871.1 152.11h-4.8M871.1 144.52h-4.8M871.1 136.93h-4.8M871.1 129.34h-4.8M871.1 121.75h-4.8M871.1 114.16h-4.8M871.1 106.57h-4.8M871.1 98.98h-4.8M871.1 91.39h-4.8M871.1 83.8h-4.8M871.1 76.21h-4.8M871.1 68.62h-4.8M871.1 61.03h-4.8M871.1 53.44h-4.8M871.1 45.85h-4.8M871.1 38.26h-4.8M871.1 30.67h-4.8" stroke="#000" stroke-width="1.4" fill="none"/>
<path d="M909.05 243.5v9.3M947 243.5v9.3M984.95 243.5v9.3M871.1 235.6h-9.3M871.1 159.7h-9.3M871.1 83.8h-9.3" stroke="#000" stroke-width="1.87" fill="none"/>
<rect x="871.1" y="31" width="151.8" height="212.5" fill="none" stroke="#000" stroke-width="1.87"/>
<path d="M1041.1 243.5v4.8M1048.69 243.5v4.8M1056.28 243.5v4.8M1063.87 243.5v4.8M1071.46 243.5v4.8M1079.05 243.5v4.8M1086.64 243.5v4.8M1094.23 243.5v4.8M1101.82 243.5v4.8M1109.41 243.5v4.8M1117 243.5v4.8M1124.59 243.5v4.8M1132.18 243.5v4.8M1139.77 243.5v4.8M1147.36 243.5v4.8M1154.95 243.5v4.8M1162.54 243.5v4.8M1170.13 243.5v4.8M1177.72 243.5v4.8M1185.31 243.5v4.8M1192.9 243.5v4.8M1041.1 237.19h-4.8M1041.1 229.6h-4.8M1041.1 222.01h-4.8M1041.1 214.42h-4.8M1041.1 206.83h-4.8M1041.1 199.24h-4.8M1041.1 191.65h-4.8M1041.1 184.06h-4.8M1041.1 176.47h-4.8M1041.1 168.88h-4.8M1041.1 161.29h-4.8M1041.1 153.7h-4.8M1041.1 146.11h-4.8M1041.1 138.52h-4.8M1041.1 130.93h-4.8M1041.1 123.34h-4.8M1041.1 115.75h-4.8M1041.1 108.16h-4.8M1041.1 100.57h-4.8M1041.1 92.98h-4.8M1041.1 85.39h-4.8M1041.1 77.8h-4.8M1041.1 70.21h-4.8M1041.1 62.62h-4.8M1041.1 55.03h-4.8M1041.1 47.44h-4.8M1041.1 39.85h-4.8M1041.1 32.26h-4.8" stroke="#000" stroke-width="1.4" fill="none"/>
<path d="M1079.05 243.5v9.3M1117 243.5v9.3M1154.95 243.5v9.3M1041.1 229.6h-9.3M1041.1 153.7h-9.3M1041.1 77.8h-9.3" stroke="#000" stroke-width="1.87" fill="none"/>
<rect x="1041.1" y="31" width="151.8" height="212.5" fill="none" stroke="#000" stroke-width="1.87"/>
<path d="M1211.1 243.5v4.8M1218.69 243.5v4.8M1226.28 243.5v4.8M1233.87 243.5v4.8M1241.46 243.5v4.8M1249.05 243.5v4.8M1256.64 243.5v4.8M1264.23 243.5v4.8M1271.82 243.5v4.8M1279.41 243.5v4.8M1287 243.5v4.8M1294.59 243.5v4.8M1302.18 243.5v4.8M1309.77 243.5v4.8M1317.36 243.5v4.8M1324.95 243.5v4.8M1332.54 243.5v4.8M1340.13 243.5v4.8M1347.72 243.5v4.8M1355.31 243.5v4.8M1362.9 243.5v4.8M1211.1 243.19h-4.8M1211.1 235.6h-4.8M1211.1 228.01h-4.8M1211.1 220.42h-4.8M1211.1 212.83h-4.8M1211.1 205.24h-4.8M1211.1 197.65h-4.8M1211.1 190.06h-4.8M1211.1 182.47h-4.8M1211.1 174.88h-4.8M1211.1 167.29h-4.8M1211.1 159.7h-4.8M1211.1 152.11h-4.8M1211.1 144.52h-4.8M1211.1 136.93h-4.8M1211.1 129.34h-4.8M1211.1 121.75h-4.8M1211.1 114.16h-4.8M1211.1 106.57h-4.8M1211.1 98.98h-4.8M1211.1 91.39h-4.8M1211.1 83.8h-4.8M1211.1 76.21h-4.8M1211.1 68.62h-4.8M1211.1 61.03h-4.8M1211.1 53.44h-4.8M1211.1 45.85h-4.8M1211.1 38.26h-4.8M1211.1 30.67h-4.8" stroke="#000" stroke-width="1.4" fill="none"/>
<path d="M1249.05 243.5v9.3M1287 243.5v9.3M1324.95 243.5v9.3M1211.1 235.6h-9.3M1211.1 159.7h-9.3M1211.1 83.8h-9.3" stroke="#000" stroke-width="1.87" fill="none"/>
<rect x="1211.1" y="31" width="151.8" height="212.5" fill="none" stroke="#000" stroke-width="1.87"/>
<path d="M95.61 569v4.8M106.48 569v4.8M117.35 569v4.8M128.22 569v4.8M139.09 569v4.8M149.96 569v4.8M160.83 569v4.8M171.7 569v4.8M182.57 569v4.8M193.44 569v4.8M204.31 569v4.8M215.18 569v4.8M226.05 569v4.8M236.92 569v4.8M247.79 569v4.8M95.8 569h-4.8M95.8 558.13h-4.8M95.8 547.26h-4.8M95.8 536.39h-4.8M95.8 525.52h-4.8M95.8 514.65h-4.8M95.8 503.78h-4.8M95.8 492.91h-4.8M95.8 482.04h-4.8M95.8 471.17h-4.8M95.8 460.3h-4.8M95.8 449.43h-4.8M95.8 438.56h-4.8M95.8 427.69h-4.8M95.8 416.82h-4.8M95.8 405.95h-4.8M95.8 395.08h-4.8M95.8 384.21h-4.8M95.8 373.34h-4.8M95.8 362.47h-4.8M95.8 351.6h-4.8" stroke="#000" stroke-width="1.4" fill="none"/>
<path d="M117.35 569v9.3M171.7 569v9.3M226.05 569v9.3M95.8 482.04h-9.3M95.8 373.34h-9.3" stroke="#000" stroke-width="1.87" fill="none"/>
<rect x="95.8" y="351.7" width="151.8" height="217.3" fill="none" stroke="#000" stroke-width="1.87"/>
<path d="M265.61 569v4.8M276.48 569v4.8M287.35 569v4.8M298.22 569v4.8M309.09 569v4.8M319.96 569v4.8M330.83 569v4.8M341.7 569v4.8M352.57 569v4.8M363.44 569v4.8M374.31 569v4.8M385.18 569v4.8M396.05 569v4.8M406.92 569v4.8M417.79 569v4.8M265.8 569h-4.8M265.8 558.13h-4.8M265.8 547.26h-4.8M265.8 536.39h-4.8M265.8 525.52h-4.8M265.8 514.65h-4.8M265.8 503.78h-4.8M265.8 492.91h-4.8M265.8 482.04h-4.8M265.8 471.17h-4.8M265.8 460.3h-4.8M265.8 449.43h-4.8M265.8 438.56h-4.8M265.8 427.69h-4.8M265.8 416.82h-4.8M265.8 405.95h-4.8M265.8 395.08h-4.8M265.8 384.21h-4.8M265.8 373.34h-4.8M265.8 362.47h-4.8M265.8 351.6h-4.8" stroke="#000" stroke-width="1.4" fill="none"/>
<path d="M287.35 569v9.3M341.7 569v9.3M396.05 569v9.3M265.8 482.04h-9.3M265.8 373.34h-9.3" stroke="#000" stroke-width="1.87" fill="none"/>
<rect x="265.8" y="351.7" width="151.8" height="217.3" fill="none" stroke="#000" stroke-width="1.87"/>
<path d="M435.61 569v4.8M446.48 569v4.8M457.35 569v4.8M468.22 569v4.8M479.09 569v4.8M489.96 569v4.8M500.83 569v4.8M511.7 569v4.8M522.57 569v4.8M533.44 569v4.8M544.31 569v4.8M555.18 569v4.8M566.05 569v4.8M576.92 569v4.8M587.79 569v4.8M435.8 569h-4.8M435.8 558.13h-4.8M435.8 547.26h-4.8M435.8 536.39h-4.8M435.8 525.52h-4.8M435.8 514.65h-4.8M435.8 503.78h-4.8M435.8 492.91h-4.8M435.8 482.04h-4.8M435.8 471.17h-4.8M435.8 460.3h-4.8M435.8 449.43h-4.8M435.8 438.56h-4.8M435.8 427.69h-4.8M435.8 416.82h-4.8M435.8 405.95h-4.8M435.8 395.08h-4.8M435.8 384.21h-4.8M435.8 373.34h-4.8M435.8 362.47h-4.8M435.8 351.6h-4.8" stroke="#000" stroke-width="1.4" fill="none"/>
<path d="M457.35 569v9.3M511.7 569v9.3M566.05 569v9.3M435.8 482.04h-9.3M435.8 373.34h-9.3" stroke="#000" stroke-width="1.87" fill="none"/>
<rect x="435.8" y="351.7" width="151.8" height="217.3" fill="none" stroke="#000" stroke-width="1.87"/>
<path d="M871.54 567.8v4.8M877.42 567.8v4.8M883.3 567.8v4.8M889.18 567.8v4.8M895.06 567.8v4.8M900.94 567.8v4.8M906.82 567.8v4.8M912.7 567.8v4.8M918.58 567.8v4.8M924.46 567.8v4.8M930.34 567.8v4.8M936.22 567.8v4.8M942.1 567.8v4.8M947.98 567.8v4.8M953.86 567.8v4.8M959.74 567.8v4.8M965.62 567.8v4.8M971.5 567.8v4.8M977.38 567.8v4.8M983.26 567.8v4.8M989.14 567.8v4.8M995.02 567.8v4.8M1000.9 567.8v4.8M1006.78 567.8v4.8M1012.66 567.8v4.8M1018.54 567.8v4.8M871.1 567.8h-4.8M871.1 552.47h-4.8M871.1 537.14h-4.8M871.1 521.81h-4.8M871.1 506.48h-4.8M871.1 491.15h-4.8M871.1 475.82h-4.8M871.1 460.49h-4.8M871.1 445.16h-4.8M871.1 429.83h-4.8M871.1 414.5h-4.8M871.1 399.17h-4.8M871.1 383.84h-4.8M871.1 368.51h-4.8" stroke="#000" stroke-width="1.4" fill="none"/>
<path d="M883.3 567.8v9.3M942.1 567.8v9.3M1000.9 567.8v9.3M871.1 567.8h-9.3M871.1 491.15h-9.3M871.1 414.5h-9.3" stroke="#000" stroke-width="1.87" fill="none"/>
<rect x="871.1" y="353.5" width="151.8" height="214.3" fill="none" stroke="#000" stroke-width="1.87"/>
<path d="M1041.54 567.8v4.8M1047.42 567.8v4.8M1053.3 567.8v4.8M1059.18 567.8v4.8M1065.06 567.8v4.8M1070.94 567.8v4.8M1076.82 567.8v4.8M1082.7 567.8v4.8M1088.58 567.8v4.8M1094.46 567.8v4.8M1100.34 567.8v4.8M1106.22 567.8v4.8M1112.1 567.8v4.8M1117.98 567.8v4.8M1123.86 567.8v4.8M1129.74 567.8v4.8M1135.62 567.8v4.8M1141.5 567.8v4.8M1147.38 567.8v4.8M1153.26 567.8v4.8M1159.14 567.8v4.8M1165.02 567.8v4.8M1170.9 567.8v4.8M1176.78 567.8v4.8M1182.66 567.8v4.8M1188.54 567.8v4.8M1041.1 567.8h-4.8M1041.1 552.47h-4.8M1041.1 537.14h-4.8M1041.1 521.81h-4.8M1041.1 506.48h-4.8M1041.1 491.15h-4.8M1041.1 475.82h-4.8M1041.1 460.49h-4.8M1041.1 445.16h-4.8M1041.1 429.83h-4.8M1041.1 414.5h-4.8M1041.1 399.17h-4.8M1041.1 383.84h-4.8M1041.1 368.51h-4.8" stroke="#000" stroke-width="1.4" fill="none"/>
<path d="M1053.3 567.8v9.3M1112.1 567.8v9.3M1170.9 567.8v9.3M1041.1 567.8h-9.3M1041.1 491.15h-9.3M1041.1 414.5h-9.3" stroke="#000" stroke-width="1.87" fill="none"/>
<rect x="1041.1" y="353.5" width="151.8" height="214.3" fill="none" stroke="#000" stroke-width="1.87"/>
<path d="M1211.54 567.8v4.8M1217.42 567.8v4.8M1223.3 567.8v4.8M1229.18 567.8v4.8M1235.06 567.8v4.8M1240.94 567.8v4.8M1246.82 567.8v4.8M1252.7 567.8v4.8M1258.58 567.8v4.8M1264.46 567.8v4.8M1270.34 567.8v4.8M1276.22 567.8v4.8M1282.1 567.8v4.8M1287.98 567.8v4.8M1293.86 567.8v4.8M1299.74 567.8v4.8M1305.62 567.8v4.8M1311.5 567.8v4.8M1317.38 567.8v4.8M1323.26 567.8v4.8M1329.14 567.8v4.8M1335.02 567.8v4.8M1340.9 567.8v4.8M1346.78 567.8v4.8M1352.66 567.8v4.8M1358.54 567.8v4.8M1211.1 567.8h-4.8M1211.1 552.47h-4.8M1211.1 537.14h-4.8M1211.1 521.81h-4.8M1211.1 506.48h-4.8M1211.1 491.15h-4.8M1211.1 475.82h-4.8M1211.1 460.49h-4.8M1211.1 445.16h-4.8M1211.1 429.83h-4.8M1211.1 414.5h-4.8M1211.1 399.17h-4.8M1211.1 383.84h-4.8M1211.1 368.51h-4.8" stroke="#000" stroke-width="1.4" fill="none"/>
<path d="M1223.3 567.8v9.3M1282.1 567.8v9.3M1340.9 567.8v9.3M1211.1 567.8h-9.3M1211.1 491.15h-9.3M1211.1 414.5h-9.3" stroke="#000" stroke-width="1.87" fill="none"/>
<rect x="1211.1" y="353.5" width="151.8" height="214.3" fill="none" stroke="#000" stroke-width="1.87"/>
<g opacity="0.995" stroke="#000" stroke-width="0.4" stroke-linejoin="round">
<text x="133.75" y="282.8" font-size="28" text-anchor="middle">-5</text>
<text x="171.7" y="282.8" font-size="28" text-anchor="middle">0</text>
<text x="209.65" y="282.8" font-size="28" text-anchor="middle">5</text>
<text x="303.75" y="282.8" font-size="28" text-anchor="middle">-5</text>
<text x="341.7" y="282.8" font-size="28" text-anchor="middle">0</text>
<text x="379.65" y="282.8" font-size="28" text-anchor="middle">5</text>
<text x="473.75" y="282.8" font-size="28" text-anchor="middle">-5</text>
<text x="511.7" y="282.8" font-size="28" text-anchor="middle">0</text>
<text x="549.65" y="282.8" font-size="28" text-anchor="middle">5</text>
<text x="78.1" y="246.6" font-size="28" text-anchor="end">0</text>
<text x="78.1" y="170.7" font-size="28" text-anchor="end">10</text>
<text x="78.1" y="94.8" font-size="28" text-anchor="end">20</text>
<text x="909.05" y="282.8" font-size="28" text-anchor="middle">-5</text>
<text x="947" y="282.8" font-size="28" text-anchor="middle">0</text>
<text x="984.95" y="282.8" font-size="28" text-anchor="middle">5</text>
<text x="1079.05" y="282.8" font-size="28" text-anchor="middle">-5</text>
<text x="1117" y="282.8" font-size="28" text-anchor="middle">0</text>
<text x="1154.95" y="282.8" font-size="28" text-anchor="middle">5</text>
<text x="1249.05" y="282.8" font-size="28" text-anchor="middle">-5</text>
<text x="1287" y="282.8" font-size="28" text-anchor="middle">0</text>
<text x="1324.95" y="282.8" font-size="28" text-anchor="middle">5</text>
<text x="853.4" y="246.6" font-size="28" text-anchor="end">0</text>
<text x="853.4" y="170.7" font-size="28" text-anchor="end">10</text>
<text x="853.4" y="94.8" font-size="28" text-anchor="end">20</text>
<text x="117.35" y="608.9" font-size="28" text-anchor="middle">-5</text>
<text x="171.7" y="608.9" font-size="28" text-anchor="middle">0</text>
<text x="226.05" y="608.9" font-size="28" text-anchor="middle">5</text>
<text x="287.35" y="608.9" font-size="28" text-anchor="middle">-5</text>
<text x="341.7" y="608.9" font-size="28" text-anchor="middle">0</text>
<text x="396.05" y="608.9" font-size="28" text-anchor="middle">5</text>
<text x="457.35" y="608.9" font-size="28" text-anchor="middle">-5</text>
<text x="511.7" y="608.9" font-size="28" text-anchor="middle">0</text>
<text x="566.05" y="608.9" font-size="28" text-anchor="middle">5</text>
<text x="78.1" y="493.04" font-size="28" text-anchor="end">70</text>
<text x="78.1" y="384.34" font-size="28" text-anchor="end">80</text>
<text x="883.3" y="607.1" font-size="28" text-anchor="middle">0</text>
<text x="942.1" y="607.1" font-size="28" text-anchor="middle">100</text>
<text x="1000.9" y="607.1" font-size="28" text-anchor="middle">200</text>
<text x="1053.3" y="607.1" font-size="28" text-anchor="middle">0</text>
<text x="1112.1" y="607.1" font-size="28" text-anchor="middle">100</text>
<text x="1170.9" y="607.1" font-size="28" text-anchor="middle">200</text>
<text x="1223.3" y="607.1" font-size="28" text-anchor="middle">0</text>
<text x="1282.1" y="607.1" font-size="28" text-anchor="middle">100</text>
<text x="1340.9" y="607.1" font-size="28" text-anchor="middle">200</text>
<text x="853.4" y="578.8" font-size="28" text-anchor="end">0</text>
<text x="853.4" y="502.15" font-size="28" text-anchor="end">500</text>
<text x="853.4" y="425.5" font-size="28" text-anchor="end">1000</text>
<text x="629.4" y="60.7" font-size="28" text-anchor="start">10<tspan dy="-11.3" font-size="19.6">1</tspan><tspan dy="11.3" font-size="28">&#8203;</tspan></text>
<text x="629.4" y="123.4" font-size="28" text-anchor="start">10<tspan dy="-11.3" font-size="19.6">0</tspan><tspan dy="11.3" font-size="28">&#8203;</tspan></text>
<text x="629.4" y="186.1" font-size="28" text-anchor="start">10<tspan dy="-11.3" font-size="19.6">&#8722;1</tspan><tspan dy="11.3" font-size="28">&#8203;</tspan></text>
<text x="629.4" y="254.3" font-size="28" text-anchor="start">0</text>
<text x="1404.9" y="56" font-size="28" text-anchor="start">10<tspan dy="-11.3" font-size="19.6">1</tspan><tspan dy="11.3" font-size="28">&#8203;</tspan></text>
<text x="1404.9" y="150" font-size="28" text-anchor="start">10<tspan dy="-11.3" font-size="19.6">0</tspan><tspan dy="11.3" font-size="28">&#8203;</tspan></text>
<text x="1404.9" y="254.3" font-size="28" text-anchor="start">0</text>
<text x="629.4" y="362.5" font-size="28" text-anchor="start">2</text>
<text x="629.4" y="471.15" font-size="28" text-anchor="start">1</text>
<text x="629.4" y="579.8" font-size="28" text-anchor="start">0</text>
<text x="1404.9" y="364.9" font-size="28" text-anchor="start">10<tspan dy="-11.3" font-size="19.6">6</tspan><tspan dy="11.3" font-size="28">&#8203;</tspan></text>
<text x="1404.9" y="406.7" font-size="28" text-anchor="start">10<tspan dy="-11.3" font-size="19.6">5</tspan><tspan dy="11.3" font-size="28">&#8203;</tspan></text>
<text x="1404.9" y="448.5" font-size="28" text-anchor="start">10<tspan dy="-11.3" font-size="19.6">4</tspan><tspan dy="11.3" font-size="28">&#8203;</tspan></text>
<text x="1404.9" y="490.3" font-size="28" text-anchor="start">10<tspan dy="-11.3" font-size="19.6">3</tspan><tspan dy="11.3" font-size="28">&#8203;</tspan></text>
<text x="1404.9" y="532.3" font-size="28" text-anchor="start">10<tspan dy="-11.3" font-size="19.6">2</tspan><tspan dy="11.3" font-size="28">&#8203;</tspan></text>
<text x="1404.9" y="578.6" font-size="28" text-anchor="start">0</text>
<text transform="translate(730 137) rotate(-90)" font-size="29" text-anchor="middle" letter-spacing="-0.9"><tspan font-style="italic">n</tspan><tspan dy="0.23em" font-size="0.7em">e</tspan><tspan dy="-0.16em" font-size="1em">&#8203;</tspan>/<tspan font-style="italic">n</tspan><tspan dy="0.23em" font-size="0.7em">c</tspan><tspan dy="-0.16em" font-size="1em">&#8203;</tspan></text>
<text transform="translate(1491 138.5) rotate(-90)" font-size="28" text-anchor="middle" letter-spacing="-0.47">|e||<tspan font-style="italic">E</tspan><tspan dy="0.23em" font-size="0.7em"><tspan font-style="italic">x</tspan></tspan><tspan dy="-0.16em" font-size="1em">&#8203;</tspan>|/<tspan font-style="italic">m</tspan><tspan dy="0.23em" font-size="0.7em">e</tspan><tspan dy="-0.16em" font-size="1em">&#8203;</tspan><tspan font-style="italic">c&#969;</tspan></text>
<text transform="translate(687.5 462.2) rotate(-90)" font-size="31" text-anchor="middle" letter-spacing="-1.59">10<tspan dy="-0.57em" font-size="0.7em">&#8722;2</tspan><tspan dy="0.4em" font-size="1em">&#8203;</tspan><tspan font-style="italic">n</tspan><tspan dy="0.23em" font-size="0.7em">e</tspan><tspan dy="-0.16em" font-size="1em">&#8203;</tspan>/<tspan font-style="italic">n</tspan><tspan dy="0.23em" font-size="0.7em">c</tspan><tspan dy="-0.16em" font-size="1em">&#8203;</tspan></text>
<text transform="translate(1493.3 460.3) rotate(-90)" font-size="30.3" text-anchor="middle" letter-spacing="-0.22"><tspan font-style="italic">dN</tspan><tspan dy="0.23em" font-size="0.7em">e</tspan><tspan dy="-0.16em" font-size="1em">&#8203;</tspan>/<tspan font-style="italic">d&#949;</tspan><tspan dy="0.23em" font-size="0.7em">k</tspan><tspan dy="-0.16em" font-size="1em">&#8203;</tspan> [MeV<tspan dy="-0.57em" font-size="0.7em">&#8722;1</tspan><tspan dy="0.4em" font-size="1em">&#8203;</tspan>]</text>
<text transform="translate(23 137.3) rotate(-90)" font-size="28.5" text-anchor="middle" letter-spacing="-1.08"><tspan font-style="italic">x</tspan> [<tspan font-family="'DejaVu Sans Condensed','DejaVu Sans','Liberation Sans',sans-serif" font-stretch="condensed">&#181;m</tspan>]</text>
<text transform="translate(798 137) rotate(-90)" font-size="28.5" text-anchor="middle" letter-spacing="-1.17"><tspan font-style="italic">x</tspan> [<tspan font-family="'DejaVu Sans Condensed','DejaVu Sans','Liberation Sans',sans-serif" font-stretch="condensed">&#181;m</tspan>]</text>
<text transform="translate(23 459.8) rotate(-90)" font-size="28.5" text-anchor="middle" letter-spacing="-1.08"><tspan font-style="italic">x</tspan> [<tspan font-family="'DejaVu Sans Condensed','DejaVu Sans','Liberation Sans',sans-serif" font-stretch="condensed">&#181;m</tspan>]</text>
<text transform="translate(764.5 461) rotate(-90)" font-size="28.5" text-anchor="middle" letter-spacing="-0.56"><tspan font-style="italic">&#949;</tspan><tspan dy="0.23em" font-size="0.7em">k</tspan><tspan dy="-0.16em" font-size="1em">&#8203;</tspan> [MeV]</text>
<text x="338" y="640" font-size="28.5" text-anchor="middle" letter-spacing="-1.02"><tspan font-style="italic">y</tspan> [<tspan font-family="'DejaVu Sans Condensed','DejaVu Sans','Liberation Sans',sans-serif" font-stretch="condensed">&#181;m</tspan>]</text>
<text x="1113.5" y="316" font-size="28.5" text-anchor="middle" letter-spacing="-1.02"><tspan font-style="italic">y</tspan> [<tspan font-family="'DejaVu Sans Condensed','DejaVu Sans','Liberation Sans',sans-serif" font-stretch="condensed">&#181;m</tspan>]</text>
<text x="338" y="316" font-size="28.5" text-anchor="middle" letter-spacing="-1.02"><tspan font-style="italic">y</tspan> [<tspan font-family="'DejaVu Sans Condensed','DejaVu Sans','Liberation Sans',sans-serif" font-stretch="condensed">&#181;m</tspan>]</text>
<text x="1113" y="640.3" font-size="30" text-anchor="middle" letter-spacing="-0.54"><tspan font-style="italic">t</tspan> [fs]</text>
<text x="96.1" y="20.6" font-size="28" text-anchor="start" font-family="'DejaVu Sans Condensed','DejaVu Sans','Liberation Sans',sans-serif" font-stretch="condensed"><tspan font-style="italic">t</tspan></text><text x="106.1" y="20.6" font-size="28" text-anchor="start">=</text><text x="131.7" y="20.6" font-size="27.6" text-anchor="start" font-family="'DejaVu Sans Condensed','DejaVu Sans','Liberation Sans',sans-serif" font-stretch="condensed">48.3 fs</text>
<text x="871.4" y="20.6" font-size="28" text-anchor="start" font-family="'DejaVu Sans Condensed','DejaVu Sans','Liberation Sans',sans-serif" font-stretch="condensed"><tspan font-style="italic">t</tspan></text><text x="881.4" y="20.6" font-size="28" text-anchor="start">=</text><text x="907" y="20.6" font-size="27.6" text-anchor="start" font-family="'DejaVu Sans Condensed','DejaVu Sans','Liberation Sans',sans-serif" font-stretch="condensed">48.3 fs</text>
<text x="95.9" y="341.5" font-size="28" text-anchor="start" font-family="'DejaVu Sans Condensed','DejaVu Sans','Liberation Sans',sans-serif" font-stretch="condensed"><tspan font-style="italic">t</tspan></text><text x="105.9" y="341.5" font-size="28" text-anchor="start">=</text><text x="131.5" y="341.5" font-size="27.6" text-anchor="start" font-family="'DejaVu Sans Condensed','DejaVu Sans','Liberation Sans',sans-serif" font-stretch="condensed">248.3 fs</text>
<text x="96.8" y="60.4" font-size="30" text-anchor="start">(a)</text>
<text x="266.8" y="60.4" font-size="30" text-anchor="start">(b)</text>
<text x="436.8" y="60.4" font-size="30" text-anchor="start">(c)</text>
<text x="872.1" y="60.4" font-size="30" text-anchor="start">(d)</text>
<text x="1042.1" y="60.4" font-size="30" text-anchor="start">(e)</text>
<text x="1212.1" y="60.4" font-size="30" text-anchor="start">(f)</text>
<text x="96.8" y="381.5" font-size="30" text-anchor="start">(g)</text>
<text x="266.8" y="381.5" font-size="30" text-anchor="start">(h)</text>
<text x="436.8" y="381.5" font-size="30" text-anchor="start">(i)</text>
<text x="877.1" y="383.5" font-size="30" text-anchor="start">(j)</text>
<text x="1047.1" y="383.5" font-size="30" text-anchor="start">(k)</text>
<text x="1217.1" y="383.5" font-size="30" text-anchor="start">(l)</text>
</g>
</svg>
</body></html>
